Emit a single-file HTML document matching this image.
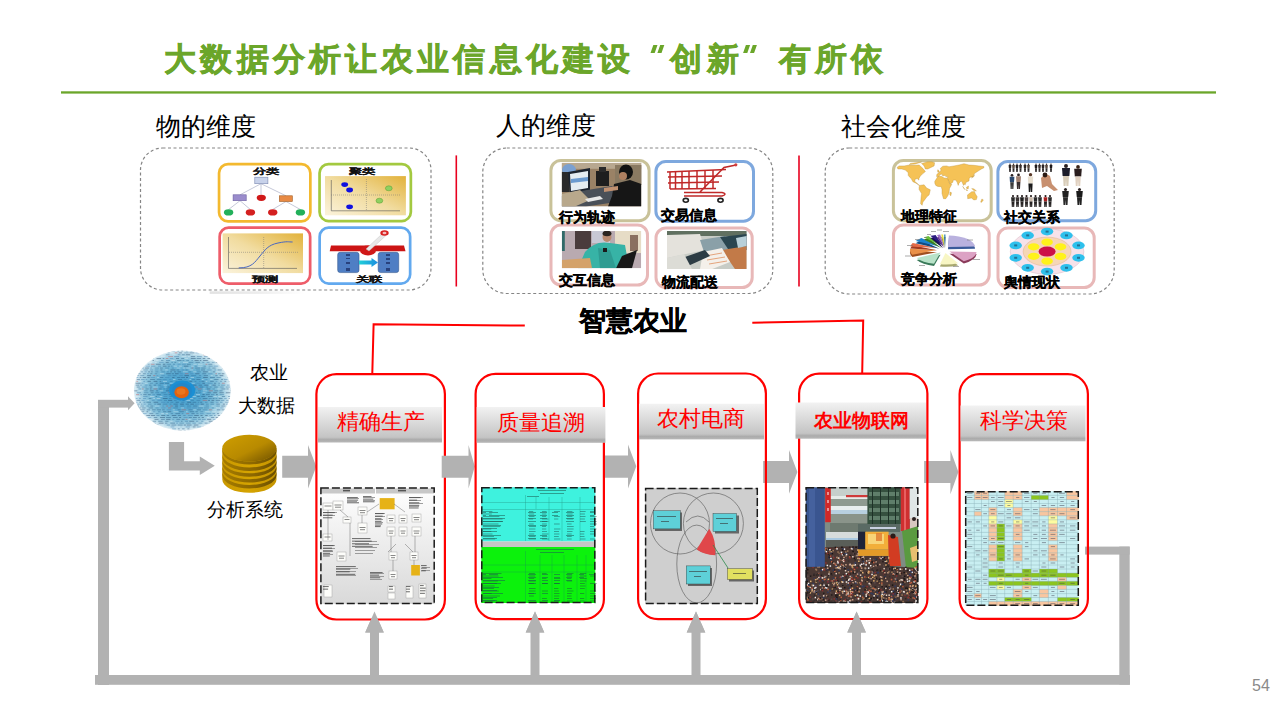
<!DOCTYPE html>
<html><head><meta charset="utf-8">
<style>
*{margin:0;padding:0;box-sizing:border-box}
html,body{width:1280px;height:719px;overflow:hidden;background:#fff}
body{position:relative;font-family:"Liberation Sans",sans-serif;color:#000}
.a{position:absolute;white-space:nowrap;line-height:1}
#title{left:164.2px;top:43.2px;font-size:32px;font-weight:bold;color:#6ba62a;letter-spacing:4.16px;-webkit-text-stroke:0.6px #6ba62a}
#title .q{display:inline-block;width:36.16px;height:1px}
.h{font-size:24.5px}
.ct{font-size:22px;color:#ff0000}
.lbl{font-size:14px;font-weight:bold;-webkit-text-stroke:0.3px #000}
.m{font-size:18px}
.sm{font-size:13px;font-weight:bold;color:#111;-webkit-text-stroke:0.3px #111;transform:scaleY(0.6);transform-origin:0 0}
svg{position:absolute;left:0;top:0}
</style></head>
<body>
<svg width="1280" height="719" viewBox="0 0 1280 719">
<defs>
  <linearGradient id="hdr" x1="0" y1="0" x2="0" y2="1">
    <stop offset="0" stop-color="#f2f2f2"/>
    <stop offset="0.85" stop-color="#c4c4c4"/>
    <stop offset="0.92" stop-color="#ababab"/>
    <stop offset="1" stop-color="#b8b8b8"/>
  </linearGradient>
  <linearGradient id="gold" x1="0" y1="1" x2="1" y2="0">
    <stop offset="0" stop-color="#fbf3dc"/>
    <stop offset="0.5" stop-color="#f1dca0"/>
    <stop offset="1" stop-color="#e2b23a"/>
  </linearGradient>
  <linearGradient id="dbtop" x1="0" y1="0" x2="1" y2="1">
    <stop offset="0" stop-color="#cf9e00"/>
    <stop offset="0.55" stop-color="#b88a00"/>
    <stop offset="1" stop-color="#6e5000"/>
  </linearGradient>
  <linearGradient id="dbside" x1="0" y1="0" x2="1" y2="0">
    <stop offset="0" stop-color="#c99800"/>
    <stop offset="0.5" stop-color="#d6a400"/>
    <stop offset="1" stop-color="#c49400"/>
  </linearGradient>
  <radialGradient id="globe" cx="0.5" cy="0.5" r="0.5">
    <stop offset="0" stop-color="#3a9ace"/>
    <stop offset="0.45" stop-color="#58a8d0"/>
    <stop offset="0.75" stop-color="#84c0da"/>
    <stop offset="0.92" stop-color="#b4d8e8"/>
    <stop offset="1" stop-color="#dcedf4"/>
  </radialGradient>
  <linearGradient id="dbband" x1="0" y1="0" x2="1" y2="0">
    <stop offset="0" stop-color="#a67c00"/>
    <stop offset="0.6" stop-color="#8a6600"/>
    <stop offset="1" stop-color="#6a4e00"/>
  </linearGradient>
  <linearGradient id="fc" x1="0" y1="0" x2="0" y2="1">
    <stop offset="0" stop-color="#ffffff"/>
    <stop offset="1" stop-color="#d9d9d9"/>
  </linearGradient>
</defs>

<!-- green rule -->
<rect x="61" y="91.3" width="1155" height="2.3" fill="#6ba62a"/>
<g fill="#6ba62a">
  <polygon points="653.3,45 657.5,45 654.7,52.9 650.5,52.9"/>
  <polygon points="660.2,45 664.3,45 661.5,52.9 657.4,52.9"/>
  <polygon points="745.9,45 750.1,45 747.3,52.9 743.1,52.9"/>
  <polygon points="752.8,45 756.9,45 754.1,52.9 750,52.9"/>
</g>
<!-- dashed boxes -->
<g fill="none" stroke="#858585" stroke-width="1.2" stroke-dasharray="3 2.5">
  <rect x="140.5" y="148" width="290.5" height="142" rx="22"/>
  <rect x="482.8" y="148" width="290" height="145.5" rx="24"/>
  <rect x="825.2" y="148" width="289" height="146" rx="24"/>
</g>
<!-- red separators -->
<g stroke="#e8001e" stroke-width="1.6">
  <line x1="456.3" y1="155.4" x2="456.3" y2="286.5"/>
  <line x1="799" y1="155.6" x2="799" y2="286.5"/>
</g>

<linearGradient id="fb" x1="0" x2="1"><stop offset="0" stop-color="#e2e2e2"/><stop offset="0.5" stop-color="#ececec"/><stop offset="1" stop-color="#fff"/></linearGradient>
<rect x="209.7" y="291.3" width="95" height="2.6" fill="url(#fb)"/>
<!-- tiles -->
<rect x="219.05" y="164.05" width="91.30" height="57.40" rx="9" fill="#fff" stroke="#f3b92f" stroke-width="2.7"/>
<rect x="319.55" y="164.05" width="91.30" height="57.00" rx="9" fill="#fff" stroke="#a3c940" stroke-width="2.7"/>
<rect x="219.65" y="227.65" width="90.50" height="55.90" rx="9" fill="#fff" stroke="#ee5d6a" stroke-width="2.7"/>
<rect x="319.65" y="227.65" width="90.50" height="55.90" rx="9" fill="#fff" stroke="#62a9ef" stroke-width="2.7"/>
<g stroke="#8a90b0" stroke-width="0.5" fill="none"><path d="M261 183.7L240 194.8M261 183.7V194.5M261 183.7L286 195.8M240 200.7L228.6 209.5M240 200.7L250.4 209.5M286 201.5L272.7 209.5M286 201.5L300.4 209.5"/></g>
<rect x="254.8" y="177.2" width="13.1" height="6.5" fill="#c8d2ea" stroke="#7a88b0" stroke-width="0.6"/>
<rect x="233.1" y="194.8" width="13.1" height="5.9" fill="#9a8ccc" stroke="#6a5ca0" stroke-width="0.6"/>
<rect x="279.4" y="195.8" width="12.9" height="5.7" fill="#e88a44" stroke="#a05a20" stroke-width="0.6"/>
<ellipse cx="261.3" cy="197.8" rx="4.6" ry="3.1" fill="#d01818"/>
<ellipse cx="228.6" cy="212.4" rx="4.7" ry="3.1" fill="#22b05a"/>
<ellipse cx="250.4" cy="212.4" rx="4.7" ry="3.1" fill="#d42020"/>
<ellipse cx="272.7" cy="212.4" rx="4.7" ry="3.1" fill="#d42020"/>
<ellipse cx="300.4" cy="212.4" rx="4.7" ry="3.1" fill="#22b05a"/>
<rect x="325" y="176.1" width="80.9" height="39.2" fill="url(#gold)"/>
<g stroke="#555" stroke-width="0.6" fill="none"><path d="M331.3 180V210.8H400"/></g>
<g stroke="#777" stroke-width="0.5" stroke-dasharray="1 1"><path d="M366.4 179V211M331 195H401"/></g>
<ellipse cx="344.7" cy="184.6" rx="3.4" ry="2.4" fill="#1010e0"/>
<ellipse cx="349.6" cy="190" rx="3.4" ry="2.4" fill="#1010e0"/>
<ellipse cx="349.6" cy="206.8" rx="3.4" ry="2.4" fill="#1010e0"/>
<ellipse cx="388.8" cy="188.3" rx="3.4" ry="2.5" fill="#8fd060" stroke="#5a9a30" stroke-width="0.5"/>
<ellipse cx="379.4" cy="200.7" rx="3.4" ry="2.5" fill="#8fd060" stroke="#5a9a30" stroke-width="0.5"/>
<rect x="222.6" y="233.4" width="80.4" height="39.7" fill="url(#gold)"/>
<g stroke="#555" stroke-width="0.6" fill="none"><path d="M228.5 237V268.4H297"/></g>
<g stroke="#777" stroke-width="0.5" stroke-dasharray="1 1" fill="none"><path d="M263.7 237V268M229 252.3H298"/></g>
<path d="M238.7 267.9C252 268 255 262 260 256S268 245 278 243S288 242 292.6 242" fill="none" stroke="#4a68c0" stroke-width="1"/>
<path d="M331 245.5H404L405.5 251.3H329.7Z" fill="#cc1414"/>
<ellipse cx="368" cy="250.5" rx="8" ry="5" fill="#d01818"/>
<path d="M366 249L383 233L386 235.5L369 251Z" fill="#e8e8e8" stroke="#bbb" stroke-width="0.4"/>
<ellipse cx="384.5" cy="233" rx="4.2" ry="2.8" fill="#d82020"/>
<ellipse cx="384.5" cy="233" rx="2" ry="1.2" fill="#fff" opacity="0.7"/>
<rect x="337.7" y="252.3" width="21.3" height="20.3" rx="2.5" fill="#4f7ec4" stroke="#365a90" stroke-width="0.6"/>
<rect x="378.2" y="252.3" width="20.5" height="20.3" rx="2.5" fill="#4f7ec4" stroke="#365a90" stroke-width="0.6"/>
<linearGradient id="cy" x1="0" x2="1"><stop offset="0" stop-color="#20d0d8"/><stop offset="1" stop-color="#1c8ce0"/></linearGradient>
<path d="M359 260.5H371.5V258L378 262.5L371.5 267V264.5H359Z" fill="url(#cy)"/>
<g fill="#1a2a60" opacity="0.7"><rect x="346" y="254" width="4" height="2"/><rect x="346" y="258" width="4" height="1"/><rect x="346" y="262" width="4" height="2"/><rect x="346" y="268" width="4" height="3"/><rect x="386" y="254" width="4" height="2"/><rect x="386" y="258" width="4" height="2"/><rect x="386" y="262" width="4" height="2"/><rect x="386" y="268" width="4" height="3"/></g>
<rect x="550.90" y="160.40" width="98.20" height="60.30" rx="10" fill="#fff" stroke="#c9c299" stroke-width="3"/>
<rect x="655.90" y="161.40" width="97.60" height="59.80" rx="10" fill="#fff" stroke="#7ea8de" stroke-width="3"/>
<rect x="551.00" y="225.00" width="96.50" height="60.10" rx="10" fill="#fff" stroke="#e8b8b8" stroke-width="3"/>
<rect x="656.00" y="228.00" width="96.20" height="59.60" rx="10" fill="#fff" stroke="#e8b8b8" stroke-width="3"/>
<clipPath id="p1"><rect x="561.7" y="162.8" width="79.7" height="43.8"/></clipPath><g clip-path="url(#p1)">
<rect x="561.7" y="162.8" width="79.7" height="43.8" fill="#9a8266"/>
<rect x="561.7" y="162.8" width="79.7" height="6" fill="#b8a890"/>
<rect x="615" y="165" width="27" height="20" fill="#8a7a62"/>
<ellipse cx="569" cy="170" rx="7" ry="6" fill="#7aa0d0"/>
<rect x="561.7" y="172" width="8" height="20" fill="#2a2a2a"/>
<path d="M568 172L590 168V190L570 194Z" fill="#1c2430"/>
<path d="M570 174L588 171V188L571 191Z" fill="#e4ecf2"/>
<path d="M571 179L588 177V181L571 183Z" fill="#6a9ad0"/>
<rect x="596" y="171" width="13" height="15" fill="#1e1e1e"/>
<rect x="599" y="167" width="7" height="5" fill="#2a2a2a"/>
<path d="M575 192L612 186L630 200L586 206.6H561.7V196Z" fill="#4a5058"/>
<path d="M561.7 194L580 190L590 200L575 206.6H561.7Z" fill="#b8a88c"/>
<path d="M585 199L600 196L603 199L588 202Z" fill="#e8e8e8"/>
<ellipse cx="626" cy="172" rx="7" ry="7.5" fill="#121212"/>
<ellipse cx="623" cy="176" rx="4" ry="4" fill="#b08060"/>
<path d="M614 184L630 180L641.4 184V206.6H608L612 196Z" fill="#161616"/>
<path d="M604 188L618 186L618 190L604 192Z" fill="#c09070"/>
</g>
<g fill="none" stroke="#c02828" stroke-width="1.5">
<path d="M667 172L726 169.5M668 177L722 176M668 183L719 182M670 189L716 188.5"/>
<path d="M670 172V189M675.5 172V189M682 171.5V189M689 171V189M697 171V189M705 170V189M713 170V189"/>
<path d="M700 192L724 167.5L736 165M684 192.5L722 192.5Q728 194 722 196H684"/>
</g>
<circle cx="735.8" cy="164.8" r="1.6" fill="#d04040"/>
<g fill="#fff" stroke="#222" stroke-width="1.6"><ellipse cx="685.8" cy="200.3" rx="2.6" ry="1.9"/><ellipse cx="720.5" cy="200.3" rx="2.6" ry="1.9"/></g>
<clipPath id="p3"><rect x="561.8" y="231" width="79.4" height="37.3"/></clipPath><g clip-path="url(#p3)">
<rect x="561.8" y="231" width="79.4" height="37.3" fill="#b9aab0"/>
<rect x="575" y="231" width="16" height="18" fill="#4a3c3c"/>
<rect x="592" y="231" width="18" height="12" fill="#c8c8d4"/>
<rect x="615" y="231" width="26.2" height="22" fill="#e6dcc6"/>
<rect x="630" y="235" width="8" height="16" fill="#8a7060"/>
<rect x="561.8" y="231" width="3" height="20" fill="#306a68"/>
<path d="M578 268.3L585 252Q595 240 610 243L625 245L628 262L620 268.3Z" fill="#37b3a6"/>
<path d="M598 248L610 250L616 268.3H600Z" fill="#2e9c92"/>
<ellipse cx="607" cy="237" rx="4.5" ry="5" fill="#b88a70"/>
<ellipse cx="607" cy="233.5" rx="4.5" ry="2.8" fill="#2a2420"/>
<rect x="603" y="248" width="4" height="4" fill="#1a1a1a"/>
<path d="M622 256L637 250L632 268.3H616Z" fill="#181818"/>
<path d="M561.8 260L590 258L592 268.3H561.8Z" fill="#d4a26a"/>
</g>
<clipPath id="p4"><rect x="667" y="231" width="79.7" height="38.1"/></clipPath><g clip-path="url(#p4)">
<rect x="667" y="231" width="79.7" height="38.1" fill="#c8ccc6"/>
<rect x="667" y="231" width="79.7" height="5" fill="#607060"/>
<path d="M667 235L700 234L705 250L667 258Z" fill="#e4e2dc"/>
<path d="M700 240L725 236L730 250L705 255Z" fill="#8aa0a8"/>
<path d="M720 237L746.7 234V250L730 252Z" fill="#2a4650"/>
<path d="M722 250L746.7 246V269.1H735Z" fill="#c27a48"/>
<path d="M703 252L722 248L730 262L712 269.1H700Z" fill="#f4f0ea"/>
<path d="M705 256L722 253M707 260L725 257M709 264L727 261" stroke="#e09060" stroke-width="0.8"/>
<path d="M682 258L705 250L710 256L688 266Z" fill="#2c3c44"/>
<path d="M667 258L684 254L692 269.1H667Z" fill="#dcdcd6"/>
<path d="M736 238L746.7 236V246L738 248Z" fill="#b8d0d8"/>
</g>
<rect x="893.40" y="160.40" width="97.80" height="60.30" rx="10" fill="#fff" stroke="#c9c299" stroke-width="3"/>
<rect x="997.90" y="161.40" width="97.80" height="59.30" rx="10" fill="#fff" stroke="#7ea8de" stroke-width="3"/>
<rect x="893.50" y="225.00" width="95.70" height="60.10" rx="10" fill="#fff" stroke="#e8b8b8" stroke-width="3"/>
<rect x="998.00" y="228.00" width="96.20" height="59.60" rx="10" fill="#fff" stroke="#e8b8b8" stroke-width="3"/>
<g fill="#f5c256" stroke="#b38a34" stroke-width="0.35" stroke-linejoin="round">
<path d="M897.2 167.2L899.2 165.9L904.2 165.9L907.9 165.3L915.4 165.3L919.1 165.0L922.9 168.4L925.4 171.6L922.6 173.8L920.4 176.0L918.9 178.5L918.9 180.1L917.1 178.5L914.9 179.4L914.9 181.7L917.1 183.2L918.4 185.1L919.6 185.4L916.1 183.2L912.9 181.7L911.2 178.5L909.7 177.2L908.2 175.3L908.2 172.8L905.4 170.0L901.7 169.0L897.9 169.0Z"/>
<path d="M909.2 164.6L915.4 164.0L919.1 162.7L921.6 162.1L915.4 162.7L910.4 163.4Z"/>
<path d="M925.4 169.0L927.8 169.0L934.1 165.9L934.6 162.7L931.6 161.8L927.8 161.8L921.6 163.4L924.1 165.9Z"/>
<path d="M919.6 185.4L924.1 184.8L926.6 188.0L930.3 189.8L929.1 194.9L927.1 196.5L924.6 199.9L922.9 202.1L922.1 205.3L920.6 203.7L921.1 197.4L921.6 193.6L919.1 189.5L919.1 187.3Z"/>
<path d="M936.6 176.6L936.8 174.4L938.6 172.8L940.3 171.6L941.0 170.0L940.3 168.4L942.8 166.2L946.5 165.9L949.0 166.8L954.0 165.9L959.0 165.0L964.0 163.7L969.0 165.0L973.9 165.3L978.9 165.9L983.9 166.5L983.9 167.8L981.4 169.0L978.9 170.6L974.4 173.5L972.7 176.9L970.7 176.9L969.2 178.5L969.0 181.0L966.0 182.3L965.2 184.8L964.0 183.9L963.5 185.4L962.0 181.7L961.0 181.0L959.0 183.2L958.2 185.4L957.2 182.3L955.7 180.1L953.3 180.1L952.8 182.3L950.0 184.2L949.0 181.7L947.3 178.5L947.8 176.6L945.8 176.6L945.0 175.3L942.8 176.0L942.0 174.1L940.3 174.4L938.6 176.6Z"/>
<path d="M934.8 183.2L934.8 181.3L936.6 178.5L937.8 176.6L941.5 176.3L944.0 177.9L947.0 178.2L947.8 179.1L949.8 184.2L951.8 184.2L949.5 188.6L949.0 192.7L947.8 195.8L945.8 198.7L943.5 198.7L942.0 193.6L942.0 189.5L941.3 186.7L937.8 186.4L935.8 185.4Z"/>
<path d="M967.5 194.9L969.7 193.3L971.7 191.7L973.2 191.7L974.4 191.4L975.4 193.9L977.2 196.8L976.4 199.6L973.9 199.9L971.4 198.0L967.7 198.7Z"/>
<path d="M937.8 172.2L939.3 171.9L938.6 170.3L937.8 169.7L937.6 170.9Z"/>
<path d="M962.7 186.4L965.2 189.8L964.0 188.6Z"/>
<path d="M966.0 190.2L967.7 190.5L966.5 189.8Z"/>
<path d="M966.5 187.3L968.5 186.1L968.2 188.9L966.7 188.6Z"/>
<path d="M971.7 188.6L974.2 188.9L976.4 191.1L973.9 190.5Z"/>
<path d="M971.4 177.9L972.9 176.9L974.4 174.7L973.9 176.6Z"/>
<path d="M950.0 192.1L951.5 192.7L950.8 195.8L949.8 194.9Z"/>
<path d="M981.9 199.0L983.4 199.9L981.4 202.4L980.7 202.1Z"/>
</g>
<g><circle cx="1010.0" cy="164.3" r="0.77" fill="#2a2020"/><path d="M1008.6 165.0H1011.4L1011.1 168.2H1008.9Z" fill="#2a2424"/><path d="M1009.0 168.2H1011.0L1010.8 172.0H1010.1L1010.0 169.4L1009.9 172.0H1009.2Z" fill="#2a2626"/><circle cx="1013.5" cy="164.3" r="0.77" fill="#2a2020"/><path d="M1012.1 165.0H1014.9L1014.6 168.2H1012.4Z" fill="#5a4a40"/><path d="M1012.5 168.2H1014.5L1014.3 172.0H1013.6L1013.5 169.4L1013.4 172.0H1012.7Z" fill="#2a2626"/><circle cx="1017.0" cy="164.3" r="0.77" fill="#2a2020"/><path d="M1015.6 165.0H1018.4L1018.1 168.2H1015.9Z" fill="#1e1a1c"/><path d="M1016.0 168.2H1018.0L1017.8 172.0H1017.1L1017.0 169.4L1016.9 172.0H1016.2Z" fill="#2a2626"/><circle cx="1020.5" cy="164.3" r="0.77" fill="#2a2020"/><path d="M1019.1 165.0H1021.9L1021.6 168.2H1019.4Z" fill="#3a3030"/><path d="M1019.5 168.2H1021.5L1021.3 172.0H1020.6L1020.5 169.4L1020.4 172.0H1019.7Z" fill="#2a2626"/><circle cx="1025.0" cy="164.3" r="0.77" fill="#2a2020"/><path d="M1023.6 165.0H1026.4L1026.1 168.2H1023.9Z" fill="#2a2424"/><path d="M1024.0 168.2H1026.0L1025.8 172.0H1025.1L1025.0 169.4L1024.9 172.0H1024.2Z" fill="#2a2626"/><circle cx="1028.5" cy="164.3" r="0.77" fill="#2a2020"/><path d="M1027.1 165.0H1029.9L1029.6 168.2H1027.4Z" fill="#5a4a40"/><path d="M1027.5 168.2H1029.5L1029.3 172.0H1028.6L1028.5 169.4L1028.4 172.0H1027.7Z" fill="#2a2626"/><circle cx="1036.0" cy="164.3" r="0.77" fill="#2a2020"/><path d="M1034.6 165.0H1037.4L1037.1 168.2H1034.9Z" fill="#1e1a1c"/><path d="M1035.0 168.2H1037.0L1036.8 172.0H1036.1L1036.0 169.4L1035.9 172.0H1035.2Z" fill="#2a2626"/><circle cx="1039.5" cy="164.3" r="0.77" fill="#2a2020"/><path d="M1038.1 165.0H1040.9L1040.6 168.2H1038.4Z" fill="#3a3030"/><path d="M1038.5 168.2H1040.5L1040.3 172.0H1039.6L1039.5 169.4L1039.4 172.0H1038.7Z" fill="#2a2626"/><circle cx="1043.0" cy="164.3" r="0.77" fill="#2a2020"/><path d="M1041.6 165.0H1044.4L1044.1 168.2H1041.9Z" fill="#2a2424"/><path d="M1042.0 168.2H1044.0L1043.8 172.0H1043.1L1043.0 169.4L1042.9 172.0H1042.2Z" fill="#2a2626"/><circle cx="1046.5" cy="164.3" r="0.77" fill="#2a2020"/><path d="M1045.1 165.0H1047.9L1047.6 168.2H1045.4Z" fill="#5a4a40"/><path d="M1045.5 168.2H1047.5L1047.3 172.0H1046.6L1046.5 169.4L1046.4 172.0H1045.7Z" fill="#2a2626"/><circle cx="1051.0" cy="164.3" r="0.77" fill="#2a2020"/><path d="M1049.6 165.0H1052.4L1052.1 168.2H1049.9Z" fill="#1e1a1c"/><path d="M1050.0 168.2H1052.0L1051.8 172.0H1051.1L1051.0 169.4L1050.9 172.0H1050.2Z" fill="#2a2626"/><circle cx="1012.0" cy="175.3" r="1.35" fill="#2a2020"/><path d="M1009.6 176.7H1014.4L1014.0 182.2H1010.0Z" fill="#2c4a70"/><path d="M1010.2 182.2H1013.8L1013.4 189.0H1012.2L1012.0 184.5L1011.8 189.0H1010.6Z" fill="#3a3a3a"/><circle cx="1018.5" cy="174.9" r="1.40" fill="#2a2020"/><path d="M1016.0 176.3H1021.0L1020.6 182.0H1016.4Z" fill="#a08070"/><path d="M1016.6 182.0H1020.4L1020.0 189.0H1018.7L1018.5 184.3L1018.3 189.0H1017.0Z" fill="#3a3030"/><circle cx="1030.5" cy="174.7" r="1.71" fill="#5a3a2a"/><path d="M1027.8 176.4H1033.2L1032.8 183.4H1028.2Z" fill="#e8e0d0"/><path d="M1028.4 183.4H1032.6L1032.2 192.0H1030.8L1030.5 186.3L1030.2 192.0H1028.8Z" fill="#1a1a1a"/><path d="M1041 178Q1046 172 1050 176L1052 184L1058 190L1054 191L1047 186L1042 188Z" fill="#c89070"/><circle cx="1045" cy="175" r="2.4" fill="#2a1a14"/><circle cx="1066.0" cy="166.0" r="1.98" fill="#2a2020"/><path d="M1062.0 168.0H1070.0L1069.4 176.1H1062.6Z" fill="#1c1c2a"/><path d="M1063.0 176.1H1069.0L1068.4 186.0H1066.4L1066.0 179.4L1065.6 186.0H1063.6Z" fill="#d8ccb8"/><circle cx="1078.0" cy="166.9" r="1.89" fill="#3a2418"/><path d="M1074.2 168.8H1081.8L1081.2 176.6H1074.8Z" fill="#2a1e1e"/><path d="M1075.2 176.6H1080.8L1080.2 186.0H1078.4L1078.0 179.7L1077.6 186.0H1075.8Z" fill="#e0d0c0"/><circle cx="1013.0" cy="196.1" r="1.08" fill="#2a2020"/><path d="M1011.1 197.2H1014.9L1014.6 201.6H1011.4Z" fill="#2a2a2a"/><path d="M1011.5 201.6H1014.5L1014.2 207.0H1013.2L1013.0 203.4L1012.8 207.0H1011.8Z" fill="#262222"/><circle cx="1017.5" cy="196.1" r="1.08" fill="#2a2020"/><path d="M1015.6 197.2H1019.4L1019.1 201.6H1015.9Z" fill="#3a3434"/><path d="M1016.0 201.6H1019.0L1018.7 207.0H1017.7L1017.5 203.4L1017.3 207.0H1016.3Z" fill="#262222"/><circle cx="1022.0" cy="196.1" r="1.08" fill="#2a2020"/><path d="M1020.1 197.2H1023.9L1023.6 201.6H1020.4Z" fill="#1e1e1e"/><path d="M1020.5 201.6H1023.5L1023.2 207.0H1022.2L1022.0 203.4L1021.8 207.0H1020.8Z" fill="#262222"/><circle cx="1026.5" cy="196.1" r="1.08" fill="#2a2020"/><path d="M1024.6 197.2H1028.4L1028.1 201.6H1024.9Z" fill="#4a4040"/><path d="M1025.0 201.6H1028.0L1027.7 207.0H1026.7L1026.5 203.4L1026.3 207.0H1025.3Z" fill="#262222"/><circle cx="1031.0" cy="196.1" r="1.08" fill="#2a2020"/><path d="M1029.1 197.2H1032.9L1032.6 201.6H1029.4Z" fill="#c8b8a8"/><path d="M1029.5 201.6H1032.5L1032.2 207.0H1031.2L1031.0 203.4L1030.8 207.0H1029.8Z" fill="#262222"/><circle cx="1035.5" cy="196.1" r="1.08" fill="#2a2020"/><path d="M1033.6 197.2H1037.4L1037.1 201.6H1033.9Z" fill="#2a2a2a"/><path d="M1034.0 201.6H1037.0L1036.7 207.0H1035.7L1035.5 203.4L1035.3 207.0H1034.3Z" fill="#262222"/><circle cx="1040.0" cy="196.1" r="1.08" fill="#2a2020"/><path d="M1038.1 197.2H1041.9L1041.6 201.6H1038.4Z" fill="#2a2a2a"/><path d="M1038.5 201.6H1041.5L1041.2 207.0H1040.2L1040.0 203.4L1039.8 207.0H1038.8Z" fill="#262222"/><circle cx="1045.5" cy="196.1" r="1.08" fill="#2a2020"/><path d="M1043.6 197.2H1047.4L1047.1 201.6H1043.9Z" fill="#a82020"/><path d="M1044.0 201.6H1047.0L1046.7 207.0H1045.7L1045.5 203.4L1045.3 207.0H1044.3Z" fill="#262222"/><circle cx="1050.0" cy="196.1" r="1.08" fill="#2a2020"/><path d="M1048.1 197.2H1051.9L1051.6 201.6H1048.4Z" fill="#2a2a2a"/><path d="M1048.5 201.6H1051.5L1051.2 207.0H1050.2L1050.0 203.4L1049.8 207.0H1048.8Z" fill="#262222"/><circle cx="1065.5" cy="189.5" r="1.53" fill="#2a2020"/><path d="M1062.2 191.1H1068.8L1068.2 197.3H1062.8Z" fill="#222"/><path d="M1063.0 197.3H1068.0L1067.5 205.0H1065.8L1065.5 199.9L1065.2 205.0H1063.5Z" fill="#2a2a2a"/><circle cx="1079.5" cy="189.5" r="1.53" fill="#2a2020"/><path d="M1076.2 191.1H1082.8L1082.2 197.3H1076.8Z" fill="#1a1a1a"/><path d="M1077.0 197.3H1082.0L1081.5 205.0H1079.8L1079.5 199.9L1079.2 205.0H1077.5Z" fill="#222"/></g>
<path d="M948.0 249.2L948.9 237.7A27 11.5 0 0 1 975.0 248.8Z" fill="#3a5a9a"/>
<path d="M948.0 247.0L948.9 235.5A27 11.5 0 0 1 975.0 246.6Z" fill="#b9b1de"/>
<path d="M949.5 253.7L976.5 254.1A27 11.5 0 0 1 963.8 263.5Z" fill="#8a3a5a"/>
<path d="M949.5 251.5L976.5 251.9A27 11.5 0 0 1 963.8 261.3Z" fill="#dca2c4"/>
<path d="M945.5 255.2L958.2 265.4A27 11.5 0 0 1 939.9 266.4Z" fill="#a8a870"/>
<path d="M945.5 253.0L958.2 263.2A27 11.5 0 0 1 939.9 264.2Z" fill="#f8f6c4"/>
<path d="M940.5 254.7L934.0 265.9A27 11.5 0 0 1 916.7 260.1Z" fill="#3a7a5a"/>
<path d="M940.5 252.5L934.0 263.7A27 11.5 0 0 1 916.7 257.9Z" fill="#b8e2c8"/>
<path d="M937.0 252.2L912.3 256.9A27 11.5 0 0 1 910.1 251.0Z" fill="#a05020"/>
<path d="M937.0 250.0L912.3 254.7A27 11.5 0 0 1 910.1 248.8Z" fill="#ea9048"/>
<path d="M937.0 250.2L910.3 248.6A27 11.5 0 0 1 912.7 245.2Z" fill="#a03a20"/>
<path d="M937.0 248.0L910.3 246.4A27 11.5 0 0 1 912.7 243.0Z" fill="#e46a48"/>
<path d="M939.5 248.7L915.7 243.3A27 11.5 0 0 1 921.4 240.2Z" fill="#104a80"/>
<path d="M939.5 246.5L915.7 241.1A27 11.5 0 0 1 921.4 238.0Z" fill="#1a82d0"/>
<path d="M941.5 248.2L923.8 239.5A27 11.5 0 0 1 928.4 238.1Z" fill="#3a7a20"/>
<path d="M941.5 246.0L923.8 237.3A27 11.5 0 0 1 928.4 235.9Z" fill="#68c038"/>
<path d="M943.0 248.2L930.3 238.0A27 11.5 0 0 1 935.6 237.1Z" fill="#1a1050"/>
<path d="M943.0 246.0L930.3 235.8A27 11.5 0 0 1 935.6 234.9Z" fill="#2a1a80"/>
<path d="M944.0 248.2L937.0 237.1A27 11.5 0 0 1 940.2 236.8Z" fill="#603080"/>
<path d="M944.0 246.0L937.0 234.9A27 11.5 0 0 1 940.2 234.6Z" fill="#a070c8"/>
<path d="M944.5 248.2L941.2 236.8A27 11.5 0 0 1 943.1 236.7Z" fill="#908a20"/>
<path d="M944.5 246.0L941.2 234.6A27 11.5 0 0 1 943.1 234.5Z" fill="#e8e040"/>
<path d="M945.0 248.2L944.1 236.7A27 11.5 0 0 1 945.5 236.7Z" fill="#1a4a60"/>
<path d="M945.0 246.0L944.1 234.5A27 11.5 0 0 1 945.5 234.5Z" fill="#3a8ab0"/>
<g fill="#777" opacity="0.6"><rect x="967" y="239.5" width="6" height="1"/><rect x="973" y="259" width="7" height="1"/><rect x="953" y="266" width="6" height="1"/><rect x="919" y="265" width="6" height="1"/><rect x="905" y="255.5" width="6" height="1"/><rect x="907" y="245" width="6" height="1"/><rect x="915" y="239" width="5" height="1"/><rect x="924" y="237" width="3" height="1"/><rect x="927" y="234" width="4" height="1"/><rect x="931" y="231" width="5" height="1"/><rect x="937" y="229.5" width="5" height="1"/><rect x="943" y="231" width="6" height="1"/></g>
<ellipse cx="1047.1" cy="251.6" rx="36.8" ry="22.8" fill="#f6e2ea" stroke="#d0a8b8" stroke-width="0.4"/>
<ellipse cx="1047.1" cy="251.6" rx="24" ry="14.5" fill="#f6d6b6" stroke="#d8a880" stroke-width="0.4"/>
<ellipse cx="1078.5" cy="257.8" rx="6.2" ry="3.9" fill="#2ec0ec"/>
<rect x="1077.0" y="256.8" width="3" height="2" fill="#1a3a5a" opacity="0.6"/>
<ellipse cx="1066.5" cy="267.8" rx="6.2" ry="3.9" fill="#2ec0ec"/>
<rect x="1065.0" y="266.8" width="3" height="2" fill="#1a3a5a" opacity="0.6"/>
<ellipse cx="1047.1" cy="271.6" rx="6.2" ry="3.9" fill="#2ec0ec"/>
<rect x="1045.6" y="270.6" width="3" height="2" fill="#1a3a5a" opacity="0.6"/>
<ellipse cx="1027.7" cy="267.8" rx="6.2" ry="3.9" fill="#2ec0ec"/>
<rect x="1026.2" y="266.8" width="3" height="2" fill="#1a3a5a" opacity="0.6"/>
<ellipse cx="1015.7" cy="257.8" rx="6.2" ry="3.9" fill="#2ec0ec"/>
<rect x="1014.2" y="256.8" width="3" height="2" fill="#1a3a5a" opacity="0.6"/>
<ellipse cx="1015.7" cy="245.4" rx="6.2" ry="3.9" fill="#2ec0ec"/>
<rect x="1014.2" y="244.4" width="3" height="2" fill="#1a3a5a" opacity="0.6"/>
<ellipse cx="1027.7" cy="235.4" rx="6.2" ry="3.9" fill="#2ec0ec"/>
<rect x="1026.2" y="234.4" width="3" height="2" fill="#1a3a5a" opacity="0.6"/>
<ellipse cx="1047.1" cy="231.6" rx="6.2" ry="3.9" fill="#2ec0ec"/>
<rect x="1045.6" y="230.6" width="3" height="2" fill="#1a3a5a" opacity="0.6"/>
<ellipse cx="1066.5" cy="235.4" rx="6.2" ry="3.9" fill="#2ec0ec"/>
<rect x="1065.0" y="234.4" width="3" height="2" fill="#1a3a5a" opacity="0.6"/>
<ellipse cx="1078.5" cy="245.4" rx="6.2" ry="3.9" fill="#2ec0ec"/>
<rect x="1077.0" y="244.4" width="3" height="2" fill="#1a3a5a" opacity="0.6"/>
<ellipse cx="1047.1" cy="261.1" rx="5.8" ry="3.6" fill="#fff21a"/>
<ellipse cx="1033.7" cy="256.3" rx="5.8" ry="3.6" fill="#fff21a"/>
<ellipse cx="1033.7" cy="246.8" rx="5.8" ry="3.6" fill="#fff21a"/>
<ellipse cx="1047.1" cy="242.1" rx="5.8" ry="3.6" fill="#fff21a"/>
<ellipse cx="1060.5" cy="246.8" rx="5.8" ry="3.6" fill="#fff21a"/>
<ellipse cx="1060.5" cy="256.4" rx="5.8" ry="3.6" fill="#fff21a"/>
<ellipse cx="1047.1" cy="251.6" rx="8.5" ry="5" fill="#cc1048"/>
<!-- ===== BOTTOM DIAGRAM ===== -->
<!-- feedback loop (gray) -->
<g fill="#b2b2b2">
  <rect x="98" y="403" width="11" height="282"/>
  <rect x="95" y="675" width="1035" height="9.8"/>
  <rect x="1119.3" y="546.6" width="10.4" height="138"/>
  <rect x="1085" y="546.6" width="44.7" height="8"/>
  <rect x="98" y="399.8" width="31" height="7.8"/>
  <polygon points="128,396.3 134.6,403.3 128,410.3"/>
  <!-- up arrows -->
  <g id="up">
    <rect x="370" y="630" width="9" height="46"/>
    <polygon points="374.5,611.4 383.8,632.5 365.2,632.5"/>
  </g>
  <rect x="530.5" y="630" width="9" height="46"/>
  <polygon points="535,611.4 544.3,632.5 525.7,632.5"/>
  <rect x="691.5" y="630" width="9" height="46"/>
  <polygon points="696,611.4 705.3,632.5 686.7,632.5"/>
  <rect x="852" y="630" width="9" height="46"/>
  <polygon points="856.6,611.4 865.9,632.5 847.3,632.5"/>
  <!-- L arrow globe -> db -->
  <polygon points="168.9,442 184.1,442 184.1,461.3 199.8,461.3 199.8,456.6 214.8,465.8 199.8,474.9 199.8,470.6 168.9,470.6"/>
</g>

<!-- right arrows -->
<g fill="#b2b2b2">
  <polygon points="282.2,455.8 308,455.8 308,445 316.3,466.5 308,488.4 308,477.7 282.2,477.7"/>
  <polygon points="604,455.5 628,455.5 628,444.6 636.3,466.3 628,488.4 628,477.7 604,477.7"/>
  <polygon points="763.1,461 789,461 789,450 797.4,471.9 789,493.8 789,483 763.1,483"/>
  <polygon points="924.1,461 950.4,461 950.4,450 958.4,472 950.4,494.3 950.4,483 924.1,483"/>
</g>
<!-- cards -->
<g fill="#fff" stroke="#ff0000" stroke-width="2.2">
  <rect x="316.4" y="374.1" width="128.5" height="245.4" rx="20"/>
</g>
<polygon fill="#b2b2b2" points="441.7,455.8 468.5,455.8 468.5,445 474.8,466.5 468.5,488.4 468.5,477.7 441.7,477.7"/>
<g fill="none" stroke="#ff0000" stroke-width="2.2">
  <rect x="475.6" y="373.9" width="128.3" height="245.3" rx="20"/>
  <rect x="638.1" y="373.5" width="127.8" height="245.6" rx="20"/>
  <rect x="799.1" y="373.6" width="128.3" height="245.4" rx="20"/>
  <rect x="959.6" y="374.1" width="128.3" height="244.8" rx="20"/>
</g>
<!-- header bands -->
<rect x="318" y="407" width="124" height="35.5" fill="url(#hdr)"/>
<rect x="476.7" y="407" width="128.7" height="35.8" fill="url(#hdr)"/>
<rect x="639" y="403.8" width="125" height="35.6" fill="url(#hdr)"/>
<rect x="795.5" y="402.5" width="130.5" height="36.2" fill="url(#hdr)"/>
<rect x="960.5" y="405.5" width="125" height="35.8" fill="url(#hdr)"/>
<!-- connector lines -->
<g fill="none" stroke="#ff0000" stroke-width="2">
  <polyline points="524.8,325.6 373.6,324.2 372.3,373.4"/>
  <polyline points="752.3,322.8 863.2,320.4 862.2,373"/>
</g>
<!-- up arrow heads over card bottoms -->
<g fill="#b2b2b2">
  <polygon points="374.5,611.4 383.8,632.5 365.2,632.5"/>
  <polygon points="535,611.4 544.3,632.5 525.7,632.5"/>
  <polygon points="696,611.4 705.3,632.5 686.7,632.5"/>
  <polygon points="856.6,611.4 865.9,632.5 847.3,632.5"/>
</g>
<!-- CARD IMAGES -->
<!-- card1 flowchart -->
<g>
  <rect x="320.4" y="487.6" width="114.3" height="116.3" fill="url(#fc)"/>
  <rect x="321" y="488.5" width="54" height="5" fill="#c8c8c8"/>
  <rect x="376" y="488.5" width="58" height="5" fill="#c8c8c8"/>
  <rect x="379.7" y="498.1" width="14.9" height="11.2" fill="#e6b217"/>
  <rect x="411.2" y="565" width="8.7" height="10.5" fill="#e6b217"/>
  <g fill="#fdfdfa" stroke="#a8a8a8" stroke-width="0.5">
    <rect x="323" y="503" width="10" height="7"/><rect x="333" y="501" width="10" height="9"/>
    <rect x="343" y="517" width="8" height="6"/><rect x="358" y="507" width="9" height="8"/>
    <rect x="358" y="523" width="9" height="10"/><rect x="323" y="534" width="9" height="7"/>
    <rect x="337" y="552" width="9" height="9"/><rect x="387" y="515" width="8" height="8"/>
    <rect x="399" y="515" width="8" height="8"/><rect x="412" y="514" width="9" height="8"/>
    <rect x="387" y="527" width="8" height="9"/><rect x="399" y="527" width="8" height="9"/>
    <rect x="412" y="527" width="9" height="9"/><rect x="389" y="552" width="8" height="8"/>
    <rect x="410" y="552" width="8" height="8"/><rect x="389" y="571" width="8" height="8"/>
    <rect x="388" y="586" width="7" height="6"/><rect x="388" y="593" width="7" height="6"/>
    <rect x="406" y="586" width="7" height="12"/><rect x="419" y="584" width="7" height="14"/>
    <rect x="324" y="585" width="8" height="12"/>
  </g>
  <g stroke="#444" stroke-width="0.5" opacity="0.75">
    <path d="M328 510V540M340 510L348 517M350 523V556M362 515V523M367 512L379 504M394 504L405 512M391 536V552M415 536V552M396 544L388 552M405 544L413 552M393 560V571M414 560V565"/>
  </g>
  <g fill="#888" opacity="0.8">
    <rect x="323" y="512" width="14" height="1"/><rect x="323" y="515" width="12" height="1"/>
    <rect x="347" y="498" width="12" height="1"/><rect x="347" y="501" width="10" height="1"/>
    <rect x="363" y="497" width="12" height="1"/><rect x="363" y="500" width="12" height="1"/>
    <rect x="375" y="513" width="10" height="1"/><rect x="375" y="516" width="10" height="1"/>
    <rect x="375" y="519" width="8" height="1"/><rect x="375" y="522" width="8" height="1"/>
    <rect x="375" y="525" width="6" height="1"/><rect x="355" y="541" width="22" height="1"/>
    <rect x="355" y="544" width="24" height="1"/><rect x="355" y="547" width="22" height="1"/>
    <rect x="355" y="550" width="20" height="1"/><rect x="355" y="553" width="18" height="1"/>
    <rect x="336" y="568" width="22" height="1"/><rect x="336" y="571" width="20" height="1"/>
    <rect x="336" y="575" width="20" height="1"/><rect x="370" y="573" width="14" height="1"/>
    <rect x="370" y="576" width="14" height="1"/><rect x="370" y="579" width="12" height="1"/>
    <rect x="409" y="497" width="14" height="1"/><rect x="409" y="500" width="12" height="1"/>
    <rect x="409" y="503" width="14" height="1"/><rect x="409" y="506" width="10" height="1"/>
    <rect x="422" y="567" width="8" height="1"/><rect x="422" y="570" width="8" height="1"/>
    <rect x="323" y="545" width="12" height="1"/><rect x="323" y="548" width="12" height="1"/>
    <rect x="323" y="551" width="10" height="1"/><rect x="323" y="554" width="10" height="1"/>
  </g>
  <rect x="343" y="489.8" width="7" height="1.6" fill="#555"/><rect x="398" y="489.8" width="8" height="1.6" fill="#555"/>
<rect x="347" y="497.0" width="10.8" height="1.1" fill="#4a4a4a" opacity="0.75"/>
<rect x="347" y="499.6" width="11.1" height="1.1" fill="#4a4a4a" opacity="0.75"/>
<rect x="347" y="502.2" width="12.0" height="1.1" fill="#4a4a4a" opacity="0.75"/>
<rect x="363" y="496.0" width="8.5" height="1.1" fill="#4a4a4a" opacity="0.75"/>
<rect x="363" y="498.6" width="10.3" height="1.1" fill="#4a4a4a" opacity="0.75"/>
<rect x="363" y="501.2" width="11.5" height="1.1" fill="#4a4a4a" opacity="0.75"/>
<rect x="409" y="497.0" width="11.6" height="1.1" fill="#4a4a4a" opacity="0.75"/>
<rect x="409" y="499.6" width="8.1" height="1.1" fill="#4a4a4a" opacity="0.75"/>
<rect x="409" y="502.2" width="10.3" height="1.1" fill="#4a4a4a" opacity="0.75"/>
<rect x="409" y="504.8" width="10.2" height="1.1" fill="#4a4a4a" opacity="0.75"/>
<rect x="409" y="507.4" width="9.6" height="1.1" fill="#4a4a4a" opacity="0.75"/>
<rect x="323" y="512.0" width="11.8" height="1.1" fill="#4a4a4a" opacity="0.75"/>
<rect x="323" y="514.6" width="9.7" height="1.1" fill="#4a4a4a" opacity="0.75"/>
<rect x="323" y="517.2" width="9.3" height="1.1" fill="#4a4a4a" opacity="0.75"/>
<rect x="375" y="513.0" width="8.8" height="1.1" fill="#4a4a4a" opacity="0.75"/>
<rect x="375" y="515.6" width="7.7" height="1.1" fill="#4a4a4a" opacity="0.75"/>
<rect x="375" y="518.2" width="6.5" height="1.1" fill="#4a4a4a" opacity="0.75"/>
<rect x="375" y="520.8" width="6.5" height="1.1" fill="#4a4a4a" opacity="0.75"/>
<rect x="375" y="523.4" width="7.2" height="1.1" fill="#4a4a4a" opacity="0.75"/>
<rect x="375" y="526.0" width="5.6" height="1.1" fill="#4a4a4a" opacity="0.75"/>
<rect x="352" y="538.0" width="18.5" height="1.1" fill="#4a4a4a" opacity="0.75"/>
<rect x="352" y="540.6" width="19.7" height="1.1" fill="#4a4a4a" opacity="0.75"/>
<rect x="352" y="543.2" width="17.0" height="1.1" fill="#4a4a4a" opacity="0.75"/>
<rect x="352" y="545.8" width="20.6" height="1.1" fill="#4a4a4a" opacity="0.75"/>
<rect x="323" y="545.0" width="10.7" height="1.1" fill="#4a4a4a" opacity="0.75"/>
<rect x="323" y="547.6" width="9.0" height="1.1" fill="#4a4a4a" opacity="0.75"/>
<rect x="323" y="550.2" width="9.6" height="1.1" fill="#4a4a4a" opacity="0.75"/>
<rect x="323" y="552.8" width="7.1" height="1.1" fill="#4a4a4a" opacity="0.75"/>
<rect x="323" y="555.4" width="6.8" height="1.1" fill="#4a4a4a" opacity="0.75"/>
<rect x="336" y="566.0" width="19.8" height="1.1" fill="#4a4a4a" opacity="0.75"/>
<rect x="336" y="568.6" width="14.3" height="1.1" fill="#4a4a4a" opacity="0.75"/>
<rect x="336" y="571.2" width="13.7" height="1.1" fill="#4a4a4a" opacity="0.75"/>
<rect x="336" y="573.8" width="19.2" height="1.1" fill="#4a4a4a" opacity="0.75"/>
<rect x="370" y="572.0" width="12.6" height="1.1" fill="#4a4a4a" opacity="0.75"/>
<rect x="370" y="574.6" width="9.1" height="1.1" fill="#4a4a4a" opacity="0.75"/>
<rect x="370" y="577.2" width="10.2" height="1.1" fill="#4a4a4a" opacity="0.75"/>
<rect x="421" y="565.0" width="5.6" height="1.1" fill="#4a4a4a" opacity="0.75"/>
<rect x="421" y="567.6" width="5.7" height="1.1" fill="#4a4a4a" opacity="0.75"/>
<rect x="421" y="570.2" width="4.8" height="1.1" fill="#4a4a4a" opacity="0.75"/>
<rect x="323" y="586.0" width="5.7" height="1.1" fill="#4a4a4a" opacity="0.75"/>
<rect x="323" y="588.6" width="5.1" height="1.1" fill="#4a4a4a" opacity="0.75"/>
<rect x="406" y="586.0" width="4.5" height="1.1" fill="#4a4a4a" opacity="0.75"/>
<rect x="406" y="588.6" width="4.0" height="1.1" fill="#4a4a4a" opacity="0.75"/>
<rect x="406" y="591.2" width="3.9" height="1.1" fill="#4a4a4a" opacity="0.75"/>
<rect x="420" y="585.0" width="3.7" height="1.1" fill="#4a4a4a" opacity="0.75"/>
<rect x="420" y="587.6" width="5.7" height="1.1" fill="#4a4a4a" opacity="0.75"/>
<rect x="420" y="590.2" width="5.4" height="1.1" fill="#4a4a4a" opacity="0.75"/>
<rect x="420" y="592.8" width="4.9" height="1.1" fill="#4a4a4a" opacity="0.75"/>
<rect x="389" y="586.0" width="3.9" height="1.1" fill="#4a4a4a" opacity="0.75"/>
<rect x="389" y="588.6" width="4.0" height="1.1" fill="#4a4a4a" opacity="0.75"/>
<rect x="324.5" y="505.5" width="7" height="1" fill="#555" opacity="0.7"/>
<rect x="334.5" y="504.5" width="7" height="1" fill="#555" opacity="0.7"/>
<rect x="335" y="506.7" width="6" height="1" fill="#555" opacity="0.7"/>
<rect x="344.5" y="519.0" width="5" height="1" fill="#555" opacity="0.7"/>
<rect x="359.5" y="510.0" width="6" height="1" fill="#555" opacity="0.7"/>
<rect x="360" y="512.2" width="5" height="1" fill="#555" opacity="0.7"/>
<rect x="359.5" y="527.0" width="6" height="1" fill="#555" opacity="0.7"/>
<rect x="360" y="529.2" width="5" height="1" fill="#555" opacity="0.7"/>
<rect x="324.5" y="536.5" width="6" height="1" fill="#555" opacity="0.7"/>
<rect x="338.5" y="555.5" width="6" height="1" fill="#555" opacity="0.7"/>
<rect x="339" y="557.7" width="5" height="1" fill="#555" opacity="0.7"/>
<rect x="388.5" y="518.0" width="5" height="1" fill="#555" opacity="0.7"/>
<rect x="389" y="520.2" width="4" height="1" fill="#555" opacity="0.7"/>
<rect x="400.5" y="518.0" width="5" height="1" fill="#555" opacity="0.7"/>
<rect x="401" y="520.2" width="4" height="1" fill="#555" opacity="0.7"/>
<rect x="413.5" y="517.0" width="6" height="1" fill="#555" opacity="0.7"/>
<rect x="414" y="519.2" width="5" height="1" fill="#555" opacity="0.7"/>
<rect x="388.5" y="530.5" width="5" height="1" fill="#555" opacity="0.7"/>
<rect x="389" y="532.7" width="4" height="1" fill="#555" opacity="0.7"/>
<rect x="400.5" y="530.5" width="5" height="1" fill="#555" opacity="0.7"/>
<rect x="401" y="532.7" width="4" height="1" fill="#555" opacity="0.7"/>
<rect x="413.5" y="530.5" width="6" height="1" fill="#555" opacity="0.7"/>
<rect x="414" y="532.7" width="5" height="1" fill="#555" opacity="0.7"/>
<rect x="390.5" y="555.0" width="5" height="1" fill="#555" opacity="0.7"/>
<rect x="391" y="557.2" width="4" height="1" fill="#555" opacity="0.7"/>
<rect x="411.5" y="555.0" width="5" height="1" fill="#555" opacity="0.7"/>
<rect x="412" y="557.2" width="4" height="1" fill="#555" opacity="0.7"/>
<rect x="390.5" y="574.0" width="5" height="1" fill="#555" opacity="0.7"/>
<rect x="391" y="576.2" width="4" height="1" fill="#555" opacity="0.7"/>
<rect x="320.9" y="488.1" width="113.3" height="115.3" fill="none" stroke="#1a1a1a" stroke-width="1.5" stroke-dasharray="8 3"/>
</g>
<!-- card2 tables -->
<g>
  <rect x="481.3" y="487.2" width="114" height="54.3" fill="#3ef2de"/>
  <rect x="481.3" y="541.5" width="114" height="5.5" fill="#c6c6c6"/>
  <rect x="481.3" y="547" width="114" height="56" fill="#0cf20c"/>
  <g stroke="#1a7a6a" stroke-width="0.4" opacity="0.7">
    <path d="M481.5 502.5H595M481.5 509.5H595M525.5 495V541M549 497V541M562 497V541M580 497V541M536 497V509M481.5 565H595M481.5 572H595M525.5 551V603M540 555V603M552 555V603M564 555V603M577 555V603M586 555V603"/>
  </g>
  <g fill="#1c5e54" opacity="0.55">
    <rect x="483" y="512" width="3" height="1"/><rect x="489" y="512" width="9" height="1"/><rect x="528" y="512" width="8" height="1"/><rect x="540" y="512" width="7" height="1"/><rect x="552" y="512" width="6" height="1"/><rect x="566" y="512" width="8" height="1"/><rect x="590" y="512" width="4" height="1"/>
    <rect x="483" y="515" width="3" height="1"/><rect x="489" y="515" width="16" height="1"/><rect x="528" y="515" width="8" height="1"/><rect x="540" y="515" width="7" height="1"/><rect x="552" y="515" width="6" height="1"/><rect x="566" y="515" width="8" height="1"/><rect x="590" y="515" width="4" height="1"/>
    <rect x="483" y="518" width="22" height="1"/><rect x="528" y="518" width="8" height="1"/><rect x="540" y="518" width="7" height="1"/><rect x="566" y="518" width="8" height="1"/>
    <rect x="483" y="521" width="20" height="1"/><rect x="528" y="521" width="8" height="1"/><rect x="540" y="521" width="7" height="1"/><rect x="566" y="521" width="8" height="1"/>
    <rect x="483" y="525" width="18" height="1"/><rect x="528" y="525" width="8" height="1"/><rect x="540" y="525" width="7" height="1"/>
    <rect x="483" y="528" width="14" height="1"/><rect x="483" y="531" width="14" height="1"/>
    <rect x="483" y="535" width="18" height="1"/><rect x="528" y="535" width="8" height="1"/><rect x="540" y="535" width="7" height="1"/><rect x="566" y="535" width="8" height="1"/>
    <rect x="483" y="538" width="14" height="1"/><rect x="528" y="538" width="8" height="1"/><rect x="540" y="538" width="7" height="1"/>
    <rect x="538" y="490" width="28" height="1"/><rect x="540" y="493" width="24" height="1"/><rect x="527" y="496" width="12" height="1"/>
    <rect x="536" y="549" width="38" height="1"/><rect x="540" y="552" width="24" height="1"/>
    <rect x="483" y="574" width="3" height="1"/><rect x="489" y="574" width="9" height="1"/><rect x="528" y="574" width="8" height="1"/><rect x="542" y="574" width="6" height="1"/><rect x="554" y="574" width="6" height="1"/><rect x="566" y="574" width="6" height="1"/><rect x="579" y="574" width="5" height="1"/><rect x="589" y="574" width="5" height="1"/>
    <rect x="483" y="577" width="20" height="1"/><rect x="528" y="577" width="8" height="1"/><rect x="542" y="577" width="6" height="1"/><rect x="554" y="577" width="6" height="1"/><rect x="566" y="577" width="6" height="1"/><rect x="579" y="577" width="5" height="1"/>
    <rect x="483" y="580" width="22" height="1"/><rect x="528" y="580" width="8" height="1"/><rect x="542" y="580" width="6" height="1"/><rect x="554" y="580" width="6" height="1"/><rect x="566" y="580" width="6" height="1"/>
    <rect x="483" y="583" width="18" height="1"/><rect x="528" y="583" width="8" height="1"/><rect x="542" y="583" width="6" height="1"/><rect x="554" y="583" width="6" height="1"/>
    <rect x="483" y="587" width="16" height="1"/><rect x="483" y="590" width="14" height="1"/><rect x="483" y="593" width="20" height="1"/><rect x="528" y="593" width="8" height="1"/><rect x="542" y="593" width="6" height="1"/>
    <rect x="483" y="597" width="14" height="1"/><rect x="483" y="600" width="14" height="1"/><rect x="528" y="600" width="8" height="1"/><rect x="542" y="600" width="6" height="1"/><rect x="554" y="600" width="6" height="1"/>
  </g>
  <g fill="#1c4a44" opacity="0.45"><rect x="483" y="511.0" width="9.4" height="1" /><rect x="529.0" y="511.0" width="4.2" height="1" /><rect x="542.0" y="511.0" width="4.6" height="1" /><rect x="554.0" y="511.0" width="6.0" height="1" /><rect x="567.0" y="511.0" width="5.4" height="1" /><rect x="580.0" y="511.0" width="5.6" height="1" /><rect x="590.0" y="511.0" width="4.9" height="1" /><rect x="483" y="513.5" width="8.8" height="1" /><rect x="529.0" y="513.5" width="5.1" height="1" /><rect x="542.0" y="513.5" width="4.3" height="1" /><rect x="567.0" y="513.5" width="5.6" height="1" /><rect x="580.0" y="513.5" width="4.9" height="1" /><rect x="483" y="516.0" width="16.4" height="1" /><rect x="529.0" y="516.0" width="5.5" height="1" /><rect x="542.0" y="516.0" width="4.1" height="1" /><rect x="554.0" y="516.0" width="5.8" height="1" /><rect x="567.0" y="516.0" width="5.4" height="1" /><rect x="580.0" y="516.0" width="5.5" height="1" /><rect x="590.0" y="516.0" width="6.6" height="1" /><rect x="483" y="518.5" width="19.5" height="1" /><rect x="529.0" y="518.5" width="4.1" height="1" /><rect x="542.0" y="518.5" width="6.4" height="1" /><rect x="554.0" y="518.5" width="4.3" height="1" /><rect x="567.0" y="518.5" width="6.1" height="1" /><rect x="580.0" y="518.5" width="4.9" height="1" /><rect x="590.0" y="518.5" width="6.3" height="1" /><rect x="483" y="521.0" width="19.6" height="1" /><rect x="542.0" y="521.0" width="6.4" height="1" /><rect x="580.0" y="521.0" width="5.8" height="1" /><rect x="590.0" y="521.0" width="6.6" height="1" /><rect x="483" y="523.5" width="15.5" height="1" /><rect x="529.0" y="523.5" width="4.7" height="1" /><rect x="542.0" y="523.5" width="4.8" height="1" /><rect x="554.0" y="523.5" width="5.7" height="1" /><rect x="567.0" y="523.5" width="4.6" height="1" /><rect x="590.0" y="523.5" width="6.8" height="1" /><rect x="483" y="526.0" width="17.3" height="1" /><rect x="529.0" y="526.0" width="7.0" height="1" /><rect x="542.0" y="526.0" width="4.0" height="1" /><rect x="567.0" y="526.0" width="6.7" height="1" /><rect x="590.0" y="526.0" width="4.1" height="1" /><rect x="483" y="528.5" width="8.2" height="1" /><rect x="529.0" y="528.5" width="6.4" height="1" /><rect x="542.0" y="528.5" width="4.3" height="1" /><rect x="554.0" y="528.5" width="6.4" height="1" /><rect x="567.0" y="528.5" width="6.6" height="1" /><rect x="590.0" y="528.5" width="6.5" height="1" /><rect x="483" y="531.0" width="8.2" height="1" /><rect x="529.0" y="531.0" width="6.6" height="1" /><rect x="542.0" y="531.0" width="5.0" height="1" /><rect x="554.0" y="531.0" width="5.0" height="1" /><rect x="567.0" y="531.0" width="5.5" height="1" /><rect x="580.0" y="531.0" width="4.6" height="1" /><rect x="590.0" y="531.0" width="4.6" height="1" /><rect x="483" y="533.5" width="9.5" height="1" /><rect x="529.0" y="533.5" width="5.2" height="1" /><rect x="542.0" y="533.5" width="6.4" height="1" /><rect x="554.0" y="533.5" width="5.4" height="1" /><rect x="567.0" y="533.5" width="4.7" height="1" /><rect x="580.0" y="533.5" width="4.2" height="1" /><rect x="590.0" y="533.5" width="5.1" height="1" /><rect x="483" y="536.0" width="11.0" height="1" /><rect x="529.0" y="536.0" width="6.5" height="1" /><rect x="542.0" y="536.0" width="5.3" height="1" /><rect x="554.0" y="536.0" width="4.8" height="1" /><rect x="567.0" y="536.0" width="4.7" height="1" /><rect x="580.0" y="536.0" width="4.5" height="1" /><rect x="483" y="538.5" width="12.1" height="1" /><rect x="529.0" y="538.5" width="6.9" height="1" /><rect x="542.0" y="538.5" width="6.9" height="1" /><rect x="554.0" y="538.5" width="6.4" height="1" /><rect x="567.0" y="538.5" width="4.7" height="1" /><rect x="580.0" y="538.5" width="5.5" height="1" /><rect x="590.0" y="538.5" width="5.2" height="1" /><rect x="483" y="573.0" width="18.5" height="1" /><rect x="529.0" y="573.0" width="5.9" height="1" /><rect x="542.0" y="573.0" width="4.6" height="1" /><rect x="567.0" y="573.0" width="6.4" height="1" /><rect x="580.0" y="573.0" width="6.2" height="1" /><rect x="483" y="575.5" width="15.5" height="1" /><rect x="529.0" y="575.5" width="6.0" height="1" /><rect x="567.0" y="575.5" width="5.2" height="1" /><rect x="580.0" y="575.5" width="6.3" height="1" /><rect x="590.0" y="575.5" width="4.7" height="1" /><rect x="483" y="578.0" width="8.4" height="1" /><rect x="529.0" y="578.0" width="5.2" height="1" /><rect x="542.0" y="578.0" width="4.5" height="1" /><rect x="554.0" y="578.0" width="6.3" height="1" /><rect x="567.0" y="578.0" width="4.4" height="1" /><rect x="580.0" y="578.0" width="6.7" height="1" /><rect x="483" y="580.5" width="14.8" height="1" /><rect x="529.0" y="580.5" width="6.6" height="1" /><rect x="567.0" y="580.5" width="5.1" height="1" /><rect x="580.0" y="580.5" width="6.4" height="1" /><rect x="483" y="583.0" width="13.9" height="1" /><rect x="529.0" y="583.0" width="4.9" height="1" /><rect x="542.0" y="583.0" width="5.6" height="1" /><rect x="554.0" y="583.0" width="5.4" height="1" /><rect x="580.0" y="583.0" width="4.8" height="1" /><rect x="590.0" y="583.0" width="6.6" height="1" /><rect x="483" y="585.5" width="11.6" height="1" /><rect x="580.0" y="585.5" width="5.4" height="1" /><rect x="483" y="588.0" width="10.9" height="1" /><rect x="529.0" y="588.0" width="6.6" height="1" /><rect x="554.0" y="588.0" width="4.4" height="1" /><rect x="567.0" y="588.0" width="4.9" height="1" /><rect x="580.0" y="588.0" width="4.8" height="1" /><rect x="483" y="590.5" width="15.8" height="1" /><rect x="529.0" y="590.5" width="6.5" height="1" /><rect x="542.0" y="590.5" width="5.9" height="1" /><rect x="554.0" y="590.5" width="4.9" height="1" /><rect x="567.0" y="590.5" width="6.4" height="1" /><rect x="590.0" y="590.5" width="6.1" height="1" /><rect x="483" y="593.0" width="8.7" height="1" /><rect x="529.0" y="593.0" width="4.9" height="1" /><rect x="554.0" y="593.0" width="5.5" height="1" /><rect x="567.0" y="593.0" width="4.8" height="1" /><rect x="580.0" y="593.0" width="4.2" height="1" /><rect x="590.0" y="593.0" width="5.7" height="1" /><rect x="483" y="595.5" width="16.9" height="1" /><rect x="529.0" y="595.5" width="4.8" height="1" /><rect x="554.0" y="595.5" width="5.3" height="1" /><rect x="567.0" y="595.5" width="4.5" height="1" /><rect x="590.0" y="595.5" width="4.4" height="1" /><rect x="483" y="598.0" width="10.1" height="1" /><rect x="542.0" y="598.0" width="4.9" height="1" /><rect x="554.0" y="598.0" width="5.0" height="1" /><rect x="567.0" y="598.0" width="4.9" height="1" /><rect x="580.0" y="598.0" width="4.2" height="1" /><rect x="590.0" y="598.0" width="5.8" height="1" /><rect x="483" y="600.5" width="11.8" height="1" /><rect x="554.0" y="600.5" width="5.2" height="1" /><rect x="567.0" y="600.5" width="5.9" height="1" /><rect x="580.0" y="600.5" width="4.5" height="1" /><rect x="590.0" y="600.5" width="4.6" height="1" /></g>
<rect x="481.8" y="487.7" width="113" height="114.8" fill="none" stroke="#1a1a1a" stroke-width="1.5" stroke-dasharray="8 3"/>
</g>
<!-- card3 venn -->
<g>
  <rect x="645.1" y="488.1" width="112.7" height="115.8" fill="#cfcfcf"/>
  <g fill="none" stroke="#555" stroke-width="0.6">
    <ellipse cx="680" cy="523.5" rx="29.5" ry="30.5"/>
    <ellipse cx="713.4" cy="523.5" rx="30" ry="30.5"/>
    <ellipse cx="696.7" cy="564" rx="19.9" ry="38.9"/>
    <path d="M686 522 Q698 510 709 522"/>
  </g>
  <path d="M709.3 528.8 Q716.5 540 715.2 555.2 Q704 555 696.7 549.6 Z" fill="#e0474a"/>
  <line x1="713" y1="545" x2="728" y2="568" stroke="#2a8a4a" stroke-width="0.8"/>
  <g fill="#666"><rect x="655" y="512.5" width="27" height="18.5"/><rect x="715" y="515.5" width="24" height="18"/><rect x="688" y="568" width="24" height="18"/><rect x="729" y="570.5" width="25" height="11"/></g>
  <g stroke="#333" stroke-width="0.4">
    <rect x="653.3" y="510.7" width="27" height="18.2" fill="#5ed0d8"/>
    <rect x="713" y="513.5" width="23.5" height="18" fill="#5ed0d8"/>
    <rect x="686.2" y="565.9" width="24" height="18.1" fill="#5ed0d8"/>
    <rect x="727.4" y="568.6" width="25" height="10.9" fill="#e2e060"/>
  </g>
  <g fill="#333" opacity="0.6">
    <rect x="657" y="516" width="19" height="1"/><rect x="661" y="521" width="8" height="1"/>
    <rect x="716" y="518" width="17" height="1"/><rect x="720" y="523" width="8" height="1"/>
    <rect x="689" y="571" width="18" height="1"/><rect x="694" y="576" width="7" height="1"/>
    <rect x="733" y="573" width="13" height="1"/>
  </g>
  <rect x="645.6" y="488.6" width="111.7" height="114.8" fill="none" stroke="#1a1a1a" stroke-width="1.5" stroke-dasharray="8 3"/>
</g>
<!-- card4 photo -->
<clipPath id="c4"><rect x="805.6" y="487.2" width="112.69999999999993" height="115.80000000000001"/></clipPath>
<g clip-path="url(#c4)">
<rect x="805.6" y="487.2" width="112.69999999999993" height="115.80000000000001" fill="#7f8c84"/>
<rect x="830" y="487" width="38" height="9" fill="#c6cfcc"/>
<rect x="830" y="496" width="38" height="3" fill="#e6ecea"/>
<rect x="830" y="499" width="38" height="7" fill="#8e9a90"/>
<rect x="830" y="506" width="38" height="4" fill="#e8eeee"/>
<rect x="830" y="510" width="38" height="4" fill="#b8d0e0"/>
<rect x="830" y="514" width="38" height="9" fill="#8a948a"/>
<rect x="830" y="523" width="38" height="9" fill="#6e7a70"/>
<rect x="826" y="532" width="32" height="6" fill="#d6dcdc"/>
<rect x="826" y="538" width="32" height="2" fill="#a8c8e0"/>
<rect x="826" y="540" width="32" height="8" fill="#5a5e58"/>
<rect x="846" y="495" width="22" height="2.2" fill="#d03a3a"/>
<rect x="867.4" y="487" width="33.4" height="37" fill="#35503f"/>
<rect x="869" y="492" width="30" height="4" fill="#6a8a76" opacity="0.8"/>
<rect x="869" y="500" width="30" height="4" fill="#6a8a76" opacity="0.8"/>
<rect x="869" y="508" width="30" height="4" fill="#6a8a76" opacity="0.8"/>
<rect x="869" y="516" width="30" height="4" fill="#6a8a76" opacity="0.8"/>
<rect x="872" y="487" width="1" height="37" fill="#1e3228"/>
<rect x="880" y="487" width="1" height="37" fill="#1e3228"/>
<rect x="888" y="487" width="1" height="37" fill="#1e3228"/>
<rect x="895" y="487" width="1" height="37" fill="#1e3228"/>
<rect x="858" y="524" width="42" height="8" fill="#5a6a64"/>
<rect x="870" y="527" width="26" height="2" fill="#c8d0e0"/>
<rect x="900.8" y="487" width="9" height="44" fill="#cf3030"/>
<rect x="904" y="487" width="2" height="44" fill="#e86060"/>
<rect x="909.7" y="487" width="9" height="32" fill="#dfe6e6"/>
<rect x="910" y="518" width="8" height="14" fill="#d8c8c0"/>
<circle cx="914" cy="519" r="2" fill="#2a2020"/>
<path d="M902 531L918.3 526V568L906 568Z" fill="#5a9a40"/>
<path d="M910 548L918.3 545V560L912 562Z" fill="#e8c070"/>
<rect x="825.2" y="487.8" width="5.6" height="34.4" fill="#d02828"/>
<g fill="#f0c0c0" opacity="0.7"><rect x="827" y="492" width="2" height="3"/><rect x="827" y="500" width="2" height="3"/><rect x="827" y="508" width="2" height="3"/></g>
<rect x="858" y="531.7" width="8" height="18" fill="#1e2238"/>
<rect x="865.2" y="531.7" width="23.4" height="17.7" fill="#f2ae3a"/>
<rect x="868" y="534" width="16" height="10" fill="#f8d478"/>
<rect x="876" y="533" width="6" height="8" fill="#e07a30" opacity="0.8"/>
<rect x="856" y="549.4" width="34" height="6.5" fill="#e39a28"/>
<path d="M888 535L898 537L901 566L889 566Z" fill="#d23c22"/>
<circle cx="893" cy="536" r="2.6" fill="#2a1a18"/>
<path d="M805.6 548L858 546L858 556L888 556L890 566L918.3 568V603H805.6Z" fill="#4a3834"/>
<rect x="824.2" y="585.3" width="1.5" height="1.5" fill="#5a4a4a"/>
<rect x="837.3" y="594.1" width="1.5" height="1.5" fill="#3a3030"/>
<rect x="859.1" y="600.9" width="1.5" height="1.5" fill="#2e2626"/>
<rect x="862.5" y="559.5" width="1.5" height="1.5" fill="#1a1414"/>
<rect x="807.2" y="599.2" width="1.5" height="1.5" fill="#c06040"/>
<rect x="813.4" y="591.2" width="1.5" height="1.5" fill="#caa088"/>
<rect x="909.5" y="585.6" width="1.5" height="1.5" fill="#c06040"/>
<rect x="918.0" y="588.1" width="1.5" height="1.5" fill="#c06040"/>
<rect x="842.7" y="574.4" width="1.5" height="1.5" fill="#241c1c"/>
<rect x="878.7" y="599.5" width="1.5" height="1.5" fill="#1a1414"/>
<rect x="823.0" y="592.6" width="1.5" height="1.5" fill="#241c1c"/>
<rect x="823.8" y="587.5" width="1.5" height="1.5" fill="#c06040"/>
<rect x="860.2" y="556.7" width="1.5" height="1.5" fill="#1a1414"/>
<rect x="858.6" y="592.7" width="1.5" height="1.5" fill="#241c1c"/>
<rect x="914.8" y="597.0" width="1.5" height="1.5" fill="#3a3030"/>
<rect x="912.6" y="597.2" width="1.5" height="1.5" fill="#e0b070"/>
<rect x="813.6" y="577.9" width="1.5" height="1.5" fill="#2e3a62"/>
<rect x="909.6" y="596.6" width="1.5" height="1.5" fill="#c06040"/>
<rect x="838.5" y="600.4" width="1.5" height="1.5" fill="#2e3a62"/>
<rect x="849.1" y="602.7" width="1.5" height="1.5" fill="#c06040"/>
<rect x="835.5" y="593.5" width="1.5" height="1.5" fill="#2e2626"/>
<rect x="886.5" y="602.6" width="1.5" height="1.5" fill="#f2f2f2"/>
<rect x="805.9" y="550.0" width="1.5" height="1.5" fill="#a07a5a"/>
<rect x="874.2" y="577.7" width="1.5" height="1.5" fill="#a07a5a"/>
<rect x="818.3" y="584.2" width="1.5" height="1.5" fill="#5a4a4a"/>
<rect x="844.8" y="598.8" width="1.5" height="1.5" fill="#8a3030"/>
<rect x="891.5" y="599.0" width="1.5" height="1.5" fill="#caa088"/>
<rect x="817.2" y="549.7" width="1.5" height="1.5" fill="#2e2626"/>
<rect x="893.2" y="567.4" width="1.5" height="1.5" fill="#5a4a4a"/>
<rect x="809.7" y="575.6" width="1.5" height="1.5" fill="#5a4a4a"/>
<rect x="913.6" y="569.2" width="1.5" height="1.5" fill="#2e2626"/>
<rect x="914.0" y="579.7" width="1.5" height="1.5" fill="#8a3030"/>
<rect x="860.9" y="567.4" width="1.5" height="1.5" fill="#caa088"/>
<rect x="868.9" y="571.0" width="1.5" height="1.5" fill="#c06040"/>
<rect x="892.8" y="573.5" width="1.5" height="1.5" fill="#e6d2c4"/>
<rect x="811.5" y="560.7" width="1.5" height="1.5" fill="#e6d2c4"/>
<rect x="809.5" y="560.2" width="1.5" height="1.5" fill="#c06040"/>
<rect x="813.4" y="565.3" width="1.5" height="1.5" fill="#2e2626"/>
<rect x="916.4" y="588.5" width="1.5" height="1.5" fill="#f2f2f2"/>
<rect x="811.2" y="554.0" width="1.5" height="1.5" fill="#5a4a4a"/>
<rect x="864.8" y="587.5" width="1.5" height="1.5" fill="#1a1414"/>
<rect x="913.0" y="597.3" width="1.5" height="1.5" fill="#8a3030"/>
<rect x="895.2" y="596.2" width="1.5" height="1.5" fill="#a07a5a"/>
<rect x="892.7" y="573.6" width="1.5" height="1.5" fill="#f2f2f2"/>
<rect x="840.3" y="576.5" width="1.5" height="1.5" fill="#e6d2c4"/>
<rect x="821.3" y="587.1" width="1.5" height="1.5" fill="#c06040"/>
<rect x="882.8" y="600.4" width="1.5" height="1.5" fill="#1a1414"/>
<rect x="835.4" y="564.6" width="1.5" height="1.5" fill="#caa088"/>
<rect x="901.6" y="579.3" width="1.5" height="1.5" fill="#e6d2c4"/>
<rect x="882.6" y="588.8" width="1.5" height="1.5" fill="#3a3030"/>
<rect x="816.3" y="551.4" width="1.5" height="1.5" fill="#1a1414"/>
<rect x="877.9" y="590.8" width="1.5" height="1.5" fill="#241c1c"/>
<rect x="903.3" y="583.4" width="1.5" height="1.5" fill="#2e2626"/>
<rect x="839.9" y="599.7" width="1.5" height="1.5" fill="#c06040"/>
<rect x="861.3" y="558.5" width="1.5" height="1.5" fill="#2e2626"/>
<rect x="826.1" y="594.9" width="1.5" height="1.5" fill="#caa088"/>
<rect x="885.6" y="577.4" width="1.5" height="1.5" fill="#1a1414"/>
<rect x="873.7" y="574.8" width="1.5" height="1.5" fill="#e0b070"/>
<rect x="892.9" y="591.1" width="1.5" height="1.5" fill="#1a1414"/>
<rect x="849.3" y="595.3" width="1.5" height="1.5" fill="#c06040"/>
<rect x="885.8" y="560.4" width="1.5" height="1.5" fill="#e0b070"/>
<rect x="873.8" y="588.5" width="1.5" height="1.5" fill="#caa088"/>
<rect x="849.4" y="563.6" width="1.5" height="1.5" fill="#e6d2c4"/>
<rect x="897.7" y="591.8" width="1.5" height="1.5" fill="#f2f2f2"/>
<rect x="873.4" y="575.0" width="1.5" height="1.5" fill="#e0b070"/>
<rect x="842.1" y="575.5" width="1.5" height="1.5" fill="#e6d2c4"/>
<rect x="884.4" y="576.0" width="1.5" height="1.5" fill="#2e3a62"/>
<rect x="827.0" y="581.1" width="1.5" height="1.5" fill="#8a3030"/>
<rect x="915.7" y="566.2" width="1.5" height="1.5" fill="#8a3030"/>
<rect x="879.8" y="570.0" width="1.5" height="1.5" fill="#241c1c"/>
<rect x="879.0" y="581.7" width="1.5" height="1.5" fill="#3a3030"/>
<rect x="891.2" y="571.5" width="1.5" height="1.5" fill="#a07a5a"/>
<rect x="912.3" y="584.8" width="1.5" height="1.5" fill="#e0b070"/>
<rect x="855.5" y="575.5" width="1.5" height="1.5" fill="#c06040"/>
<rect x="808.4" y="583.7" width="1.5" height="1.5" fill="#1a1414"/>
<rect x="833.4" y="586.1" width="1.5" height="1.5" fill="#c06040"/>
<rect x="887.2" y="572.0" width="1.5" height="1.5" fill="#caa088"/>
<rect x="850.6" y="564.7" width="1.5" height="1.5" fill="#caa088"/>
<rect x="876.8" y="600.9" width="1.5" height="1.5" fill="#241c1c"/>
<rect x="809.8" y="555.9" width="1.5" height="1.5" fill="#8a3030"/>
<rect x="886.4" y="596.8" width="1.5" height="1.5" fill="#3a3030"/>
<rect x="856.3" y="582.1" width="1.5" height="1.5" fill="#a07a5a"/>
<rect x="880.9" y="595.0" width="1.5" height="1.5" fill="#e0b070"/>
<rect x="859.8" y="574.4" width="1.5" height="1.5" fill="#e6d2c4"/>
<rect x="874.9" y="593.0" width="1.5" height="1.5" fill="#e0b070"/>
<rect x="840.8" y="563.8" width="1.5" height="1.5" fill="#c06040"/>
<rect x="825.4" y="575.8" width="1.5" height="1.5" fill="#a07a5a"/>
<rect x="911.9" y="588.3" width="1.5" height="1.5" fill="#f2f2f2"/>
<rect x="916.4" y="602.5" width="1.5" height="1.5" fill="#2e2626"/>
<rect x="884.9" y="557.7" width="1.5" height="1.5" fill="#8a3030"/>
<rect x="847.5" y="579.2" width="1.5" height="1.5" fill="#caa088"/>
<rect x="835.0" y="600.2" width="1.5" height="1.5" fill="#8a3030"/>
<rect x="863.6" y="599.9" width="1.5" height="1.5" fill="#2e2626"/>
<rect x="907.0" y="574.9" width="1.5" height="1.5" fill="#caa088"/>
<rect x="873.0" y="561.8" width="1.5" height="1.5" fill="#c06040"/>
<rect x="823.3" y="568.4" width="1.5" height="1.5" fill="#c06040"/>
<rect x="854.8" y="581.2" width="1.5" height="1.5" fill="#e6d2c4"/>
<rect x="881.1" y="584.1" width="1.5" height="1.5" fill="#a07a5a"/>
<rect x="836.3" y="556.7" width="1.5" height="1.5" fill="#caa088"/>
<rect x="809.5" y="592.2" width="1.5" height="1.5" fill="#e0b070"/>
<rect x="847.0" y="550.3" width="1.5" height="1.5" fill="#a07a5a"/>
<rect x="810.0" y="580.6" width="1.5" height="1.5" fill="#e0b070"/>
<rect x="856.3" y="602.5" width="1.5" height="1.5" fill="#2e3a62"/>
<rect x="822.3" y="601.5" width="1.5" height="1.5" fill="#caa088"/>
<rect x="856.8" y="597.0" width="1.5" height="1.5" fill="#8a3030"/>
<rect x="824.3" y="578.5" width="1.5" height="1.5" fill="#c06040"/>
<rect x="826.7" y="569.0" width="1.5" height="1.5" fill="#2e3a62"/>
<rect x="833.1" y="578.8" width="1.5" height="1.5" fill="#a07a5a"/>
<rect x="909.9" y="596.4" width="1.5" height="1.5" fill="#1a1414"/>
<rect x="854.7" y="593.5" width="1.5" height="1.5" fill="#3a3030"/>
<rect x="861.7" y="576.0" width="1.5" height="1.5" fill="#2e3a62"/>
<rect x="875.5" y="572.9" width="1.5" height="1.5" fill="#3a3030"/>
<rect x="822.9" y="562.4" width="1.5" height="1.5" fill="#5a4a4a"/>
<rect x="876.3" y="596.7" width="1.5" height="1.5" fill="#241c1c"/>
<rect x="880.9" y="556.6" width="1.5" height="1.5" fill="#241c1c"/>
<rect x="882.0" y="556.8" width="1.5" height="1.5" fill="#e6d2c4"/>
<rect x="845.3" y="555.2" width="1.5" height="1.5" fill="#a07a5a"/>
<rect x="861.4" y="584.8" width="1.5" height="1.5" fill="#5a4a4a"/>
<rect x="850.6" y="547.8" width="1.5" height="1.5" fill="#caa088"/>
<rect x="910.5" y="576.7" width="1.5" height="1.5" fill="#c06040"/>
<rect x="828.0" y="557.0" width="1.5" height="1.5" fill="#2e3a62"/>
<rect x="853.3" y="564.5" width="1.5" height="1.5" fill="#caa088"/>
<rect x="829.7" y="548.3" width="1.5" height="1.5" fill="#8a3030"/>
<rect x="874.0" y="582.1" width="1.5" height="1.5" fill="#5a4a4a"/>
<rect x="825.2" y="586.4" width="1.5" height="1.5" fill="#f2f2f2"/>
<rect x="859.5" y="595.3" width="1.5" height="1.5" fill="#f2f2f2"/>
<rect x="896.5" y="597.7" width="1.5" height="1.5" fill="#5a4a4a"/>
<rect x="811.9" y="584.8" width="1.5" height="1.5" fill="#5a4a4a"/>
<rect x="907.3" y="576.4" width="1.5" height="1.5" fill="#241c1c"/>
<rect x="914.9" y="568.2" width="1.5" height="1.5" fill="#f2f2f2"/>
<rect x="911.2" y="591.3" width="1.5" height="1.5" fill="#1a1414"/>
<rect x="835.5" y="547.4" width="1.5" height="1.5" fill="#c06040"/>
<rect x="910.5" y="576.6" width="1.5" height="1.5" fill="#c06040"/>
<rect x="828.9" y="602.9" width="1.5" height="1.5" fill="#2e3a62"/>
<rect x="837.8" y="571.6" width="1.5" height="1.5" fill="#3a3030"/>
<rect x="905.1" y="566.7" width="1.5" height="1.5" fill="#241c1c"/>
<rect x="832.6" y="580.2" width="1.5" height="1.5" fill="#8a3030"/>
<rect x="866.4" y="592.5" width="1.5" height="1.5" fill="#8a3030"/>
<rect x="870.2" y="602.7" width="1.5" height="1.5" fill="#c06040"/>
<rect x="913.2" y="589.0" width="1.5" height="1.5" fill="#5a4a4a"/>
<rect x="889.0" y="588.3" width="1.5" height="1.5" fill="#caa088"/>
<rect x="910.2" y="575.8" width="1.5" height="1.5" fill="#2e3a62"/>
<rect x="839.0" y="555.2" width="1.5" height="1.5" fill="#5a4a4a"/>
<rect x="853.4" y="582.5" width="1.5" height="1.5" fill="#3a3030"/>
<rect x="861.4" y="556.9" width="1.5" height="1.5" fill="#caa088"/>
<rect x="834.1" y="570.5" width="1.5" height="1.5" fill="#c06040"/>
<rect x="830.6" y="573.2" width="1.5" height="1.5" fill="#1a1414"/>
<rect x="866.2" y="572.2" width="1.5" height="1.5" fill="#1a1414"/>
<rect x="855.2" y="563.2" width="1.5" height="1.5" fill="#2e2626"/>
<rect x="888.0" y="602.6" width="1.5" height="1.5" fill="#c06040"/>
<rect x="821.6" y="547.9" width="1.5" height="1.5" fill="#3a3030"/>
<rect x="880.5" y="579.1" width="1.5" height="1.5" fill="#a07a5a"/>
<rect x="899.4" y="572.1" width="1.5" height="1.5" fill="#f2f2f2"/>
<rect x="831.2" y="587.8" width="1.5" height="1.5" fill="#3a3030"/>
<rect x="891.8" y="584.4" width="1.5" height="1.5" fill="#1a1414"/>
<rect x="847.3" y="593.1" width="1.5" height="1.5" fill="#f2f2f2"/>
<rect x="843.2" y="566.2" width="1.5" height="1.5" fill="#a07a5a"/>
<rect x="876.4" y="580.1" width="1.5" height="1.5" fill="#e0b070"/>
<rect x="813.6" y="560.6" width="1.5" height="1.5" fill="#241c1c"/>
<rect x="847.9" y="560.3" width="1.5" height="1.5" fill="#3a3030"/>
<rect x="857.3" y="553.1" width="1.5" height="1.5" fill="#caa088"/>
<rect x="872.7" y="565.0" width="1.5" height="1.5" fill="#241c1c"/>
<rect x="820.2" y="588.8" width="1.5" height="1.5" fill="#e6d2c4"/>
<rect x="817.3" y="581.2" width="1.5" height="1.5" fill="#5a4a4a"/>
<rect x="830.2" y="557.8" width="1.5" height="1.5" fill="#f2f2f2"/>
<rect x="892.5" y="574.2" width="1.5" height="1.5" fill="#1a1414"/>
<rect x="883.0" y="565.1" width="1.5" height="1.5" fill="#5a4a4a"/>
<rect x="835.2" y="593.0" width="1.5" height="1.5" fill="#1a1414"/>
<rect x="819.5" y="596.2" width="1.5" height="1.5" fill="#5a4a4a"/>
<rect x="863.2" y="602.8" width="1.5" height="1.5" fill="#caa088"/>
<rect x="872.6" y="571.3" width="1.5" height="1.5" fill="#2e3a62"/>
<rect x="866.2" y="577.3" width="1.5" height="1.5" fill="#c06040"/>
<rect x="877.3" y="582.2" width="1.5" height="1.5" fill="#8a3030"/>
<rect x="821.7" y="568.9" width="1.5" height="1.5" fill="#f2f2f2"/>
<rect x="877.3" y="572.0" width="1.5" height="1.5" fill="#2e3a62"/>
<rect x="871.7" y="571.0" width="1.5" height="1.5" fill="#caa088"/>
<rect x="807.8" y="582.7" width="1.5" height="1.5" fill="#f2f2f2"/>
<rect x="900.7" y="590.2" width="1.5" height="1.5" fill="#a07a5a"/>
<rect x="823.0" y="546.8" width="1.5" height="1.5" fill="#e6d2c4"/>
<rect x="842.4" y="564.7" width="1.5" height="1.5" fill="#caa088"/>
<rect x="914.3" y="572.0" width="1.5" height="1.5" fill="#caa088"/>
<rect x="822.7" y="581.6" width="1.5" height="1.5" fill="#2e2626"/>
<rect x="830.5" y="552.4" width="1.5" height="1.5" fill="#2e3a62"/>
<rect x="878.1" y="581.8" width="1.5" height="1.5" fill="#241c1c"/>
<rect x="884.4" y="576.7" width="1.5" height="1.5" fill="#241c1c"/>
<rect x="869.6" y="560.0" width="1.5" height="1.5" fill="#c06040"/>
<rect x="870.6" y="592.6" width="1.5" height="1.5" fill="#2e3a62"/>
<rect x="884.3" y="592.3" width="1.5" height="1.5" fill="#c06040"/>
<rect x="839.7" y="564.1" width="1.5" height="1.5" fill="#5a4a4a"/>
<rect x="845.9" y="590.7" width="1.5" height="1.5" fill="#1a1414"/>
<rect x="851.1" y="592.0" width="1.5" height="1.5" fill="#f2f2f2"/>
<rect x="826.1" y="598.8" width="1.5" height="1.5" fill="#241c1c"/>
<rect x="858.8" y="560.9" width="1.5" height="1.5" fill="#2e2626"/>
<rect x="838.2" y="567.2" width="1.5" height="1.5" fill="#f2f2f2"/>
<rect x="879.5" y="568.2" width="1.5" height="1.5" fill="#3a3030"/>
<rect x="838.6" y="552.6" width="1.5" height="1.5" fill="#a07a5a"/>
<rect x="815.8" y="564.5" width="1.5" height="1.5" fill="#3a3030"/>
<rect x="821.2" y="587.1" width="1.5" height="1.5" fill="#e6d2c4"/>
<rect x="840.4" y="552.4" width="1.5" height="1.5" fill="#5a4a4a"/>
<rect x="881.9" y="597.7" width="1.5" height="1.5" fill="#1a1414"/>
<rect x="847.8" y="595.3" width="1.5" height="1.5" fill="#c06040"/>
<rect x="905.1" y="587.4" width="1.5" height="1.5" fill="#1a1414"/>
<rect x="861.3" y="563.4" width="1.5" height="1.5" fill="#8a3030"/>
<rect x="854.6" y="589.9" width="1.5" height="1.5" fill="#1a1414"/>
<rect x="853.6" y="557.4" width="1.5" height="1.5" fill="#1a1414"/>
<rect x="830.1" y="555.4" width="1.5" height="1.5" fill="#8a3030"/>
<rect x="807.1" y="590.1" width="1.5" height="1.5" fill="#5a4a4a"/>
<rect x="845.6" y="594.2" width="1.5" height="1.5" fill="#caa088"/>
<rect x="837.2" y="579.9" width="1.5" height="1.5" fill="#2e2626"/>
<rect x="883.5" y="573.4" width="1.5" height="1.5" fill="#8a3030"/>
<rect x="847.1" y="597.5" width="1.5" height="1.5" fill="#5a4a4a"/>
<rect x="822.0" y="584.7" width="1.5" height="1.5" fill="#3a3030"/>
<rect x="884.1" y="587.9" width="1.5" height="1.5" fill="#241c1c"/>
<rect x="848.4" y="601.7" width="1.5" height="1.5" fill="#2e2626"/>
<rect x="870.7" y="598.2" width="1.5" height="1.5" fill="#caa088"/>
<rect x="895.1" y="580.9" width="1.5" height="1.5" fill="#e0b070"/>
<rect x="831.6" y="552.9" width="1.5" height="1.5" fill="#1a1414"/>
<rect x="906.3" y="592.9" width="1.5" height="1.5" fill="#caa088"/>
<rect x="861.9" y="586.0" width="1.5" height="1.5" fill="#2e3a62"/>
<rect x="829.5" y="555.5" width="1.5" height="1.5" fill="#c06040"/>
<rect x="848.5" y="598.9" width="1.5" height="1.5" fill="#3a3030"/>
<rect x="820.2" y="568.0" width="1.5" height="1.5" fill="#2e2626"/>
<rect x="886.0" y="589.0" width="1.5" height="1.5" fill="#2e2626"/>
<rect x="856.8" y="589.5" width="1.5" height="1.5" fill="#1a1414"/>
<rect x="814.0" y="564.7" width="1.5" height="1.5" fill="#2e2626"/>
<rect x="863.1" y="562.9" width="1.5" height="1.5" fill="#f2f2f2"/>
<rect x="892.0" y="600.2" width="1.5" height="1.5" fill="#2e3a62"/>
<rect x="818.7" y="565.9" width="1.5" height="1.5" fill="#e0b070"/>
<rect x="851.7" y="591.1" width="1.5" height="1.5" fill="#e6d2c4"/>
<rect x="857.8" y="597.7" width="1.5" height="1.5" fill="#e0b070"/>
<rect x="835.5" y="565.9" width="1.5" height="1.5" fill="#2e3a62"/>
<rect x="844.5" y="599.4" width="1.5" height="1.5" fill="#8a3030"/>
<rect x="828.7" y="555.2" width="1.5" height="1.5" fill="#241c1c"/>
<rect x="837.0" y="590.7" width="1.5" height="1.5" fill="#1a1414"/>
<rect x="894.5" y="585.5" width="1.5" height="1.5" fill="#2e3a62"/>
<rect x="808.5" y="591.8" width="1.5" height="1.5" fill="#2e2626"/>
<rect x="842.2" y="584.9" width="1.5" height="1.5" fill="#caa088"/>
<rect x="901.3" y="594.3" width="1.5" height="1.5" fill="#a07a5a"/>
<rect x="886.4" y="580.6" width="1.5" height="1.5" fill="#caa088"/>
<rect x="816.6" y="598.9" width="1.5" height="1.5" fill="#e6d2c4"/>
<rect x="852.1" y="564.6" width="1.5" height="1.5" fill="#e0b070"/>
<rect x="850.2" y="591.1" width="1.5" height="1.5" fill="#e6d2c4"/>
<rect x="889.7" y="587.6" width="1.5" height="1.5" fill="#caa088"/>
<rect x="839.3" y="559.0" width="1.5" height="1.5" fill="#c06040"/>
<rect x="913.4" y="581.2" width="1.5" height="1.5" fill="#f2f2f2"/>
<rect x="857.5" y="585.5" width="1.5" height="1.5" fill="#3a3030"/>
<rect x="826.3" y="587.0" width="1.5" height="1.5" fill="#f2f2f2"/>
<rect x="916.2" y="596.2" width="1.5" height="1.5" fill="#f2f2f2"/>
<rect x="815.1" y="586.7" width="1.5" height="1.5" fill="#f2f2f2"/>
<rect x="907.5" y="599.2" width="1.5" height="1.5" fill="#2e3a62"/>
<rect x="908.1" y="581.1" width="1.5" height="1.5" fill="#1a1414"/>
<rect x="840.5" y="554.1" width="1.5" height="1.5" fill="#5a4a4a"/>
<rect x="805.8" y="596.6" width="1.5" height="1.5" fill="#f2f2f2"/>
<rect x="815.7" y="569.2" width="1.5" height="1.5" fill="#a07a5a"/>
<rect x="902.9" y="590.9" width="1.5" height="1.5" fill="#f2f2f2"/>
<rect x="839.2" y="589.5" width="1.5" height="1.5" fill="#caa088"/>
<rect x="839.6" y="598.8" width="1.5" height="1.5" fill="#2e2626"/>
<rect x="823.6" y="569.4" width="1.5" height="1.5" fill="#8a3030"/>
<rect x="868.5" y="589.8" width="1.5" height="1.5" fill="#c06040"/>
<rect x="814.5" y="557.5" width="1.5" height="1.5" fill="#caa088"/>
<rect x="857.5" y="572.9" width="1.5" height="1.5" fill="#2e3a62"/>
<rect x="899.9" y="583.5" width="1.5" height="1.5" fill="#f2f2f2"/>
<rect x="837.1" y="557.1" width="1.5" height="1.5" fill="#a07a5a"/>
<rect x="841.1" y="581.1" width="1.5" height="1.5" fill="#e0b070"/>
<rect x="860.1" y="570.0" width="1.5" height="1.5" fill="#caa088"/>
<rect x="876.9" y="598.9" width="1.5" height="1.5" fill="#e6d2c4"/>
<rect x="828.5" y="556.2" width="1.5" height="1.5" fill="#2e3a62"/>
<rect x="865.1" y="597.6" width="1.5" height="1.5" fill="#241c1c"/>
<rect x="899.4" y="573.4" width="1.5" height="1.5" fill="#a07a5a"/>
<rect x="865.9" y="560.2" width="1.5" height="1.5" fill="#e6d2c4"/>
<rect x="815.4" y="580.5" width="1.5" height="1.5" fill="#3a3030"/>
<rect x="838.6" y="601.2" width="1.5" height="1.5" fill="#caa088"/>
<rect x="806.9" y="589.9" width="1.5" height="1.5" fill="#2e3a62"/>
<rect x="914.9" y="590.5" width="1.5" height="1.5" fill="#caa088"/>
<rect x="877.8" y="585.8" width="1.5" height="1.5" fill="#5a4a4a"/>
<rect x="901.1" y="568.6" width="1.5" height="1.5" fill="#a07a5a"/>
<rect x="883.6" y="570.6" width="1.5" height="1.5" fill="#1a1414"/>
<rect x="885.8" y="601.2" width="1.5" height="1.5" fill="#c06040"/>
<rect x="827.8" y="584.2" width="1.5" height="1.5" fill="#e6d2c4"/>
<rect x="910.6" y="581.9" width="1.5" height="1.5" fill="#c06040"/>
<rect x="861.0" y="579.4" width="1.5" height="1.5" fill="#caa088"/>
<rect x="812.3" y="566.7" width="1.5" height="1.5" fill="#8a3030"/>
<rect x="913.9" y="576.2" width="1.5" height="1.5" fill="#2e3a62"/>
<rect x="812.0" y="584.7" width="1.5" height="1.5" fill="#caa088"/>
<rect x="879.4" y="597.7" width="1.5" height="1.5" fill="#2e2626"/>
<rect x="872.7" y="587.1" width="1.5" height="1.5" fill="#5a4a4a"/>
<rect x="811.4" y="584.4" width="1.5" height="1.5" fill="#a07a5a"/>
<rect x="850.3" y="592.8" width="1.5" height="1.5" fill="#f2f2f2"/>
<rect x="894.1" y="601.9" width="1.5" height="1.5" fill="#2e2626"/>
<rect x="826.6" y="579.4" width="1.5" height="1.5" fill="#5a4a4a"/>
<rect x="896.0" y="567.8" width="1.5" height="1.5" fill="#241c1c"/>
<rect x="881.3" y="557.7" width="1.5" height="1.5" fill="#2e3a62"/>
<rect x="914.5" y="591.6" width="1.5" height="1.5" fill="#8a3030"/>
<rect x="867.5" y="591.4" width="1.5" height="1.5" fill="#f2f2f2"/>
<rect x="836.4" y="592.3" width="1.5" height="1.5" fill="#c06040"/>
<rect x="811.7" y="589.7" width="1.5" height="1.5" fill="#2e3a62"/>
<rect x="900.6" y="572.0" width="1.5" height="1.5" fill="#c06040"/>
<rect x="879.5" y="592.5" width="1.5" height="1.5" fill="#3a3030"/>
<rect x="837.5" y="581.2" width="1.5" height="1.5" fill="#1a1414"/>
<rect x="852.0" y="582.7" width="1.5" height="1.5" fill="#1a1414"/>
<rect x="892.5" y="588.2" width="1.5" height="1.5" fill="#a07a5a"/>
<rect x="835.5" y="572.9" width="1.5" height="1.5" fill="#e6d2c4"/>
<rect x="870.3" y="577.9" width="1.5" height="1.5" fill="#caa088"/>
<rect x="893.6" y="598.7" width="1.5" height="1.5" fill="#3a3030"/>
<rect x="854.6" y="596.9" width="1.5" height="1.5" fill="#3a3030"/>
<rect x="827.0" y="566.6" width="1.5" height="1.5" fill="#3a3030"/>
<rect x="837.6" y="593.0" width="1.5" height="1.5" fill="#5a4a4a"/>
<rect x="855.9" y="600.8" width="1.5" height="1.5" fill="#241c1c"/>
<rect x="818.8" y="574.4" width="1.5" height="1.5" fill="#5a4a4a"/>
<rect x="858.5" y="591.0" width="1.5" height="1.5" fill="#c06040"/>
<rect x="842.7" y="559.0" width="1.5" height="1.5" fill="#e6d2c4"/>
<rect x="814.1" y="594.4" width="1.5" height="1.5" fill="#2e2626"/>
<rect x="867.2" y="599.0" width="1.5" height="1.5" fill="#caa088"/>
<rect x="847.5" y="569.1" width="1.5" height="1.5" fill="#2e3a62"/>
<rect x="914.5" y="575.3" width="1.5" height="1.5" fill="#f2f2f2"/>
<rect x="817.6" y="575.4" width="1.5" height="1.5" fill="#2e2626"/>
<rect x="815.4" y="581.2" width="1.5" height="1.5" fill="#e0b070"/>
<rect x="914.1" y="574.1" width="1.5" height="1.5" fill="#c06040"/>
<rect x="878.7" y="557.6" width="1.5" height="1.5" fill="#8a3030"/>
<rect x="873.1" y="580.1" width="1.5" height="1.5" fill="#e0b070"/>
<rect x="827.9" y="552.3" width="1.5" height="1.5" fill="#c06040"/>
<rect x="837.3" y="551.3" width="1.5" height="1.5" fill="#a07a5a"/>
<rect x="908.8" y="596.0" width="1.5" height="1.5" fill="#3a3030"/>
<rect x="909.5" y="585.2" width="1.5" height="1.5" fill="#caa088"/>
<rect x="909.0" y="591.4" width="1.5" height="1.5" fill="#c06040"/>
<rect x="844.5" y="567.3" width="1.5" height="1.5" fill="#f2f2f2"/>
<rect x="807.8" y="597.0" width="1.5" height="1.5" fill="#1a1414"/>
<rect x="914.8" y="577.5" width="1.5" height="1.5" fill="#a07a5a"/>
<rect x="849.3" y="599.9" width="1.5" height="1.5" fill="#f2f2f2"/>
<rect x="885.6" y="597.9" width="1.5" height="1.5" fill="#a07a5a"/>
<rect x="901.6" y="592.5" width="1.5" height="1.5" fill="#5a4a4a"/>
<rect x="811.3" y="588.4" width="1.5" height="1.5" fill="#e6d2c4"/>
<rect x="826.3" y="548.4" width="1.5" height="1.5" fill="#a07a5a"/>
<rect x="906.6" y="578.4" width="1.5" height="1.5" fill="#e6d2c4"/>
<rect x="875.1" y="558.8" width="1.5" height="1.5" fill="#1a1414"/>
<rect x="883.8" y="590.6" width="1.5" height="1.5" fill="#3a3030"/>
<rect x="864.7" y="567.7" width="1.5" height="1.5" fill="#f2f2f2"/>
<rect x="860.3" y="582.1" width="1.5" height="1.5" fill="#8a3030"/>
<rect x="833.1" y="583.9" width="1.5" height="1.5" fill="#caa088"/>
<rect x="805.7" y="591.5" width="1.5" height="1.5" fill="#e0b070"/>
<rect x="878.6" y="582.5" width="1.5" height="1.5" fill="#a07a5a"/>
<rect x="824.1" y="576.2" width="1.5" height="1.5" fill="#f2f2f2"/>
<rect x="916.0" y="599.6" width="1.5" height="1.5" fill="#241c1c"/>
<rect x="821.8" y="560.9" width="1.5" height="1.5" fill="#1a1414"/>
<rect x="821.3" y="598.0" width="1.5" height="1.5" fill="#a07a5a"/>
<rect x="830.8" y="598.5" width="1.5" height="1.5" fill="#5a4a4a"/>
<rect x="846.9" y="573.5" width="1.5" height="1.5" fill="#1a1414"/>
<rect x="844.8" y="569.9" width="1.5" height="1.5" fill="#e6d2c4"/>
<rect x="839.3" y="568.0" width="1.5" height="1.5" fill="#caa088"/>
<rect x="903.4" y="580.2" width="1.5" height="1.5" fill="#8a3030"/>
<rect x="834.8" y="576.9" width="1.5" height="1.5" fill="#c06040"/>
<rect x="830.4" y="580.1" width="1.5" height="1.5" fill="#8a3030"/>
<rect x="823.1" y="546.5" width="1.5" height="1.5" fill="#a07a5a"/>
<rect x="811.1" y="548.1" width="1.5" height="1.5" fill="#f2f2f2"/>
<rect x="823.3" y="584.4" width="1.5" height="1.5" fill="#f2f2f2"/>
<rect x="914.4" y="570.9" width="1.5" height="1.5" fill="#5a4a4a"/>
<rect x="904.0" y="575.5" width="1.5" height="1.5" fill="#1a1414"/>
<rect x="844.1" y="552.8" width="1.5" height="1.5" fill="#2e3a62"/>
<rect x="915.9" y="570.3" width="1.5" height="1.5" fill="#e6d2c4"/>
<rect x="853.7" y="553.1" width="1.5" height="1.5" fill="#1a1414"/>
<rect x="835.1" y="563.4" width="1.5" height="1.5" fill="#5a4a4a"/>
<rect x="826.6" y="564.7" width="1.5" height="1.5" fill="#f2f2f2"/>
<rect x="887.6" y="565.6" width="1.5" height="1.5" fill="#2e2626"/>
<rect x="916.4" y="595.0" width="1.5" height="1.5" fill="#8a3030"/>
<rect x="883.9" y="573.6" width="1.5" height="1.5" fill="#3a3030"/>
<rect x="879.0" y="556.7" width="1.5" height="1.5" fill="#a07a5a"/>
<rect x="897.2" y="587.1" width="1.5" height="1.5" fill="#f2f2f2"/>
<rect x="824.9" y="566.1" width="1.5" height="1.5" fill="#2e2626"/>
<rect x="896.6" y="589.7" width="1.5" height="1.5" fill="#e6d2c4"/>
<rect x="867.7" y="602.7" width="1.5" height="1.5" fill="#f2f2f2"/>
<rect x="848.9" y="564.0" width="1.5" height="1.5" fill="#caa088"/>
<rect x="848.2" y="578.6" width="1.5" height="1.5" fill="#caa088"/>
<rect x="864.3" y="591.0" width="1.5" height="1.5" fill="#8a3030"/>
<rect x="839.3" y="576.6" width="1.5" height="1.5" fill="#8a3030"/>
<rect x="839.7" y="552.5" width="1.5" height="1.5" fill="#3a3030"/>
<rect x="899.5" y="585.1" width="1.5" height="1.5" fill="#e0b070"/>
<rect x="813.7" y="557.8" width="1.5" height="1.5" fill="#e0b070"/>
<rect x="881.6" y="570.5" width="1.5" height="1.5" fill="#a07a5a"/>
<rect x="828.5" y="571.3" width="1.5" height="1.5" fill="#a07a5a"/>
<rect x="814.5" y="596.8" width="1.5" height="1.5" fill="#f2f2f2"/>
<rect x="851.4" y="548.0" width="1.5" height="1.5" fill="#f2f2f2"/>
<rect x="882.9" y="597.4" width="1.5" height="1.5" fill="#caa088"/>
<rect x="821.1" y="583.1" width="1.5" height="1.5" fill="#1a1414"/>
<rect x="917.4" y="578.3" width="1.5" height="1.5" fill="#5a4a4a"/>
<rect x="827.8" y="590.3" width="1.5" height="1.5" fill="#5a4a4a"/>
<rect x="891.2" y="595.2" width="1.5" height="1.5" fill="#2e3a62"/>
<rect x="816.4" y="556.1" width="1.5" height="1.5" fill="#8a3030"/>
<rect x="872.3" y="589.7" width="1.5" height="1.5" fill="#2e3a62"/>
<rect x="856.6" y="563.4" width="1.5" height="1.5" fill="#5a4a4a"/>
<rect x="810.2" y="558.7" width="1.5" height="1.5" fill="#1a1414"/>
<rect x="820.2" y="597.2" width="1.5" height="1.5" fill="#5a4a4a"/>
<rect x="883.3" y="594.3" width="1.5" height="1.5" fill="#e6d2c4"/>
<rect x="878.5" y="591.8" width="1.5" height="1.5" fill="#8a3030"/>
<rect x="848.9" y="582.0" width="1.5" height="1.5" fill="#241c1c"/>
<rect x="831.0" y="561.0" width="1.5" height="1.5" fill="#c06040"/>
<rect x="904.3" y="594.7" width="1.5" height="1.5" fill="#8a3030"/>
<rect x="806.6" y="602.4" width="1.5" height="1.5" fill="#8a3030"/>
<rect x="867.8" y="570.6" width="1.5" height="1.5" fill="#e0b070"/>
<rect x="840.8" y="553.1" width="1.5" height="1.5" fill="#c06040"/>
<rect x="817.2" y="566.0" width="1.5" height="1.5" fill="#caa088"/>
<rect x="821.7" y="556.5" width="1.5" height="1.5" fill="#f2f2f2"/>
<rect x="908.7" y="580.2" width="1.5" height="1.5" fill="#f2f2f2"/>
<rect x="863.0" y="560.8" width="1.5" height="1.5" fill="#a07a5a"/>
<rect x="915.7" y="566.6" width="1.5" height="1.5" fill="#c06040"/>
<rect x="814.6" y="591.0" width="1.5" height="1.5" fill="#5a4a4a"/>
<rect x="836.8" y="594.7" width="1.5" height="1.5" fill="#241c1c"/>
<rect x="829.8" y="559.1" width="1.5" height="1.5" fill="#2e3a62"/>
<rect x="859.6" y="564.5" width="1.5" height="1.5" fill="#f2f2f2"/>
<rect x="837.6" y="594.2" width="1.5" height="1.5" fill="#2e2626"/>
<rect x="854.6" y="589.7" width="1.5" height="1.5" fill="#c06040"/>
<rect x="903.5" y="591.2" width="1.5" height="1.5" fill="#e6d2c4"/>
<rect x="827.5" y="581.2" width="1.5" height="1.5" fill="#2e3a62"/>
<rect x="855.0" y="555.1" width="1.5" height="1.5" fill="#5a4a4a"/>
<rect x="895.2" y="602.3" width="1.5" height="1.5" fill="#caa088"/>
<rect x="815.3" y="591.5" width="1.5" height="1.5" fill="#f2f2f2"/>
<rect x="846.9" y="571.9" width="1.5" height="1.5" fill="#a07a5a"/>
<rect x="913.2" y="591.9" width="1.5" height="1.5" fill="#e6d2c4"/>
<rect x="875.5" y="561.3" width="1.5" height="1.5" fill="#caa088"/>
<rect x="881.4" y="586.0" width="1.5" height="1.5" fill="#241c1c"/>
<rect x="831.7" y="582.5" width="1.5" height="1.5" fill="#a07a5a"/>
<rect x="843.7" y="548.4" width="1.5" height="1.5" fill="#f2f2f2"/>
<rect x="891.0" y="577.4" width="1.5" height="1.5" fill="#8a3030"/>
<rect x="865.3" y="580.9" width="1.5" height="1.5" fill="#241c1c"/>
<rect x="912.7" y="591.5" width="1.5" height="1.5" fill="#1a1414"/>
<rect x="845.7" y="581.3" width="1.5" height="1.5" fill="#f2f2f2"/>
<rect x="909.0" y="601.8" width="1.5" height="1.5" fill="#2e2626"/>
<rect x="854.8" y="602.6" width="1.5" height="1.5" fill="#caa088"/>
<rect x="863.7" y="595.6" width="1.5" height="1.5" fill="#3a3030"/>
<rect x="915.3" y="571.2" width="1.5" height="1.5" fill="#2e2626"/>
<rect x="836.6" y="598.1" width="1.5" height="1.5" fill="#2e2626"/>
<rect x="914.2" y="567.2" width="1.5" height="1.5" fill="#e0b070"/>
<rect x="826.4" y="568.2" width="1.5" height="1.5" fill="#2e3a62"/>
<rect x="868.4" y="594.5" width="1.5" height="1.5" fill="#c06040"/>
<rect x="817.7" y="555.3" width="1.5" height="1.5" fill="#f2f2f2"/>
<rect x="831.4" y="574.5" width="1.5" height="1.5" fill="#3a3030"/>
<rect x="872.2" y="589.8" width="1.5" height="1.5" fill="#2e2626"/>
<rect x="819.1" y="548.3" width="1.5" height="1.5" fill="#1a1414"/>
<rect x="848.9" y="546.5" width="1.5" height="1.5" fill="#2e2626"/>
<rect x="806.6" y="591.2" width="1.5" height="1.5" fill="#2e2626"/>
<rect x="838.2" y="561.4" width="1.5" height="1.5" fill="#8a3030"/>
<rect x="873.4" y="588.1" width="1.5" height="1.5" fill="#2e2626"/>
<rect x="884.6" y="591.9" width="1.5" height="1.5" fill="#2e3a62"/>
<rect x="836.8" y="584.0" width="1.5" height="1.5" fill="#e0b070"/>
<rect x="864.5" y="567.2" width="1.5" height="1.5" fill="#a07a5a"/>
<rect x="891.1" y="598.4" width="1.5" height="1.5" fill="#e0b070"/>
<rect x="852.3" y="567.2" width="1.5" height="1.5" fill="#a07a5a"/>
<rect x="842.2" y="548.0" width="1.5" height="1.5" fill="#2e3a62"/>
<rect x="856.7" y="586.1" width="1.5" height="1.5" fill="#c06040"/>
<rect x="830.5" y="549.8" width="1.5" height="1.5" fill="#1a1414"/>
<rect x="806.8" y="592.2" width="1.5" height="1.5" fill="#241c1c"/>
<rect x="809.3" y="586.8" width="1.5" height="1.5" fill="#f2f2f2"/>
<rect x="879.4" y="600.0" width="1.5" height="1.5" fill="#c06040"/>
<rect x="896.6" y="569.1" width="1.5" height="1.5" fill="#c06040"/>
<rect x="881.0" y="592.8" width="1.5" height="1.5" fill="#2e2626"/>
<rect x="904.1" y="581.3" width="1.5" height="1.5" fill="#a07a5a"/>
<rect x="828.1" y="599.3" width="1.5" height="1.5" fill="#241c1c"/>
<rect x="875.3" y="574.4" width="1.5" height="1.5" fill="#caa088"/>
<rect x="830.5" y="550.9" width="1.5" height="1.5" fill="#e0b070"/>
<rect x="813.7" y="558.7" width="1.5" height="1.5" fill="#c06040"/>
<rect x="849.8" y="599.7" width="1.5" height="1.5" fill="#caa088"/>
<rect x="842.2" y="584.8" width="1.5" height="1.5" fill="#3a3030"/>
<rect x="867.1" y="571.9" width="1.5" height="1.5" fill="#a07a5a"/>
<rect x="822.6" y="598.8" width="1.5" height="1.5" fill="#241c1c"/>
<rect x="915.1" y="601.1" width="1.5" height="1.5" fill="#f2f2f2"/>
<rect x="815.7" y="580.2" width="1.5" height="1.5" fill="#1a1414"/>
<rect x="890.4" y="590.5" width="1.5" height="1.5" fill="#241c1c"/>
<rect x="831.0" y="588.7" width="1.5" height="1.5" fill="#241c1c"/>
<rect x="888.4" y="594.4" width="1.5" height="1.5" fill="#e6d2c4"/>
<rect x="879.9" y="576.0" width="1.5" height="1.5" fill="#caa088"/>
<rect x="832.5" y="549.9" width="1.5" height="1.5" fill="#a07a5a"/>
<rect x="906.9" y="580.6" width="1.5" height="1.5" fill="#f2f2f2"/>
<rect x="868.7" y="584.5" width="1.5" height="1.5" fill="#5a4a4a"/>
<rect x="902.3" y="600.8" width="1.5" height="1.5" fill="#a07a5a"/>
<rect x="846.1" y="592.0" width="1.5" height="1.5" fill="#5a4a4a"/>
<rect x="858.9" y="582.0" width="1.5" height="1.5" fill="#a07a5a"/>
<rect x="867.9" y="595.4" width="1.5" height="1.5" fill="#3a3030"/>
<rect x="822.1" y="579.8" width="1.5" height="1.5" fill="#2e3a62"/>
<rect x="815.2" y="565.1" width="1.5" height="1.5" fill="#2e2626"/>
<rect x="851.2" y="575.7" width="1.5" height="1.5" fill="#2e3a62"/>
<rect x="819.1" y="598.3" width="1.5" height="1.5" fill="#c06040"/>
<rect x="838.3" y="572.1" width="1.5" height="1.5" fill="#a07a5a"/>
<rect x="896.6" y="579.5" width="1.5" height="1.5" fill="#2e2626"/>
<rect x="815.3" y="592.9" width="1.5" height="1.5" fill="#1a1414"/>
<rect x="888.9" y="568.2" width="1.5" height="1.5" fill="#241c1c"/>
<rect x="915.6" y="572.8" width="1.5" height="1.5" fill="#a07a5a"/>
<rect x="853.8" y="578.7" width="1.5" height="1.5" fill="#c06040"/>
<rect x="825.5" y="549.3" width="1.5" height="1.5" fill="#241c1c"/>
<rect x="834.5" y="563.4" width="1.5" height="1.5" fill="#c06040"/>
<rect x="844.2" y="551.9" width="1.5" height="1.5" fill="#3a3030"/>
<rect x="811.1" y="556.4" width="1.5" height="1.5" fill="#1a1414"/>
<rect x="827.2" y="581.1" width="1.5" height="1.5" fill="#8a3030"/>
<rect x="813.5" y="560.4" width="1.5" height="1.5" fill="#e6d2c4"/>
<rect x="884.3" y="595.0" width="1.5" height="1.5" fill="#241c1c"/>
<rect x="825.2" y="585.4" width="1.5" height="1.5" fill="#2e2626"/>
<rect x="868.3" y="562.2" width="1.5" height="1.5" fill="#2e2626"/>
<rect x="821.2" y="582.8" width="1.5" height="1.5" fill="#3a3030"/>
<rect x="879.3" y="598.3" width="1.5" height="1.5" fill="#2e2626"/>
<rect x="813.9" y="549.2" width="1.5" height="1.5" fill="#caa088"/>
<rect x="817.2" y="573.1" width="1.5" height="1.5" fill="#2e2626"/>
<rect x="828.2" y="568.2" width="1.5" height="1.5" fill="#3a3030"/>
<rect x="880.4" y="589.1" width="1.5" height="1.5" fill="#8a3030"/>
<rect x="866.1" y="602.7" width="1.5" height="1.5" fill="#e6d2c4"/>
<rect x="808.3" y="549.3" width="1.5" height="1.5" fill="#2e3a62"/>
<rect x="854.9" y="572.4" width="1.5" height="1.5" fill="#2e2626"/>
<rect x="853.5" y="589.6" width="1.5" height="1.5" fill="#2e2626"/>
<rect x="807.0" y="556.4" width="1.5" height="1.5" fill="#2e3a62"/>
<rect x="858.4" y="556.6" width="1.5" height="1.5" fill="#8a3030"/>
<rect x="862.4" y="572.5" width="1.5" height="1.5" fill="#5a4a4a"/>
<rect x="819.6" y="584.5" width="1.5" height="1.5" fill="#f2f2f2"/>
<rect x="876.3" y="569.6" width="1.5" height="1.5" fill="#241c1c"/>
<rect x="914.5" y="592.9" width="1.5" height="1.5" fill="#caa088"/>
<rect x="836.5" y="587.3" width="1.5" height="1.5" fill="#8a3030"/>
<rect x="820.7" y="549.4" width="1.5" height="1.5" fill="#2e3a62"/>
<rect x="902.7" y="586.1" width="1.5" height="1.5" fill="#3a3030"/>
<rect x="898.1" y="600.8" width="1.5" height="1.5" fill="#3a3030"/>
<rect x="814.8" y="553.6" width="1.5" height="1.5" fill="#8a3030"/>
<rect x="826.0" y="586.6" width="1.5" height="1.5" fill="#241c1c"/>
<rect x="871.0" y="598.1" width="1.5" height="1.5" fill="#5a4a4a"/>
<rect x="870.8" y="567.2" width="1.5" height="1.5" fill="#a07a5a"/>
<rect x="822.8" y="597.1" width="1.5" height="1.5" fill="#3a3030"/>
<rect x="818.9" y="580.0" width="1.5" height="1.5" fill="#8a3030"/>
<rect x="910.7" y="571.1" width="1.5" height="1.5" fill="#2e3a62"/>
<rect x="827.7" y="578.6" width="1.5" height="1.5" fill="#e0b070"/>
<rect x="886.5" y="586.9" width="1.5" height="1.5" fill="#2e2626"/>
<rect x="825.9" y="569.6" width="1.5" height="1.5" fill="#3a3030"/>
<rect x="826.9" y="598.7" width="1.5" height="1.5" fill="#8a3030"/>
<rect x="881.6" y="591.3" width="1.5" height="1.5" fill="#f2f2f2"/>
<rect x="835.2" y="567.3" width="1.5" height="1.5" fill="#a07a5a"/>
<rect x="851.3" y="593.9" width="1.5" height="1.5" fill="#8a3030"/>
<rect x="846.0" y="599.1" width="1.5" height="1.5" fill="#3a3030"/>
<rect x="908.4" y="594.1" width="1.5" height="1.5" fill="#c06040"/>
<rect x="872.8" y="565.5" width="1.5" height="1.5" fill="#caa088"/>
<rect x="866.3" y="592.7" width="1.5" height="1.5" fill="#caa088"/>
<rect x="813.6" y="559.5" width="1.5" height="1.5" fill="#3a3030"/>
<rect x="856.8" y="573.4" width="1.5" height="1.5" fill="#caa088"/>
<rect x="881.1" y="598.3" width="1.5" height="1.5" fill="#caa088"/>
<rect x="831.6" y="588.4" width="1.5" height="1.5" fill="#e0b070"/>
<rect x="814.0" y="578.6" width="1.5" height="1.5" fill="#5a4a4a"/>
<rect x="813.5" y="600.0" width="1.5" height="1.5" fill="#3a3030"/>
<rect x="856.3" y="554.8" width="1.5" height="1.5" fill="#caa088"/>
<rect x="853.1" y="568.2" width="1.5" height="1.5" fill="#8a3030"/>
<rect x="850.3" y="596.1" width="1.5" height="1.5" fill="#caa088"/>
<rect x="843.2" y="600.4" width="1.5" height="1.5" fill="#e6d2c4"/>
<rect x="836.6" y="580.9" width="1.5" height="1.5" fill="#e6d2c4"/>
<rect x="888.1" y="585.2" width="1.5" height="1.5" fill="#2e2626"/>
<rect x="895.3" y="578.8" width="1.5" height="1.5" fill="#2e3a62"/>
<rect x="891.3" y="569.3" width="1.5" height="1.5" fill="#241c1c"/>
<rect x="876.9" y="595.1" width="1.5" height="1.5" fill="#2e3a62"/>
<rect x="869.4" y="577.5" width="1.5" height="1.5" fill="#e6d2c4"/>
<rect x="857.5" y="594.5" width="1.5" height="1.5" fill="#a07a5a"/>
<rect x="835.8" y="598.1" width="1.5" height="1.5" fill="#2e3a62"/>
<rect x="888.0" y="557.2" width="1.5" height="1.5" fill="#e0b070"/>
<rect x="865.0" y="588.7" width="1.5" height="1.5" fill="#e0b070"/>
<rect x="912.5" y="576.7" width="1.5" height="1.5" fill="#1a1414"/>
<rect x="832.5" y="589.1" width="1.5" height="1.5" fill="#3a3030"/>
<rect x="908.9" y="589.0" width="1.5" height="1.5" fill="#e6d2c4"/>
<rect x="896.1" y="573.0" width="1.5" height="1.5" fill="#1a1414"/>
<rect x="870.2" y="598.4" width="1.5" height="1.5" fill="#241c1c"/>
<rect x="909.9" y="592.0" width="1.5" height="1.5" fill="#3a3030"/>
<rect x="892.6" y="590.4" width="1.5" height="1.5" fill="#2e3a62"/>
<rect x="808.5" y="555.1" width="1.5" height="1.5" fill="#c06040"/>
<rect x="835.5" y="586.5" width="1.5" height="1.5" fill="#5a4a4a"/>
<rect x="825.6" y="550.9" width="1.5" height="1.5" fill="#f2f2f2"/>
<rect x="888.9" y="575.8" width="1.5" height="1.5" fill="#3a3030"/>
<rect x="885.0" y="586.8" width="1.5" height="1.5" fill="#3a3030"/>
<rect x="850.5" y="579.4" width="1.5" height="1.5" fill="#8a3030"/>
<rect x="810.8" y="555.6" width="1.5" height="1.5" fill="#e6d2c4"/>
<rect x="833.0" y="557.0" width="1.5" height="1.5" fill="#8a3030"/>
<rect x="861.7" y="562.4" width="1.5" height="1.5" fill="#2e2626"/>
<rect x="894.6" y="567.5" width="1.5" height="1.5" fill="#e0b070"/>
<rect x="883.9" y="591.6" width="1.5" height="1.5" fill="#2e3a62"/>
<rect x="914.7" y="575.4" width="1.5" height="1.5" fill="#a07a5a"/>
<rect x="859.6" y="586.3" width="1.5" height="1.5" fill="#2e2626"/>
<rect x="822.5" y="564.1" width="1.5" height="1.5" fill="#caa088"/>
<rect x="840.7" y="551.6" width="1.5" height="1.5" fill="#f2f2f2"/>
<rect x="842.1" y="584.9" width="1.5" height="1.5" fill="#1a1414"/>
<rect x="917.7" y="600.8" width="1.5" height="1.5" fill="#e6d2c4"/>
<rect x="851.4" y="579.4" width="1.5" height="1.5" fill="#e6d2c4"/>
<rect x="821.6" y="577.1" width="1.5" height="1.5" fill="#e6d2c4"/>
<rect x="826.2" y="576.7" width="1.5" height="1.5" fill="#2e2626"/>
<rect x="828.5" y="556.6" width="1.5" height="1.5" fill="#241c1c"/>
<rect x="858.3" y="590.5" width="1.5" height="1.5" fill="#a07a5a"/>
<rect x="830.3" y="582.3" width="1.5" height="1.5" fill="#3a3030"/>
<rect x="890.5" y="600.6" width="1.5" height="1.5" fill="#caa088"/>
<rect x="865.0" y="558.5" width="1.5" height="1.5" fill="#3a3030"/>
<rect x="862.7" y="556.3" width="1.5" height="1.5" fill="#e6d2c4"/>
<rect x="876.9" y="569.4" width="1.5" height="1.5" fill="#2e2626"/>
<rect x="833.3" y="586.6" width="1.5" height="1.5" fill="#241c1c"/>
<rect x="861.3" y="576.9" width="1.5" height="1.5" fill="#e0b070"/>
<rect x="853.6" y="570.2" width="1.5" height="1.5" fill="#2e2626"/>
<rect x="909.3" y="575.6" width="1.5" height="1.5" fill="#8a3030"/>
<rect x="815.1" y="579.0" width="1.5" height="1.5" fill="#e0b070"/>
<rect x="825.4" y="587.1" width="1.5" height="1.5" fill="#f2f2f2"/>
<rect x="835.9" y="562.4" width="1.5" height="1.5" fill="#5a4a4a"/>
<rect x="841.8" y="549.5" width="1.5" height="1.5" fill="#1a1414"/>
<rect x="841.9" y="554.0" width="1.5" height="1.5" fill="#f2f2f2"/>
<rect x="872.9" y="558.9" width="1.5" height="1.5" fill="#5a4a4a"/>
<rect x="856.4" y="566.9" width="1.5" height="1.5" fill="#8a3030"/>
<rect x="842.7" y="553.7" width="1.5" height="1.5" fill="#241c1c"/>
<rect x="849.6" y="593.3" width="1.5" height="1.5" fill="#c06040"/>
<rect x="915.0" y="585.4" width="1.5" height="1.5" fill="#e0b070"/>
<rect x="903.0" y="569.0" width="1.5" height="1.5" fill="#3a3030"/>
<rect x="828.2" y="575.0" width="1.5" height="1.5" fill="#f2f2f2"/>
<rect x="877.3" y="603.0" width="1.5" height="1.5" fill="#e0b070"/>
<rect x="806.4" y="579.3" width="1.5" height="1.5" fill="#2e3a62"/>
<rect x="814.1" y="563.0" width="1.5" height="1.5" fill="#8a3030"/>
<rect x="845.4" y="589.5" width="1.5" height="1.5" fill="#8a3030"/>
<rect x="841.2" y="546.5" width="1.5" height="1.5" fill="#1a1414"/>
<rect x="817.3" y="561.5" width="1.5" height="1.5" fill="#241c1c"/>
<rect x="813.6" y="562.6" width="1.5" height="1.5" fill="#caa088"/>
<rect x="862.3" y="592.7" width="1.5" height="1.5" fill="#2e3a62"/>
<rect x="898.9" y="579.9" width="1.5" height="1.5" fill="#caa088"/>
<rect x="849.7" y="588.6" width="1.5" height="1.5" fill="#e6d2c4"/>
<rect x="836.3" y="548.1" width="1.5" height="1.5" fill="#f2f2f2"/>
<rect x="841.4" y="558.7" width="1.5" height="1.5" fill="#2e2626"/>
<rect x="836.7" y="566.9" width="1.5" height="1.5" fill="#e6d2c4"/>
<rect x="819.2" y="576.1" width="1.5" height="1.5" fill="#8a3030"/>
<rect x="900.0" y="585.6" width="1.5" height="1.5" fill="#2e2626"/>
<rect x="865.4" y="562.1" width="1.5" height="1.5" fill="#5a4a4a"/>
<rect x="909.0" y="569.5" width="1.5" height="1.5" fill="#f2f2f2"/>
<rect x="887.9" y="597.1" width="1.5" height="1.5" fill="#8a3030"/>
<rect x="835.5" y="600.4" width="1.5" height="1.5" fill="#5a4a4a"/>
<rect x="893.9" y="598.6" width="1.5" height="1.5" fill="#241c1c"/>
<rect x="849.2" y="578.1" width="1.5" height="1.5" fill="#e6d2c4"/>
<rect x="885.3" y="600.4" width="1.5" height="1.5" fill="#f2f2f2"/>
<rect x="896.8" y="570.5" width="1.5" height="1.5" fill="#2e2626"/>
<rect x="892.5" y="593.6" width="1.5" height="1.5" fill="#2e3a62"/>
<rect x="817.7" y="597.7" width="1.5" height="1.5" fill="#caa088"/>
<rect x="916.1" y="600.1" width="1.5" height="1.5" fill="#f2f2f2"/>
<rect x="878.2" y="601.1" width="1.5" height="1.5" fill="#3a3030"/>
<rect x="832.1" y="561.5" width="1.5" height="1.5" fill="#241c1c"/>
<rect x="843.6" y="560.1" width="1.5" height="1.5" fill="#8a3030"/>
<rect x="836.5" y="580.2" width="1.5" height="1.5" fill="#1a1414"/>
<rect x="835.4" y="578.0" width="1.5" height="1.5" fill="#a07a5a"/>
<rect x="823.5" y="578.9" width="1.5" height="1.5" fill="#c06040"/>
<rect x="818.9" y="551.7" width="1.5" height="1.5" fill="#2e2626"/>
<rect x="835.1" y="595.1" width="1.5" height="1.5" fill="#1a1414"/>
<rect x="883.7" y="557.0" width="1.5" height="1.5" fill="#1a1414"/>
<rect x="852.4" y="547.2" width="1.5" height="1.5" fill="#2e3a62"/>
<rect x="890.8" y="578.9" width="1.5" height="1.5" fill="#c06040"/>
<rect x="913.3" y="582.8" width="1.5" height="1.5" fill="#2e2626"/>
<rect x="882.2" y="560.9" width="1.5" height="1.5" fill="#241c1c"/>
<rect x="833.9" y="569.2" width="1.5" height="1.5" fill="#241c1c"/>
<rect x="889.3" y="598.6" width="1.5" height="1.5" fill="#a07a5a"/>
<rect x="819.8" y="556.5" width="1.5" height="1.5" fill="#f2f2f2"/>
<rect x="808.6" y="587.6" width="1.5" height="1.5" fill="#3a3030"/>
<rect x="835.0" y="592.6" width="1.5" height="1.5" fill="#e6d2c4"/>
<rect x="809.7" y="558.9" width="1.5" height="1.5" fill="#241c1c"/>
<rect x="908.8" y="573.9" width="1.5" height="1.5" fill="#2e3a62"/>
<rect x="808.1" y="585.6" width="1.5" height="1.5" fill="#c06040"/>
<rect x="837.8" y="586.5" width="1.5" height="1.5" fill="#caa088"/>
<rect x="899.6" y="588.9" width="1.5" height="1.5" fill="#8a3030"/>
<rect x="814.9" y="591.1" width="1.5" height="1.5" fill="#2e3a62"/>
<rect x="872.4" y="570.3" width="1.5" height="1.5" fill="#2e2626"/>
<rect x="899.5" y="568.4" width="1.5" height="1.5" fill="#f2f2f2"/>
<rect x="854.3" y="602.0" width="1.5" height="1.5" fill="#2e2626"/>
<rect x="871.7" y="575.9" width="1.5" height="1.5" fill="#2e2626"/>
<rect x="816.7" y="578.1" width="1.5" height="1.5" fill="#caa088"/>
<rect x="914.5" y="588.3" width="1.5" height="1.5" fill="#3a3030"/>
<rect x="868.0" y="578.8" width="1.5" height="1.5" fill="#2e2626"/>
<rect x="822.7" y="550.6" width="1.5" height="1.5" fill="#f2f2f2"/>
<rect x="879.5" y="558.7" width="1.5" height="1.5" fill="#3a3030"/>
<rect x="863.2" y="557.9" width="1.5" height="1.5" fill="#a07a5a"/>
<rect x="863.1" y="597.6" width="1.5" height="1.5" fill="#a07a5a"/>
<rect x="882.8" y="598.6" width="1.5" height="1.5" fill="#1a1414"/>
<rect x="911.4" y="589.1" width="1.5" height="1.5" fill="#e0b070"/>
<rect x="852.6" y="572.2" width="1.5" height="1.5" fill="#1a1414"/>
<rect x="867.9" y="567.4" width="1.5" height="1.5" fill="#f2f2f2"/>
<rect x="875.8" y="577.6" width="1.5" height="1.5" fill="#1a1414"/>
<rect x="897.2" y="595.6" width="1.5" height="1.5" fill="#caa088"/>
<rect x="849.6" y="554.8" width="1.5" height="1.5" fill="#241c1c"/>
<rect x="838.2" y="582.6" width="1.5" height="1.5" fill="#f2f2f2"/>
<rect x="821.0" y="589.1" width="1.5" height="1.5" fill="#241c1c"/>
<rect x="891.8" y="566.8" width="1.5" height="1.5" fill="#241c1c"/>
<rect x="905.0" y="568.2" width="1.5" height="1.5" fill="#f2f2f2"/>
<rect x="852.3" y="582.0" width="1.5" height="1.5" fill="#caa088"/>
<rect x="822.7" y="548.6" width="1.5" height="1.5" fill="#e0b070"/>
<rect x="861.0" y="563.5" width="1.5" height="1.5" fill="#f2f2f2"/>
<rect x="825.4" y="568.2" width="1.5" height="1.5" fill="#5a4a4a"/>
<rect x="828.4" y="551.2" width="1.5" height="1.5" fill="#c06040"/>
<rect x="888.1" y="571.1" width="1.5" height="1.5" fill="#a07a5a"/>
<rect x="866.8" y="577.6" width="1.5" height="1.5" fill="#1a1414"/>
<rect x="832.4" y="601.3" width="1.5" height="1.5" fill="#5a4a4a"/>
<rect x="874.6" y="586.4" width="1.5" height="1.5" fill="#241c1c"/>
<rect x="881.7" y="600.1" width="1.5" height="1.5" fill="#f2f2f2"/>
<rect x="914.3" y="589.0" width="1.5" height="1.5" fill="#caa088"/>
<rect x="860.0" y="583.5" width="1.5" height="1.5" fill="#c06040"/>
<rect x="868.5" y="582.8" width="1.5" height="1.5" fill="#f2f2f2"/>
<rect x="807.2" y="550.1" width="1.5" height="1.5" fill="#f2f2f2"/>
<rect x="837.0" y="560.7" width="1.5" height="1.5" fill="#e6d2c4"/>
<rect x="843.6" y="567.0" width="1.5" height="1.5" fill="#2e3a62"/>
<rect x="809.3" y="596.5" width="1.5" height="1.5" fill="#8a3030"/>
<rect x="895.6" y="589.5" width="1.5" height="1.5" fill="#241c1c"/>
<rect x="835.7" y="590.4" width="1.5" height="1.5" fill="#e0b070"/>
<rect x="860.7" y="601.1" width="1.5" height="1.5" fill="#8a3030"/>
<rect x="869.1" y="599.5" width="1.5" height="1.5" fill="#241c1c"/>
<rect x="821.7" y="589.9" width="1.5" height="1.5" fill="#8a3030"/>
<rect x="865.4" y="593.8" width="1.5" height="1.5" fill="#e6d2c4"/>
<rect x="881.2" y="579.7" width="1.5" height="1.5" fill="#e0b070"/>
<rect x="872.4" y="587.8" width="1.5" height="1.5" fill="#c06040"/>
<rect x="842.7" y="579.6" width="1.5" height="1.5" fill="#2e3a62"/>
<rect x="854.4" y="589.0" width="1.5" height="1.5" fill="#2e3a62"/>
<rect x="837.3" y="562.1" width="1.5" height="1.5" fill="#f2f2f2"/>
<rect x="815.6" y="591.8" width="1.5" height="1.5" fill="#241c1c"/>
<rect x="862.3" y="598.4" width="1.5" height="1.5" fill="#a07a5a"/>
<rect x="866.4" y="585.9" width="1.5" height="1.5" fill="#8a3030"/>
<rect x="829.6" y="565.3" width="1.5" height="1.5" fill="#f2f2f2"/>
<rect x="866.4" y="580.8" width="1.5" height="1.5" fill="#a07a5a"/>
<rect x="812.1" y="598.2" width="1.5" height="1.5" fill="#5a4a4a"/>
<rect x="869.9" y="587.9" width="1.5" height="1.5" fill="#5a4a4a"/>
<rect x="854.2" y="595.6" width="1.5" height="1.5" fill="#241c1c"/>
<rect x="841.4" y="566.1" width="1.5" height="1.5" fill="#3a3030"/>
<rect x="817.0" y="590.0" width="1.5" height="1.5" fill="#2e3a62"/>
<rect x="827.1" y="591.6" width="1.5" height="1.5" fill="#2e3a62"/>
<rect x="847.5" y="571.8" width="1.5" height="1.5" fill="#1a1414"/>
<rect x="905.8" y="586.6" width="1.5" height="1.5" fill="#2e2626"/>
<rect x="820.1" y="556.8" width="1.5" height="1.5" fill="#8a3030"/>
<rect x="818.4" y="600.6" width="1.5" height="1.5" fill="#5a4a4a"/>
<rect x="841.6" y="590.8" width="1.5" height="1.5" fill="#e0b070"/>
<rect x="836.2" y="596.5" width="1.5" height="1.5" fill="#1a1414"/>
<rect x="876.2" y="579.3" width="1.5" height="1.5" fill="#3a3030"/>
<rect x="826.9" y="595.4" width="1.5" height="1.5" fill="#2e2626"/>
<rect x="821.0" y="587.2" width="1.5" height="1.5" fill="#3a3030"/>
<rect x="880.6" y="600.6" width="1.5" height="1.5" fill="#241c1c"/>
<rect x="820.5" y="560.1" width="1.5" height="1.5" fill="#2e2626"/>
<rect x="839.7" y="565.7" width="1.5" height="1.5" fill="#e6d2c4"/>
<rect x="906.8" y="592.3" width="1.5" height="1.5" fill="#e0b070"/>
<rect x="862.6" y="560.7" width="1.5" height="1.5" fill="#2e3a62"/>
<rect x="844.2" y="567.9" width="1.5" height="1.5" fill="#1a1414"/>
<rect x="885.6" y="591.1" width="1.5" height="1.5" fill="#241c1c"/>
<rect x="805.7" y="588.1" width="1.5" height="1.5" fill="#5a4a4a"/>
<rect x="811.6" y="558.5" width="1.5" height="1.5" fill="#3a3030"/>
<rect x="856.5" y="570.3" width="1.5" height="1.5" fill="#3a3030"/>
<rect x="838.8" y="587.5" width="1.5" height="1.5" fill="#f2f2f2"/>
<rect x="813.2" y="574.3" width="1.5" height="1.5" fill="#241c1c"/>
<rect x="847.6" y="571.1" width="1.5" height="1.5" fill="#caa088"/>
<rect x="908.6" y="587.9" width="1.5" height="1.5" fill="#e0b070"/>
<rect x="881.1" y="582.4" width="1.5" height="1.5" fill="#c06040"/>
<rect x="823.8" y="594.2" width="1.5" height="1.5" fill="#5a4a4a"/>
<rect x="888.0" y="562.6" width="1.5" height="1.5" fill="#c06040"/>
<rect x="805.9" y="578.3" width="1.5" height="1.5" fill="#3a3030"/>
<rect x="845.3" y="552.6" width="1.5" height="1.5" fill="#2e3a62"/>
<rect x="845.3" y="576.2" width="1.5" height="1.5" fill="#2e2626"/>
<rect x="847.6" y="582.3" width="1.5" height="1.5" fill="#e6d2c4"/>
<rect x="861.7" y="564.9" width="1.5" height="1.5" fill="#2e2626"/>
<rect x="840.0" y="558.0" width="1.5" height="1.5" fill="#3a3030"/>
<rect x="848.9" y="556.2" width="1.5" height="1.5" fill="#c06040"/>
<rect x="848.6" y="601.9" width="1.5" height="1.5" fill="#2e3a62"/>
<rect x="883.4" y="567.9" width="1.5" height="1.5" fill="#e6d2c4"/>
<rect x="862.9" y="565.4" width="1.5" height="1.5" fill="#3a3030"/>
<rect x="813.4" y="573.0" width="1.5" height="1.5" fill="#3a3030"/>
<rect x="903.0" y="577.5" width="1.5" height="1.5" fill="#2e2626"/>
<rect x="884.4" y="586.0" width="1.5" height="1.5" fill="#3a3030"/>
<rect x="872.3" y="593.3" width="1.5" height="1.5" fill="#2e3a62"/>
<rect x="878.8" y="578.6" width="1.5" height="1.5" fill="#1a1414"/>
<rect x="885.6" y="585.7" width="1.5" height="1.5" fill="#1a1414"/>
<rect x="882.3" y="558.2" width="1.5" height="1.5" fill="#1a1414"/>
<rect x="811.2" y="587.2" width="1.5" height="1.5" fill="#3a3030"/>
<rect x="806.4" y="580.6" width="1.5" height="1.5" fill="#1a1414"/>
<rect x="810.1" y="588.1" width="1.5" height="1.5" fill="#5a4a4a"/>
<rect x="900.7" y="572.3" width="1.5" height="1.5" fill="#1a1414"/>
<rect x="852.3" y="546.3" width="1.5" height="1.5" fill="#241c1c"/>
<rect x="868.5" y="562.6" width="1.5" height="1.5" fill="#caa088"/>
<rect x="831.6" y="551.2" width="1.5" height="1.5" fill="#5a4a4a"/>
<rect x="868.8" y="601.5" width="1.5" height="1.5" fill="#8a3030"/>
<rect x="823.3" y="582.6" width="1.5" height="1.5" fill="#5a4a4a"/>
<rect x="873.4" y="587.5" width="1.5" height="1.5" fill="#c06040"/>
<rect x="894.4" y="593.2" width="1.5" height="1.5" fill="#2e3a62"/>
<rect x="806.9" y="584.9" width="1.5" height="1.5" fill="#c06040"/>
<rect x="870.1" y="585.4" width="1.5" height="1.5" fill="#a07a5a"/>
<rect x="811.4" y="590.0" width="1.5" height="1.5" fill="#e0b070"/>
<rect x="870.0" y="565.0" width="1.5" height="1.5" fill="#f2f2f2"/>
<rect x="828.2" y="573.3" width="1.5" height="1.5" fill="#e6d2c4"/>
<rect x="826.6" y="598.9" width="1.5" height="1.5" fill="#5a4a4a"/>
<rect x="892.5" y="573.6" width="1.5" height="1.5" fill="#c06040"/>
<rect x="881.4" y="593.5" width="1.5" height="1.5" fill="#f2f2f2"/>
<rect x="911.8" y="588.8" width="1.5" height="1.5" fill="#241c1c"/>
<rect x="913.7" y="573.4" width="1.5" height="1.5" fill="#1a1414"/>
<rect x="807.1" y="575.5" width="1.5" height="1.5" fill="#5a4a4a"/>
<rect x="917.1" y="602.4" width="1.5" height="1.5" fill="#c06040"/>
<rect x="813.3" y="595.9" width="1.5" height="1.5" fill="#3a3030"/>
<rect x="815.6" y="593.2" width="1.5" height="1.5" fill="#a07a5a"/>
<rect x="914.6" y="580.5" width="1.5" height="1.5" fill="#c06040"/>
<rect x="867.3" y="598.8" width="1.5" height="1.5" fill="#3a3030"/>
<rect x="915.4" y="591.8" width="1.5" height="1.5" fill="#c06040"/>
<rect x="825.4" y="577.2" width="1.5" height="1.5" fill="#5a4a4a"/>
<rect x="917.2" y="584.4" width="1.5" height="1.5" fill="#2e2626"/>
<rect x="901.6" y="575.5" width="1.5" height="1.5" fill="#5a4a4a"/>
<rect x="849.2" y="573.2" width="1.5" height="1.5" fill="#241c1c"/>
<rect x="876.5" y="562.3" width="1.5" height="1.5" fill="#3a3030"/>
<rect x="857.0" y="549.3" width="1.5" height="1.5" fill="#e0b070"/>
<rect x="810.2" y="601.1" width="1.5" height="1.5" fill="#8a3030"/>
<rect x="871.4" y="561.2" width="1.5" height="1.5" fill="#1a1414"/>
<rect x="872.0" y="576.6" width="1.5" height="1.5" fill="#e0b070"/>
<rect x="858.7" y="558.0" width="1.5" height="1.5" fill="#caa088"/>
<rect x="894.7" y="578.1" width="1.5" height="1.5" fill="#caa088"/>
<rect x="815.5" y="585.4" width="1.5" height="1.5" fill="#c06040"/>
<rect x="869.4" y="583.3" width="1.5" height="1.5" fill="#caa088"/>
<rect x="861.5" y="580.1" width="1.5" height="1.5" fill="#caa088"/>
<rect x="881.1" y="596.2" width="1.5" height="1.5" fill="#e0b070"/>
<rect x="817.8" y="554.9" width="1.5" height="1.5" fill="#1a1414"/>
<rect x="846.0" y="592.5" width="1.5" height="1.5" fill="#c06040"/>
<rect x="825.2" y="562.2" width="1.5" height="1.5" fill="#8a3030"/>
<rect x="885.7" y="594.5" width="1.5" height="1.5" fill="#e6d2c4"/>
<rect x="819.1" y="583.6" width="1.5" height="1.5" fill="#2e3a62"/>
<rect x="807.0" y="568.9" width="1.5" height="1.5" fill="#1a1414"/>
<rect x="861.6" y="558.0" width="1.5" height="1.5" fill="#5a4a4a"/>
<rect x="857.2" y="557.7" width="1.5" height="1.5" fill="#e0b070"/>
<rect x="898.1" y="590.7" width="1.5" height="1.5" fill="#1a1414"/>
<rect x="867.9" y="572.2" width="1.5" height="1.5" fill="#e0b070"/>
<rect x="866.6" y="579.4" width="1.5" height="1.5" fill="#2e2626"/>
<rect x="848.9" y="587.1" width="1.5" height="1.5" fill="#2e3a62"/>
<rect x="857.7" y="602.6" width="1.5" height="1.5" fill="#caa088"/>
<rect x="854.6" y="564.1" width="1.5" height="1.5" fill="#f2f2f2"/>
<rect x="891.7" y="602.4" width="1.5" height="1.5" fill="#e6d2c4"/>
<rect x="808.8" y="551.0" width="1.5" height="1.5" fill="#caa088"/>
<rect x="844.7" y="600.9" width="1.5" height="1.5" fill="#caa088"/>
<rect x="823.9" y="575.0" width="1.5" height="1.5" fill="#5a4a4a"/>
<rect x="893.0" y="568.1" width="1.5" height="1.5" fill="#caa088"/>
<rect x="911.4" y="568.9" width="1.5" height="1.5" fill="#c06040"/>
<rect x="870.2" y="590.6" width="1.5" height="1.5" fill="#c06040"/>
<rect x="903.8" y="579.7" width="1.5" height="1.5" fill="#241c1c"/>
<rect x="875.4" y="564.8" width="1.5" height="1.5" fill="#caa088"/>
<rect x="817.0" y="547.1" width="1.5" height="1.5" fill="#8a3030"/>
<rect x="875.5" y="590.0" width="1.5" height="1.5" fill="#3a3030"/>
<rect x="917.5" y="598.5" width="1.5" height="1.5" fill="#8a3030"/>
<rect x="851.1" y="588.0" width="1.5" height="1.5" fill="#8a3030"/>
<rect x="846.6" y="578.9" width="1.5" height="1.5" fill="#1a1414"/>
<rect x="866.5" y="591.0" width="1.5" height="1.5" fill="#caa088"/>
<rect x="812.4" y="582.9" width="1.5" height="1.5" fill="#2e3a62"/>
<rect x="844.1" y="574.8" width="1.5" height="1.5" fill="#8a3030"/>
<rect x="859.6" y="559.9" width="1.5" height="1.5" fill="#5a4a4a"/>
<rect x="846.8" y="592.8" width="1.5" height="1.5" fill="#caa088"/>
<rect x="810.7" y="561.8" width="1.5" height="1.5" fill="#e0b070"/>
<rect x="857.7" y="565.3" width="1.5" height="1.5" fill="#2e2626"/>
<rect x="871.3" y="573.7" width="1.5" height="1.5" fill="#f2f2f2"/>
<rect x="893.4" y="602.9" width="1.5" height="1.5" fill="#2e3a62"/>
<rect x="806.8" y="572.2" width="1.5" height="1.5" fill="#2e2626"/>
<rect x="858.1" y="560.5" width="1.5" height="1.5" fill="#e0b070"/>
<rect x="828.9" y="568.3" width="1.5" height="1.5" fill="#2e2626"/>
<rect x="827.0" y="567.5" width="1.5" height="1.5" fill="#caa088"/>
<rect x="859.9" y="565.7" width="1.5" height="1.5" fill="#caa088"/>
<rect x="911.7" y="585.7" width="1.5" height="1.5" fill="#caa088"/>
<rect x="873.0" y="596.9" width="1.5" height="1.5" fill="#241c1c"/>
<rect x="855.3" y="546.5" width="1.5" height="1.5" fill="#1a1414"/>
<rect x="874.1" y="586.5" width="1.5" height="1.5" fill="#3a3030"/>
<rect x="853.6" y="562.7" width="1.5" height="1.5" fill="#5a4a4a"/>
<rect x="856.6" y="594.0" width="1.5" height="1.5" fill="#2e2626"/>
<rect x="871.2" y="566.2" width="1.5" height="1.5" fill="#5a4a4a"/>
<rect x="850.5" y="570.7" width="1.5" height="1.5" fill="#c06040"/>
<rect x="842.9" y="560.7" width="1.5" height="1.5" fill="#e6d2c4"/>
<rect x="817.9" y="572.2" width="1.5" height="1.5" fill="#c06040"/>
<rect x="900.4" y="579.1" width="1.5" height="1.5" fill="#e6d2c4"/>
<rect x="819.7" y="597.3" width="1.5" height="1.5" fill="#1a1414"/>
<rect x="896.5" y="592.9" width="1.5" height="1.5" fill="#1a1414"/>
<rect x="838.5" y="582.8" width="1.5" height="1.5" fill="#5a4a4a"/>
<rect x="861.9" y="596.5" width="1.5" height="1.5" fill="#c06040"/>
<rect x="851.9" y="599.0" width="1.5" height="1.5" fill="#caa088"/>
<rect x="866.1" y="577.8" width="1.5" height="1.5" fill="#3a3030"/>
<rect x="831.5" y="580.2" width="1.5" height="1.5" fill="#a07a5a"/>
<rect x="814.1" y="587.4" width="1.5" height="1.5" fill="#f2f2f2"/>
<rect x="816.9" y="589.8" width="1.5" height="1.5" fill="#5a4a4a"/>
<rect x="896.7" y="597.5" width="1.5" height="1.5" fill="#3a3030"/>
<rect x="835.8" y="582.1" width="1.5" height="1.5" fill="#e0b070"/>
<rect x="863.1" y="585.4" width="1.5" height="1.5" fill="#2e3a62"/>
<rect x="850.7" y="584.9" width="1.5" height="1.5" fill="#1a1414"/>
<rect x="815.0" y="558.3" width="1.5" height="1.5" fill="#caa088"/>
<rect x="893.6" y="580.8" width="1.5" height="1.5" fill="#c06040"/>
<rect x="824.0" y="601.6" width="1.5" height="1.5" fill="#2e2626"/>
<rect x="821.4" y="585.1" width="1.5" height="1.5" fill="#5a4a4a"/>
<rect x="845.1" y="551.3" width="1.5" height="1.5" fill="#a07a5a"/>
<rect x="827.8" y="553.4" width="1.5" height="1.5" fill="#241c1c"/>
<rect x="838.3" y="569.7" width="1.5" height="1.5" fill="#2e3a62"/>
<rect x="885.2" y="573.6" width="1.5" height="1.5" fill="#3a3030"/>
<rect x="827.9" y="551.9" width="1.5" height="1.5" fill="#2e2626"/>
<rect x="854.0" y="571.3" width="1.5" height="1.5" fill="#caa088"/>
<rect x="894.2" y="595.5" width="1.5" height="1.5" fill="#5a4a4a"/>
<rect x="909.3" y="582.4" width="1.5" height="1.5" fill="#c06040"/>
<rect x="809.0" y="583.9" width="1.5" height="1.5" fill="#3a3030"/>
<rect x="904.9" y="598.0" width="1.5" height="1.5" fill="#2e2626"/>
<rect x="822.1" y="553.0" width="1.5" height="1.5" fill="#f2f2f2"/>
<rect x="833.1" y="562.5" width="1.5" height="1.5" fill="#caa088"/>
<rect x="827.9" y="548.0" width="1.5" height="1.5" fill="#241c1c"/>
<rect x="842.0" y="581.4" width="1.5" height="1.5" fill="#e6d2c4"/>
<rect x="860.2" y="571.6" width="1.5" height="1.5" fill="#2e2626"/>
<rect x="868.2" y="559.8" width="1.5" height="1.5" fill="#caa088"/>
<rect x="815.7" y="574.3" width="1.5" height="1.5" fill="#2e2626"/>
<rect x="885.8" y="564.9" width="1.5" height="1.5" fill="#1a1414"/>
<rect x="852.0" y="592.1" width="1.5" height="1.5" fill="#2e2626"/>
<rect x="876.2" y="558.2" width="1.5" height="1.5" fill="#3a3030"/>
<rect x="849.7" y="590.5" width="1.5" height="1.5" fill="#e0b070"/>
<rect x="826.3" y="584.5" width="1.5" height="1.5" fill="#3a3030"/>
<rect x="857.3" y="602.8" width="1.5" height="1.5" fill="#f2f2f2"/>
<rect x="870.6" y="582.1" width="1.5" height="1.5" fill="#1a1414"/>
<rect x="847.3" y="601.3" width="1.5" height="1.5" fill="#f2f2f2"/>
<rect x="815.5" y="585.2" width="1.5" height="1.5" fill="#2e3a62"/>
<rect x="868.9" y="575.7" width="1.5" height="1.5" fill="#8a3030"/>
<rect x="820.5" y="569.8" width="1.5" height="1.5" fill="#2e3a62"/>
<rect x="811.2" y="587.4" width="1.5" height="1.5" fill="#c06040"/>
<rect x="876.9" y="582.3" width="1.5" height="1.5" fill="#3a3030"/>
<rect x="822.8" y="596.8" width="1.5" height="1.5" fill="#2e3a62"/>
<rect x="864.3" y="562.9" width="1.5" height="1.5" fill="#5a4a4a"/>
<rect x="830.0" y="592.1" width="1.5" height="1.5" fill="#5a4a4a"/>
<rect x="821.1" y="558.0" width="1.5" height="1.5" fill="#241c1c"/>
<rect x="868.5" y="597.6" width="1.5" height="1.5" fill="#e0b070"/>
<rect x="892.4" y="593.1" width="1.5" height="1.5" fill="#8a3030"/>
<rect x="838.0" y="557.4" width="1.5" height="1.5" fill="#e6d2c4"/>
<rect x="812.8" y="550.8" width="1.5" height="1.5" fill="#1a1414"/>
<rect x="817.4" y="595.1" width="1.5" height="1.5" fill="#5a4a4a"/>
<rect x="848.2" y="573.5" width="1.5" height="1.5" fill="#8a3030"/>
<rect x="874.4" y="571.9" width="1.5" height="1.5" fill="#8a3030"/>
<rect x="856.2" y="587.2" width="1.5" height="1.5" fill="#2e2626"/>
<rect x="900.3" y="598.8" width="1.5" height="1.5" fill="#caa088"/>
<rect x="806.2" y="584.1" width="1.5" height="1.5" fill="#f2f2f2"/>
<rect x="880.3" y="557.7" width="1.5" height="1.5" fill="#e6d2c4"/>
<rect x="858.0" y="601.9" width="1.5" height="1.5" fill="#2e3a62"/>
<rect x="874.6" y="589.0" width="1.5" height="1.5" fill="#caa088"/>
<rect x="896.8" y="571.2" width="1.5" height="1.5" fill="#caa088"/>
<rect x="877.9" y="588.0" width="1.5" height="1.5" fill="#e6d2c4"/>
<rect x="905.7" y="589.4" width="1.5" height="1.5" fill="#a07a5a"/>
<rect x="891.3" y="567.3" width="1.5" height="1.5" fill="#2e2626"/>
<rect x="899.1" y="591.5" width="1.5" height="1.5" fill="#c06040"/>
<rect x="881.6" y="591.0" width="1.5" height="1.5" fill="#a07a5a"/>
<rect x="867.9" y="576.8" width="1.5" height="1.5" fill="#e0b070"/>
<rect x="847.5" y="591.5" width="1.5" height="1.5" fill="#caa088"/>
<rect x="820.3" y="552.3" width="1.5" height="1.5" fill="#a07a5a"/>
<rect x="854.6" y="562.0" width="1.5" height="1.5" fill="#2e3a62"/>
<rect x="840.5" y="596.6" width="1.5" height="1.5" fill="#c06040"/>
<rect x="909.1" y="593.4" width="1.5" height="1.5" fill="#3a3030"/>
<rect x="834.5" y="586.6" width="1.5" height="1.5" fill="#241c1c"/>
<rect x="845.8" y="553.8" width="1.5" height="1.5" fill="#f2f2f2"/>
<rect x="841.6" y="559.6" width="1.5" height="1.5" fill="#caa088"/>
<rect x="846.5" y="583.2" width="1.5" height="1.5" fill="#a07a5a"/>
<rect x="871.3" y="568.1" width="1.5" height="1.5" fill="#2e2626"/>
<rect x="852.8" y="553.1" width="1.5" height="1.5" fill="#5a4a4a"/>
<rect x="824.7" y="547.7" width="1.5" height="1.5" fill="#c06040"/>
<rect x="906.7" y="569.8" width="1.5" height="1.5" fill="#241c1c"/>
<rect x="909.3" y="595.5" width="1.5" height="1.5" fill="#3a3030"/>
<rect x="849.0" y="580.5" width="1.5" height="1.5" fill="#2e3a62"/>
<rect x="905.6" y="602.6" width="1.5" height="1.5" fill="#caa088"/>
<rect x="897.3" y="594.1" width="1.5" height="1.5" fill="#e6d2c4"/>
<rect x="845.5" y="590.6" width="1.5" height="1.5" fill="#caa088"/>
<rect x="865.5" y="595.4" width="1.5" height="1.5" fill="#f2f2f2"/>
<rect x="884.5" y="560.3" width="1.5" height="1.5" fill="#e6d2c4"/>
<rect x="894.6" y="598.7" width="1.5" height="1.5" fill="#2e3a62"/>
<rect x="878.6" y="589.1" width="1.5" height="1.5" fill="#1a1414"/>
<rect x="862.0" y="558.0" width="1.5" height="1.5" fill="#241c1c"/>
<rect x="895.0" y="590.7" width="1.5" height="1.5" fill="#3a3030"/>
<rect x="903.8" y="578.3" width="1.5" height="1.5" fill="#1a1414"/>
<rect x="885.0" y="577.5" width="1.5" height="1.5" fill="#caa088"/>
<rect x="826.1" y="585.5" width="1.5" height="1.5" fill="#1a1414"/>
<rect x="805.7" y="567.8" width="1.5" height="1.5" fill="#1a1414"/>
<rect x="875.1" y="588.6" width="1.5" height="1.5" fill="#a07a5a"/>
<rect x="891.1" y="596.6" width="1.5" height="1.5" fill="#2e3a62"/>
<rect x="809.9" y="558.0" width="1.5" height="1.5" fill="#241c1c"/>
<rect x="847.6" y="588.6" width="1.5" height="1.5" fill="#2e2626"/>
<rect x="838.8" y="594.6" width="1.5" height="1.5" fill="#e0b070"/>
<rect x="889.0" y="587.4" width="1.5" height="1.5" fill="#2e3a62"/>
<rect x="823.1" y="548.9" width="1.5" height="1.5" fill="#2e3a62"/>
<rect x="865.4" y="562.3" width="1.5" height="1.5" fill="#c06040"/>
<rect x="849.6" y="575.8" width="1.5" height="1.5" fill="#e6d2c4"/>
<rect x="860.4" y="598.5" width="1.5" height="1.5" fill="#3a3030"/>
<rect x="849.2" y="557.3" width="1.5" height="1.5" fill="#8a3030"/>
<rect x="886.6" y="600.9" width="1.5" height="1.5" fill="#f2f2f2"/>
<rect x="909.2" y="577.9" width="1.5" height="1.5" fill="#e6d2c4"/>
<rect x="888.3" y="598.9" width="1.5" height="1.5" fill="#c06040"/>
<rect x="821.9" y="577.0" width="1.5" height="1.5" fill="#e6d2c4"/>
<rect x="855.2" y="582.5" width="1.5" height="1.5" fill="#2e3a62"/>
<rect x="844.0" y="586.9" width="1.5" height="1.5" fill="#1a1414"/>
<rect x="867.3" y="596.3" width="1.5" height="1.5" fill="#1a1414"/>
<rect x="819.8" y="584.3" width="1.5" height="1.5" fill="#e0b070"/>
<rect x="819.4" y="577.4" width="1.5" height="1.5" fill="#2e3a62"/>
<rect x="884.9" y="599.6" width="1.5" height="1.5" fill="#2e3a62"/>
<rect x="874.9" y="558.6" width="1.5" height="1.5" fill="#2e3a62"/>
<rect x="826.7" y="552.7" width="1.5" height="1.5" fill="#8a3030"/>
<rect x="885.3" y="566.7" width="1.5" height="1.5" fill="#3a3030"/>
<rect x="880.9" y="576.5" width="1.5" height="1.5" fill="#caa088"/>
<rect x="817.5" y="553.8" width="1.5" height="1.5" fill="#8a3030"/>
<rect x="843.4" y="590.5" width="1.5" height="1.5" fill="#f2f2f2"/>
<rect x="816.8" y="558.2" width="1.5" height="1.5" fill="#e0b070"/>
<rect x="909.7" y="574.2" width="1.5" height="1.5" fill="#2e3a62"/>
<rect x="850.9" y="591.9" width="1.5" height="1.5" fill="#8a3030"/>
<rect x="907.7" y="596.8" width="1.5" height="1.5" fill="#c06040"/>
<rect x="908.7" y="577.3" width="1.5" height="1.5" fill="#e0b070"/>
<rect x="811.9" y="561.1" width="1.5" height="1.5" fill="#e6d2c4"/>
<rect x="911.4" y="571.6" width="1.5" height="1.5" fill="#f2f2f2"/>
<rect x="855.1" y="598.3" width="1.5" height="1.5" fill="#5a4a4a"/>
<rect x="871.4" y="587.5" width="1.5" height="1.5" fill="#a07a5a"/>
<rect x="843.2" y="556.7" width="1.5" height="1.5" fill="#caa088"/>
<rect x="877.4" y="571.7" width="1.5" height="1.5" fill="#2e3a62"/>
<rect x="847.4" y="589.1" width="1.5" height="1.5" fill="#5a4a4a"/>
<rect x="854.5" y="595.0" width="1.5" height="1.5" fill="#e0b070"/>
<rect x="844.4" y="567.6" width="1.5" height="1.5" fill="#241c1c"/>
<rect x="876.9" y="593.7" width="1.5" height="1.5" fill="#a07a5a"/>
<rect x="845.6" y="572.9" width="1.5" height="1.5" fill="#f2f2f2"/>
<rect x="893.8" y="569.4" width="1.5" height="1.5" fill="#241c1c"/>
<rect x="818.1" y="576.7" width="1.5" height="1.5" fill="#e6d2c4"/>
<rect x="870.6" y="597.7" width="1.5" height="1.5" fill="#1a1414"/>
<rect x="849.1" y="581.9" width="1.5" height="1.5" fill="#8a3030"/>
<rect x="882.3" y="590.9" width="1.5" height="1.5" fill="#caa088"/>
<rect x="829.4" y="589.8" width="1.5" height="1.5" fill="#2e3a62"/>
<rect x="824.0" y="552.7" width="1.5" height="1.5" fill="#241c1c"/>
<rect x="907.5" y="596.7" width="1.5" height="1.5" fill="#8a3030"/>
<rect x="859.1" y="587.6" width="1.5" height="1.5" fill="#e6d2c4"/>
<rect x="914.5" y="599.7" width="1.5" height="1.5" fill="#e6d2c4"/>
<rect x="809.9" y="575.4" width="1.5" height="1.5" fill="#1a1414"/>
<rect x="810.0" y="559.6" width="1.5" height="1.5" fill="#2e2626"/>
<rect x="837.8" y="566.6" width="1.5" height="1.5" fill="#e0b070"/>
<rect x="914.4" y="578.4" width="1.5" height="1.5" fill="#1a1414"/>
<rect x="841.3" y="576.8" width="1.5" height="1.5" fill="#2e3a62"/>
<rect x="854.8" y="592.2" width="1.5" height="1.5" fill="#3a3030"/>
<rect x="884.1" y="571.9" width="1.5" height="1.5" fill="#caa088"/>
<rect x="861.1" y="570.0" width="1.5" height="1.5" fill="#a07a5a"/>
<rect x="888.4" y="584.4" width="1.5" height="1.5" fill="#a07a5a"/>
<rect x="813.7" y="590.1" width="1.5" height="1.5" fill="#caa088"/>
<rect x="815.7" y="599.2" width="1.5" height="1.5" fill="#241c1c"/>
<rect x="902.9" y="582.0" width="1.5" height="1.5" fill="#5a4a4a"/>
<rect x="845.6" y="557.5" width="1.5" height="1.5" fill="#5a4a4a"/>
<rect x="822.9" y="595.1" width="1.5" height="1.5" fill="#e6d2c4"/>
<rect x="852.3" y="550.6" width="1.5" height="1.5" fill="#1a1414"/>
<rect x="818.8" y="549.2" width="1.5" height="1.5" fill="#8a3030"/>
<rect x="913.8" y="597.5" width="1.5" height="1.5" fill="#c06040"/>
<rect x="910.9" y="602.0" width="1.5" height="1.5" fill="#e6d2c4"/>
<rect x="832.4" y="555.4" width="1.5" height="1.5" fill="#5a4a4a"/>
<rect x="841.8" y="601.7" width="1.5" height="1.5" fill="#a07a5a"/>
<rect x="817.6" y="593.4" width="1.5" height="1.5" fill="#2e3a62"/>
<rect x="831.0" y="594.2" width="1.5" height="1.5" fill="#241c1c"/>
<rect x="894.5" y="581.3" width="1.5" height="1.5" fill="#3a3030"/>
<rect x="873.5" y="590.7" width="1.5" height="1.5" fill="#5a4a4a"/>
<rect x="859.6" y="602.5" width="1.5" height="1.5" fill="#5a4a4a"/>
<rect x="835.7" y="579.5" width="1.5" height="1.5" fill="#8a3030"/>
<rect x="895.8" y="575.3" width="1.5" height="1.5" fill="#8a3030"/>
<rect x="902.2" y="585.9" width="1.5" height="1.5" fill="#c06040"/>
<rect x="836.1" y="577.7" width="1.5" height="1.5" fill="#3a3030"/>
<rect x="851.8" y="578.4" width="1.5" height="1.5" fill="#8a3030"/>
<rect x="890.8" y="595.7" width="1.5" height="1.5" fill="#c06040"/>
<rect x="903.4" y="571.8" width="1.5" height="1.5" fill="#1a1414"/>
<rect x="850.9" y="576.6" width="1.5" height="1.5" fill="#c06040"/>
<rect x="906.6" y="587.7" width="1.5" height="1.5" fill="#1a1414"/>
<rect x="865.4" y="564.1" width="1.5" height="1.5" fill="#f2f2f2"/>
<rect x="838.8" y="591.7" width="1.5" height="1.5" fill="#8a3030"/>
<rect x="905.5" y="572.7" width="1.5" height="1.5" fill="#a07a5a"/>
<rect x="898.5" y="602.3" width="1.5" height="1.5" fill="#2e2626"/>
<rect x="825.0" y="599.4" width="1.5" height="1.5" fill="#caa088"/>
<rect x="885.7" y="587.5" width="1.5" height="1.5" fill="#2e2626"/>
<rect x="811.1" y="590.9" width="1.5" height="1.5" fill="#a07a5a"/>
<rect x="879.1" y="563.8" width="1.5" height="1.5" fill="#caa088"/>
<rect x="902.4" y="581.8" width="1.5" height="1.5" fill="#241c1c"/>
<rect x="900.2" y="597.2" width="1.5" height="1.5" fill="#f2f2f2"/>
<rect x="913.3" y="590.1" width="1.5" height="1.5" fill="#3a3030"/>
<rect x="898.8" y="600.8" width="1.5" height="1.5" fill="#2e2626"/>
<rect x="850.7" y="575.3" width="1.5" height="1.5" fill="#5a4a4a"/>
<rect x="827.9" y="574.9" width="1.5" height="1.5" fill="#5a4a4a"/>
<rect x="840.2" y="587.6" width="1.5" height="1.5" fill="#f2f2f2"/>
<rect x="824.1" y="549.4" width="1.5" height="1.5" fill="#e0b070"/>
<rect x="845.2" y="564.0" width="1.5" height="1.5" fill="#caa088"/>
<rect x="851.3" y="578.7" width="1.5" height="1.5" fill="#8a3030"/>
<rect x="876.6" y="564.4" width="1.5" height="1.5" fill="#241c1c"/>
<rect x="869.5" y="557.9" width="1.5" height="1.5" fill="#e6d2c4"/>
<rect x="827.3" y="588.7" width="1.5" height="1.5" fill="#c06040"/>
<rect x="894.1" y="601.7" width="1.5" height="1.5" fill="#f2f2f2"/>
<rect x="888.4" y="597.0" width="1.5" height="1.5" fill="#e0b070"/>
<rect x="851.9" y="591.6" width="1.5" height="1.5" fill="#c06040"/>
<rect x="818.5" y="562.4" width="1.5" height="1.5" fill="#2e2626"/>
<rect x="836.1" y="587.7" width="1.5" height="1.5" fill="#3a3030"/>
<rect x="864.5" y="589.1" width="1.5" height="1.5" fill="#1a1414"/>
<rect x="893.7" y="570.3" width="1.5" height="1.5" fill="#5a4a4a"/>
<rect x="833.7" y="582.5" width="1.5" height="1.5" fill="#caa088"/>
<rect x="856.5" y="594.3" width="1.5" height="1.5" fill="#f2f2f2"/>
<rect x="851.7" y="587.5" width="1.5" height="1.5" fill="#e0b070"/>
<rect x="917.1" y="588.7" width="1.5" height="1.5" fill="#241c1c"/>
<rect x="887.5" y="568.3" width="1.5" height="1.5" fill="#5a4a4a"/>
<rect x="854.4" y="559.1" width="1.5" height="1.5" fill="#2e2626"/>
<rect x="815.2" y="568.6" width="1.5" height="1.5" fill="#a07a5a"/>
<rect x="811.2" y="546.8" width="1.5" height="1.5" fill="#e0b070"/>
<rect x="884.3" y="559.4" width="1.5" height="1.5" fill="#1a1414"/>
<rect x="810.9" y="564.7" width="1.5" height="1.5" fill="#8a3030"/>
<rect x="827.9" y="550.0" width="1.5" height="1.5" fill="#3a3030"/>
<rect x="820.7" y="574.5" width="1.5" height="1.5" fill="#241c1c"/>
<rect x="847.9" y="579.3" width="1.5" height="1.5" fill="#f2f2f2"/>
<rect x="812.7" y="584.7" width="1.5" height="1.5" fill="#f2f2f2"/>
<rect x="913.7" y="599.9" width="1.5" height="1.5" fill="#2e2626"/>
<rect x="833.5" y="598.1" width="1.5" height="1.5" fill="#8a3030"/>
<rect x="883.0" y="569.9" width="1.5" height="1.5" fill="#8a3030"/>
<rect x="885.4" y="562.6" width="1.5" height="1.5" fill="#2e2626"/>
<rect x="895.5" y="577.4" width="1.5" height="1.5" fill="#5a4a4a"/>
<rect x="914.1" y="595.8" width="1.5" height="1.5" fill="#2e3a62"/>
<rect x="832.6" y="569.3" width="1.5" height="1.5" fill="#2e3a62"/>
<rect x="857.1" y="577.0" width="1.5" height="1.5" fill="#8a3030"/>
<rect x="916.8" y="582.4" width="1.5" height="1.5" fill="#e6d2c4"/>
<rect x="890.9" y="590.9" width="1.5" height="1.5" fill="#f2f2f2"/>
<rect x="900.9" y="588.6" width="1.5" height="1.5" fill="#2e3a62"/>
<rect x="862.0" y="571.9" width="1.5" height="1.5" fill="#e0b070"/>
<rect x="869.3" y="577.1" width="1.5" height="1.5" fill="#3a3030"/>
<rect x="828.1" y="575.1" width="1.5" height="1.5" fill="#1a1414"/>
<rect x="904.1" y="593.4" width="1.5" height="1.5" fill="#5a4a4a"/>
<rect x="857.7" y="598.1" width="1.5" height="1.5" fill="#f2f2f2"/>
<rect x="852.1" y="556.0" width="1.5" height="1.5" fill="#e6d2c4"/>
<rect x="851.5" y="566.2" width="1.5" height="1.5" fill="#e0b070"/>
<rect x="858.1" y="572.2" width="1.5" height="1.5" fill="#5a4a4a"/>
<rect x="864.0" y="576.2" width="1.5" height="1.5" fill="#c06040"/>
<rect x="853.8" y="568.9" width="1.5" height="1.5" fill="#c06040"/>
<rect x="808.2" y="584.2" width="1.5" height="1.5" fill="#2e3a62"/>
<rect x="846.4" y="590.8" width="1.5" height="1.5" fill="#a07a5a"/>
<rect x="908.9" y="602.7" width="1.5" height="1.5" fill="#2e3a62"/>
<rect x="910.4" y="571.0" width="1.5" height="1.5" fill="#2e3a62"/>
<rect x="885.1" y="587.7" width="1.5" height="1.5" fill="#e6d2c4"/>
<rect x="913.8" y="577.1" width="1.5" height="1.5" fill="#5a4a4a"/>
<rect x="806.1" y="597.7" width="1.5" height="1.5" fill="#e0b070"/>
<rect x="868.6" y="562.0" width="1.5" height="1.5" fill="#f2f2f2"/>
<rect x="842.0" y="592.3" width="1.5" height="1.5" fill="#caa088"/>
<rect x="834.7" y="546.7" width="1.5" height="1.5" fill="#1a1414"/>
<rect x="876.5" y="591.9" width="1.5" height="1.5" fill="#2e3a62"/>
<rect x="885.2" y="564.3" width="1.5" height="1.5" fill="#e0b070"/>
<rect x="817.9" y="571.7" width="1.5" height="1.5" fill="#5a4a4a"/>
<rect x="873.4" y="595.1" width="1.5" height="1.5" fill="#f2f2f2"/>
<rect x="832.7" y="577.7" width="1.5" height="1.5" fill="#2e3a62"/>
<rect x="901.6" y="583.6" width="1.5" height="1.5" fill="#2e3a62"/>
<rect x="890.8" y="598.8" width="1.5" height="1.5" fill="#caa088"/>
<rect x="846.9" y="583.7" width="1.5" height="1.5" fill="#2e3a62"/>
<rect x="891.4" y="577.1" width="1.5" height="1.5" fill="#3a3030"/>
<rect x="829.2" y="549.0" width="1.5" height="1.5" fill="#f2f2f2"/>

<rect x="805.6" y="487.2" width="19.2" height="79.6" fill="#3a5590"/>
<rect x="809" y="487.2" width="6" height="79.6" fill="#4a66a4" opacity="0.7"/>
</g>
<rect x="806.1" y="487.7" width="111.69999999999993" height="114.80000000000001" fill="none" stroke="#1a1a1a" stroke-width="1.5" stroke-dasharray="8 3"/>
<!-- card5 table -->
<rect x="965.2" y="491.2" width="113.59999999999991" height="114.50000000000006" fill="#c9eff2"/>
<rect x="974.3" y="491.2" width="14.5" height="4.2" fill="#f8c6a0"/>
<rect x="1004.7" y="491.2" width="17.5" height="4.2" fill="#f8c6a0"/>
<rect x="1066.5" y="491.2" width="12.3" height="4.2" fill="#f8c6a0"/>
<rect x="974.3" y="495.4" width="14.5" height="4.2" fill="#f8c6a0"/>
<rect x="1004.7" y="495.4" width="17.5" height="4.2" fill="#f8c6a0"/>
<rect x="1066.5" y="495.4" width="12.3" height="4.2" fill="#f8c6a0"/>
<rect x="1031.2" y="495.4" width="17.2" height="4.2" fill="#8cc51e"/>
<rect x="1004.7" y="499.5" width="8.5" height="4.0" fill="#fdfca0"/>
<rect x="1004.7" y="503.5" width="8.5" height="4.0" fill="#fdfca0"/>
<rect x="988.7" y="507.5" width="8.1" height="4.2" fill="#f8c6a0"/>
<rect x="1013.2" y="507.5" width="9.0" height="4.2" fill="#f8c6a0"/>
<rect x="1039.4" y="507.5" width="39.4" height="4.2" fill="#f8c6a0"/>
<rect x="988.7" y="511.6" width="8.1" height="4.2" fill="#f8c6a0"/>
<rect x="1013.2" y="511.6" width="9.0" height="4.2" fill="#f8c6a0"/>
<rect x="1039.4" y="511.6" width="39.4" height="4.2" fill="#f8c6a0"/>
<rect x="974.3" y="511.6" width="7.2" height="4.2" fill="#f8c6a0"/>
<rect x="988.7" y="515.8" width="8.1" height="4.0" fill="#fdfca0"/>
<rect x="1048.4" y="515.8" width="9.0" height="4.0" fill="#fdfca0"/>
<rect x="988.7" y="519.8" width="8.1" height="4.2" fill="#fdfca0"/>
<rect x="1013.2" y="519.8" width="9.0" height="4.2" fill="#fdfca0"/>
<rect x="1048.4" y="519.8" width="9.0" height="4.2" fill="#fdfca0"/>
<rect x="1066.5" y="515.8" width="12.3" height="4.0" fill="#f8c6a0"/>
<rect x="988.7" y="523.9" width="8.1" height="4.0" fill="#f8c6a0"/>
<rect x="996.9" y="523.9" width="7.8" height="4.0" fill="#8cc51e"/>
<rect x="1013.2" y="523.9" width="9.0" height="4.0" fill="#f8c6a0"/>
<rect x="1048.4" y="523.9" width="9.0" height="4.0" fill="#f8c6a0"/>
<rect x="988.7" y="527.9" width="8.1" height="4.5" fill="#f8c6a0"/>
<rect x="996.9" y="527.9" width="7.8" height="4.5" fill="#8cc51e"/>
<rect x="1013.2" y="527.9" width="9.0" height="4.5" fill="#f8c6a0"/>
<rect x="1048.4" y="527.9" width="9.0" height="4.5" fill="#f8c6a0"/>
<rect x="988.7" y="532.4" width="8.1" height="4.0" fill="#f8c6a0"/>
<rect x="996.9" y="532.4" width="7.8" height="4.0" fill="#8cc51e"/>
<rect x="1013.2" y="532.4" width="9.0" height="4.0" fill="#f8c6a0"/>
<rect x="1048.4" y="532.4" width="9.0" height="4.0" fill="#f8c6a0"/>
<rect x="988.7" y="536.4" width="8.1" height="4.2" fill="#f8c6a0"/>
<rect x="996.9" y="536.4" width="7.8" height="4.2" fill="#8cc51e"/>
<rect x="1013.2" y="536.4" width="9.0" height="4.2" fill="#f8c6a0"/>
<rect x="1048.4" y="536.4" width="9.0" height="4.2" fill="#f8c6a0"/>
<rect x="988.7" y="544.6" width="8.1" height="4.2" fill="#f8c6a0"/>
<rect x="996.9" y="544.6" width="7.8" height="4.2" fill="#8cc51e"/>
<rect x="1013.2" y="544.6" width="9.0" height="4.2" fill="#f8c6a0"/>
<rect x="1048.4" y="544.6" width="9.0" height="4.2" fill="#f8c6a0"/>
<rect x="988.7" y="548.7" width="8.1" height="4.2" fill="#f8c6a0"/>
<rect x="996.9" y="548.7" width="7.8" height="4.2" fill="#8cc51e"/>
<rect x="1013.2" y="548.7" width="9.0" height="4.2" fill="#f8c6a0"/>
<rect x="1048.4" y="548.7" width="9.0" height="4.2" fill="#f8c6a0"/>
<rect x="988.7" y="552.9" width="8.1" height="4.0" fill="#f8c6a0"/>
<rect x="996.9" y="552.9" width="7.8" height="4.0" fill="#8cc51e"/>
<rect x="1013.2" y="552.9" width="9.0" height="4.0" fill="#f8c6a0"/>
<rect x="1048.4" y="552.9" width="9.0" height="4.0" fill="#f8c6a0"/>
<rect x="988.7" y="556.9" width="8.1" height="4.2" fill="#f8c6a0"/>
<rect x="996.9" y="556.9" width="7.8" height="4.2" fill="#8cc51e"/>
<rect x="1013.2" y="556.9" width="9.0" height="4.2" fill="#f8c6a0"/>
<rect x="1048.4" y="556.9" width="9.0" height="4.2" fill="#f8c6a0"/>
<rect x="988.7" y="569.0" width="15.9" height="4.2" fill="#8cc51e"/>
<rect x="1022.2" y="569.0" width="9.0" height="4.2" fill="#8cc51e"/>
<rect x="1039.4" y="569.0" width="18.1" height="4.2" fill="#8cc51e"/>
<rect x="988.7" y="573.1" width="90.1" height="4.2" fill="#8cc51e"/>
<rect x="996.9" y="577.3" width="7.8" height="4.0" fill="#fdfca0"/>
<rect x="1022.2" y="577.3" width="9.0" height="4.0" fill="#f8c6a0"/>
<rect x="1057.5" y="577.3" width="9.0" height="4.0" fill="#f8c6a0"/>
<rect x="988.7" y="581.3" width="90.1" height="4.2" fill="#8cc51e"/>
<rect x="996.9" y="585.4" width="7.8" height="4.0" fill="#fdfca0"/>
<rect x="1022.2" y="585.4" width="9.0" height="4.0" fill="#f8c6a0"/>
<rect x="1057.5" y="585.4" width="9.0" height="4.0" fill="#f8c6a0"/>
<rect x="1039.4" y="589.4" width="9.0" height="4.2" fill="#f8c6a0"/>
<rect x="974.3" y="593.6" width="7.2" height="4.0" fill="#f8c6a0"/>
<rect x="1039.4" y="593.6" width="9.0" height="4.0" fill="#f8c6a0"/>
<rect x="1013.2" y="589.4" width="9.0" height="4.2" fill="#f8c6a0"/>
<rect x="1013.2" y="593.6" width="9.0" height="4.0" fill="#f8c6a0"/>
<rect x="1004.7" y="597.5" width="26.6" height="4.0" fill="#8cc51e"/>
<rect x="1057.5" y="597.5" width="21.3" height="4.0" fill="#8cc51e"/>
<rect x="988.7" y="601.5" width="90.1" height="4.2" fill="#f8c6a0"/>
<path d="M965.2 495.4H1078.8M965.2 499.5H1078.8M965.2 503.5H1078.8M965.2 507.5H1078.8M965.2 511.6H1078.8M965.2 515.8H1078.8M965.2 519.8H1078.8M965.2 523.9H1078.8M965.2 527.9H1078.8M965.2 532.4H1078.8M965.2 536.4H1078.8M965.2 540.6H1078.8M965.2 544.6H1078.8M965.2 548.7H1078.8M965.2 552.9H1078.8M965.2 556.9H1078.8M965.2 561.0H1078.8M965.2 565.0H1078.8M965.2 569.0H1078.8M965.2 573.1H1078.8M965.2 577.3H1078.8M965.2 581.3H1078.8M965.2 585.4H1078.8M965.2 589.4H1078.8M965.2 593.6H1078.8M965.2 597.5H1078.8M965.2 601.5H1078.8M974.3 491.2V605.7M981.5 491.2V605.7M988.7 491.2V605.7M996.9 491.2V605.7M1004.7 491.2V605.7M1013.2 491.2V605.7M1022.2 491.2V605.7M1031.2 491.2V605.7M1039.4 491.2V605.7M1048.4 491.2V605.7M1057.5 491.2V605.7M1066.5 491.2V605.7" stroke="#7aa0a8" stroke-width="0.4" opacity="0.8"/>
<g fill="#445" opacity="0.5"><rect x="967.1" y="492.8" width="5.4" height="1" /><rect x="975.9" y="492.8" width="4.1" height="1" /><rect x="983.2" y="492.8" width="3.9" height="1" /><rect x="1024.1" y="492.8" width="5.2" height="1" /><rect x="1033.2" y="492.8" width="4.2" height="1" /><rect x="1041.8" y="492.8" width="4.1" height="1" /><rect x="1059.1" y="492.8" width="5.7" height="1" /><rect x="967.2" y="497.0" width="5.2" height="1" /><rect x="975.5" y="497.0" width="4.9" height="1" /><rect x="982.7" y="497.0" width="4.9" height="1" /><rect x="991.0" y="497.0" width="3.7" height="1" /><rect x="997.9" y="497.0" width="5.8" height="1" /><rect x="1016.1" y="497.0" width="3.2" height="1" /><rect x="1024.0" y="497.0" width="5.4" height="1" /><rect x="1051.4" y="497.0" width="3.2" height="1" /><rect x="1059.8" y="497.0" width="4.3" height="1" /><rect x="991.0" y="501.0" width="3.7" height="1" /><rect x="998.3" y="501.0" width="4.9" height="1" /><rect x="1005.9" y="501.0" width="5.9" height="1" /><rect x="1024.9" y="501.0" width="3.7" height="1" /><rect x="1033.8" y="501.0" width="3.1" height="1" /><rect x="1060.3" y="501.0" width="3.4" height="1" /><rect x="1071.1" y="501.0" width="3.2" height="1" /><rect x="983.6" y="505.0" width="3.0" height="1" /><rect x="998.2" y="505.0" width="5.2" height="1" /><rect x="1007.4" y="505.0" width="3.0" height="1" /><rect x="1041.6" y="505.0" width="4.6" height="1" /><rect x="1050.8" y="505.0" width="4.3" height="1" /><rect x="1059.5" y="505.0" width="4.9" height="1" /><rect x="1070.5" y="505.0" width="4.2" height="1" /><rect x="975.3" y="509.1" width="5.2" height="1" /><rect x="990.3" y="509.1" width="5.0" height="1" /><rect x="1006.9" y="509.1" width="4.1" height="1" /><rect x="1023.9" y="509.1" width="5.6" height="1" /><rect x="1032.9" y="509.1" width="4.9" height="1" /><rect x="1050.3" y="509.1" width="5.2" height="1" /><rect x="1070.3" y="509.1" width="4.7" height="1" /><rect x="983.3" y="513.2" width="3.7" height="1" /><rect x="990.9" y="513.2" width="3.8" height="1" /><rect x="997.9" y="513.2" width="5.8" height="1" /><rect x="1006.3" y="513.2" width="5.2" height="1" /><rect x="1014.9" y="513.2" width="5.5" height="1" /><rect x="1032.8" y="513.2" width="5.0" height="1" /><rect x="1050.7" y="513.2" width="4.4" height="1" /><rect x="1059.4" y="513.2" width="5.1" height="1" /><rect x="1006.6" y="517.3" width="4.5" height="1" /><rect x="1014.9" y="517.3" width="5.5" height="1" /><rect x="1050.7" y="517.3" width="4.4" height="1" /><rect x="1069.7" y="517.3" width="5.9" height="1" /><rect x="967.5" y="521.4" width="4.4" height="1" /><rect x="975.8" y="521.4" width="4.1" height="1" /><rect x="991.2" y="521.4" width="3.1" height="1" /><rect x="998.2" y="521.4" width="5.1" height="1" /><rect x="1016.0" y="521.4" width="3.4" height="1" /><rect x="1023.9" y="521.4" width="5.7" height="1" /><rect x="1032.3" y="521.4" width="6.0" height="1" /><rect x="1042.2" y="521.4" width="3.3" height="1" /><rect x="1059.9" y="521.4" width="4.1" height="1" /><rect x="983.2" y="525.4" width="3.8" height="1" /><rect x="990.5" y="525.4" width="4.5" height="1" /><rect x="998.7" y="525.4" width="4.1" height="1" /><rect x="1006.2" y="525.4" width="5.4" height="1" /><rect x="1015.6" y="525.4" width="4.1" height="1" /><rect x="1024.3" y="525.4" width="4.8" height="1" /><rect x="1032.4" y="525.4" width="5.7" height="1" /><rect x="1041.9" y="525.4" width="4.1" height="1" /><rect x="1059.0" y="525.4" width="6.0" height="1" /><rect x="1070.0" y="525.4" width="5.4" height="1" /><rect x="968.1" y="529.7" width="3.2" height="1" /><rect x="976.2" y="529.7" width="3.5" height="1" /><rect x="1023.7" y="529.7" width="6.0" height="1" /><rect x="1041.7" y="529.7" width="4.3" height="1" /><rect x="1049.9" y="529.7" width="6.0" height="1" /><rect x="1059.8" y="529.7" width="4.5" height="1" /><rect x="1069.9" y="529.7" width="5.5" height="1" /><rect x="967.3" y="533.9" width="4.9" height="1" /><rect x="1015.8" y="533.9" width="3.7" height="1" /><rect x="1033.3" y="533.9" width="4.1" height="1" /><rect x="1041.9" y="533.9" width="3.9" height="1" /><rect x="1050.5" y="533.9" width="4.9" height="1" /><rect x="1059.2" y="533.9" width="5.5" height="1" /><rect x="967.6" y="538.0" width="4.4" height="1" /><rect x="983.1" y="538.0" width="4.0" height="1" /><rect x="991.0" y="538.0" width="3.7" height="1" /><rect x="998.0" y="538.0" width="5.6" height="1" /><rect x="1033.2" y="538.0" width="4.2" height="1" /><rect x="1040.9" y="538.0" width="6.0" height="1" /><rect x="1050.6" y="538.0" width="4.7" height="1" /><rect x="1070.1" y="538.0" width="5.1" height="1" /><rect x="983.3" y="542.1" width="3.6" height="1" /><rect x="990.5" y="542.1" width="4.7" height="1" /><rect x="998.1" y="542.1" width="5.4" height="1" /><rect x="1015.0" y="542.1" width="5.4" height="1" /><rect x="1025.1" y="542.1" width="3.2" height="1" /><rect x="1041.9" y="542.1" width="4.1" height="1" /><rect x="1059.2" y="542.1" width="5.6" height="1" /><rect x="967.2" y="546.1" width="5.1" height="1" /><rect x="997.9" y="546.1" width="5.7" height="1" /><rect x="1024.9" y="546.1" width="3.6" height="1" /><rect x="1050.8" y="546.1" width="4.2" height="1" /><rect x="975.3" y="550.3" width="5.2" height="1" /><rect x="982.8" y="550.3" width="4.7" height="1" /><rect x="1007.1" y="550.3" width="3.6" height="1" /><rect x="1033.3" y="550.3" width="4.1" height="1" /><rect x="1040.9" y="550.3" width="5.9" height="1" /><rect x="976.1" y="554.4" width="3.5" height="1" /><rect x="990.2" y="554.4" width="5.3" height="1" /><rect x="1007.4" y="554.4" width="3.1" height="1" /><rect x="1015.5" y="554.4" width="4.3" height="1" /><rect x="1033.1" y="554.4" width="4.5" height="1" /><rect x="1042.0" y="554.4" width="3.7" height="1" /><rect x="1051.2" y="554.4" width="3.4" height="1" /><rect x="1060.4" y="554.4" width="3.2" height="1" /><rect x="983.2" y="558.4" width="3.8" height="1" /><rect x="998.8" y="558.4" width="4.0" height="1" /><rect x="1006.9" y="558.4" width="4.0" height="1" /><rect x="1024.5" y="558.4" width="4.5" height="1" /><rect x="1050.1" y="558.4" width="5.6" height="1" /><rect x="1070.2" y="558.4" width="4.8" height="1" /><rect x="982.5" y="562.5" width="5.2" height="1" /><rect x="998.8" y="562.5" width="4.0" height="1" /><rect x="1015.6" y="562.5" width="4.2" height="1" /><rect x="1042.4" y="562.5" width="3.1" height="1" /><rect x="1050.6" y="562.5" width="4.6" height="1" /><rect x="1070.6" y="562.5" width="4.1" height="1" /><rect x="967.2" y="566.5" width="5.0" height="1" /><rect x="982.5" y="566.5" width="5.2" height="1" /><rect x="998.3" y="566.5" width="4.9" height="1" /><rect x="1016.1" y="566.5" width="3.1" height="1" /><rect x="1041.3" y="566.5" width="5.1" height="1" /><rect x="1059.7" y="566.5" width="4.6" height="1" /><rect x="1070.8" y="566.5" width="3.8" height="1" /><rect x="975.3" y="570.5" width="5.2" height="1" /><rect x="990.4" y="570.5" width="4.9" height="1" /><rect x="997.9" y="570.5" width="5.8" height="1" /><rect x="1024.4" y="570.5" width="4.6" height="1" /><rect x="1032.6" y="570.5" width="5.3" height="1" /><rect x="1041.5" y="570.5" width="4.8" height="1" /><rect x="983.1" y="574.7" width="4.1" height="1" /><rect x="998.0" y="574.7" width="5.6" height="1" /><rect x="1006.0" y="574.7" width="5.7" height="1" /><rect x="1024.9" y="574.7" width="3.6" height="1" /><rect x="1041.4" y="574.7" width="5.0" height="1" /><rect x="1050.2" y="574.7" width="5.4" height="1" /><rect x="967.9" y="578.8" width="3.7" height="1" /><rect x="975.3" y="578.8" width="5.2" height="1" /><rect x="982.6" y="578.8" width="5.0" height="1" /><rect x="999.2" y="578.8" width="3.1" height="1" /><rect x="1015.6" y="578.8" width="4.1" height="1" /><rect x="1024.6" y="578.8" width="4.3" height="1" /><rect x="1032.5" y="578.8" width="5.6" height="1" /><rect x="1040.9" y="578.8" width="5.9" height="1" /><rect x="1059.1" y="578.8" width="5.8" height="1" /><rect x="975.9" y="582.8" width="3.9" height="1" /><rect x="983.6" y="582.8" width="3.0" height="1" /><rect x="998.8" y="582.8" width="4.0" height="1" /><rect x="1025.1" y="582.8" width="3.2" height="1" /><rect x="1059.3" y="582.8" width="5.3" height="1" /><rect x="1070.5" y="582.8" width="4.3" height="1" /><rect x="966.8" y="586.9" width="5.8" height="1" /><rect x="989.9" y="586.9" width="5.7" height="1" /><rect x="998.8" y="586.9" width="3.9" height="1" /><rect x="1006.9" y="586.9" width="4.1" height="1" /><rect x="1024.6" y="586.9" width="4.2" height="1" /><rect x="1032.8" y="586.9" width="4.9" height="1" /><rect x="1050.9" y="586.9" width="4.0" height="1" /><rect x="967.3" y="591.0" width="4.9" height="1" /><rect x="976.2" y="591.0" width="3.4" height="1" /><rect x="1014.8" y="591.0" width="5.7" height="1" /><rect x="1025.1" y="591.0" width="3.3" height="1" /><rect x="1051.4" y="591.0" width="3.0" height="1" /><rect x="1059.7" y="591.0" width="4.6" height="1" /><rect x="966.8" y="595.1" width="6.0" height="1" /><rect x="975.3" y="595.1" width="5.2" height="1" /><rect x="989.9" y="595.1" width="5.9" height="1" /><rect x="1016.1" y="595.1" width="3.2" height="1" /><rect x="1033.4" y="595.1" width="3.8" height="1" /><rect x="1051.4" y="595.1" width="3.1" height="1" /><rect x="967.8" y="599.0" width="4.0" height="1" /><rect x="975.7" y="599.0" width="4.4" height="1" /><rect x="983.1" y="599.0" width="4.0" height="1" /><rect x="989.8" y="599.0" width="6.0" height="1" /><rect x="1006.8" y="599.0" width="4.3" height="1" /><rect x="1015.6" y="599.0" width="4.1" height="1" /><rect x="1024.1" y="599.0" width="5.3" height="1" /><rect x="1070.4" y="599.0" width="4.5" height="1" /><rect x="1015.2" y="603.1" width="4.9" height="1" /><rect x="1024.1" y="603.1" width="5.1" height="1" /><rect x="1033.0" y="603.1" width="4.7" height="1" /><rect x="1050.4" y="603.1" width="5.0" height="1" /><rect x="1059.6" y="603.1" width="4.7" height="1" /><rect x="1070.2" y="603.1" width="4.9" height="1" /></g>
<rect x="965.7" y="491.7" width="112.59999999999991" height="113.50000000000006" fill="none" stroke="#1a1a1a" stroke-width="1.5" stroke-dasharray="8 3"/>
<!-- globe -->
<clipPath id="gl"><ellipse cx="182.3" cy="390.5" rx="48.4" ry="40"/></clipPath>
<ellipse cx="182.3" cy="390.5" rx="48.4" ry="40" fill="url(#globe)"/>
<g clip-path="url(#gl)"><rect x="135.9" y="350.5" width="4.1" height="0.9" fill="#c84a4a" opacity="0.45"/><rect x="140.8" y="350.5" width="3.1" height="0.9" fill="#2a6a9a" opacity="0.45"/><rect x="146.2" y="350.5" width="4.7" height="0.9" fill="#1e4f7a" opacity="0.45"/><rect x="152.5" y="350.5" width="4.5" height="0.9" fill="#3a7ab0" opacity="0.45"/><rect x="159.0" y="350.5" width="3.5" height="0.9" fill="#1e4f7a" opacity="0.45"/><rect x="164.9" y="350.5" width="2.9" height="0.9" fill="#2a6a9a" opacity="0.45"/><rect x="170.7" y="350.5" width="4.2" height="0.9" fill="#2a6a9a" opacity="0.45"/><rect x="177.3" y="350.5" width="1.8" height="0.9" fill="#1a3a60" opacity="0.45"/><rect x="181.2" y="350.5" width="1.9" height="0.9" fill="#1e4f7a" opacity="0.45"/><rect x="186.1" y="350.5" width="1.5" height="0.9" fill="#2a6a9a" opacity="0.45"/><rect x="190.5" y="350.5" width="2.1" height="0.9" fill="#2a6a9a" opacity="0.45"/><rect x="194.1" y="350.5" width="4.9" height="0.9" fill="#1a3a60" opacity="0.45"/><rect x="201.6" y="350.5" width="3.7" height="0.9" fill="#2a6a9a" opacity="0.45"/><rect x="208.2" y="350.5" width="3.9" height="0.9" fill="#3a7ab0" opacity="0.45"/><rect x="213.6" y="350.5" width="2.8" height="0.9" fill="#2a6a9a" opacity="0.45"/><rect x="219.2" y="350.5" width="2.4" height="0.9" fill="#3a7ab0" opacity="0.45"/><rect x="223.1" y="350.5" width="3.6" height="0.9" fill="#1e4f7a" opacity="0.45"/><rect x="228.8" y="350.5" width="4.0" height="0.9" fill="#1e4f7a" opacity="0.45"/><rect x="136.5" y="352.4" width="3.2" height="0.9" fill="#3a7ab0" opacity="0.45"/><rect x="140.8" y="352.4" width="3.2" height="0.9" fill="#2a6a9a" opacity="0.45"/><rect x="144.9" y="352.4" width="4.9" height="0.9" fill="#1e4f7a" opacity="0.45"/><rect x="152.7" y="352.4" width="2.8" height="0.9" fill="#3a7ab0" opacity="0.45"/><rect x="156.3" y="352.4" width="4.3" height="0.9" fill="#3a7ab0" opacity="0.45"/><rect x="162.2" y="352.4" width="4.4" height="0.9" fill="#e8f4f8" opacity="0.45"/><rect x="167.5" y="352.4" width="2.1" height="0.9" fill="#2a6a9a" opacity="0.45"/><rect x="170.7" y="352.4" width="2.4" height="0.9" fill="#e8f4f8" opacity="0.45"/><rect x="174.7" y="352.4" width="2.7" height="0.9" fill="#c84a4a" opacity="0.45"/><rect x="178.8" y="352.4" width="3.1" height="0.9" fill="#1a3a60" opacity="0.45"/><rect x="184.3" y="352.4" width="4.3" height="0.9" fill="#2a6a9a" opacity="0.45"/><rect x="189.5" y="352.4" width="4.8" height="0.9" fill="#1e4f7a" opacity="0.45"/><rect x="195.6" y="352.4" width="3.3" height="0.9" fill="#3a7ab0" opacity="0.45"/><rect x="201.7" y="352.4" width="2.7" height="0.9" fill="#1a3a60" opacity="0.45"/><rect x="205.4" y="352.4" width="3.9" height="0.9" fill="#2a6a9a" opacity="0.45"/><rect x="210.5" y="352.4" width="1.8" height="0.9" fill="#1e4f7a" opacity="0.45"/><rect x="214.6" y="352.4" width="2.6" height="0.9" fill="#e8f4f8" opacity="0.45"/><rect x="218.4" y="352.4" width="1.7" height="0.9" fill="#1a3a60" opacity="0.45"/><rect x="222.0" y="352.4" width="2.9" height="0.9" fill="#2a6a9a" opacity="0.45"/><rect x="227.4" y="352.4" width="2.7" height="0.9" fill="#2a6a9a" opacity="0.45"/><rect x="135.3" y="354.3" width="1.7" height="0.9" fill="#1e4f7a" opacity="0.45"/><rect x="139.5" y="354.3" width="2.7" height="0.9" fill="#2a6a9a" opacity="0.45"/><rect x="143.3" y="354.3" width="4.1" height="0.9" fill="#1e4f7a" opacity="0.45"/><rect x="149.5" y="354.3" width="4.3" height="0.9" fill="#1e4f7a" opacity="0.45"/><rect x="155.0" y="354.3" width="2.8" height="0.9" fill="#1e4f7a" opacity="0.45"/><rect x="160.4" y="354.3" width="2.5" height="0.9" fill="#e8f4f8" opacity="0.45"/><rect x="165.8" y="354.3" width="3.7" height="0.9" fill="#2a6a9a" opacity="0.45"/><rect x="172.4" y="354.3" width="3.1" height="0.9" fill="#e8f4f8" opacity="0.45"/><rect x="177.8" y="354.3" width="2.6" height="0.9" fill="#2a6a9a" opacity="0.45"/><rect x="181.9" y="354.3" width="2.9" height="0.9" fill="#1e4f7a" opacity="0.45"/><rect x="185.8" y="354.3" width="4.4" height="0.9" fill="#1a3a60" opacity="0.45"/><rect x="193.1" y="354.3" width="3.7" height="0.9" fill="#e8f4f8" opacity="0.45"/><rect x="199.5" y="354.3" width="2.1" height="0.9" fill="#e8f4f8" opacity="0.45"/><rect x="203.0" y="354.3" width="4.2" height="0.9" fill="#c84a4a" opacity="0.45"/><rect x="208.9" y="354.3" width="4.3" height="0.9" fill="#3a7ab0" opacity="0.45"/><rect x="215.4" y="354.3" width="3.8" height="0.9" fill="#2a6a9a" opacity="0.45"/><rect x="220.9" y="354.3" width="4.0" height="0.9" fill="#2a6a9a" opacity="0.45"/><rect x="227.5" y="354.3" width="2.4" height="0.9" fill="#2a6a9a" opacity="0.45"/><rect x="135.0" y="356.2" width="2.1" height="0.9" fill="#1e4f7a" opacity="0.45"/><rect x="139.0" y="356.2" width="4.2" height="0.9" fill="#3a7ab0" opacity="0.45"/><rect x="145.5" y="356.2" width="3.1" height="0.9" fill="#c84a4a" opacity="0.45"/><rect x="150.8" y="356.2" width="4.3" height="0.9" fill="#3a7ab0" opacity="0.45"/><rect x="156.5" y="356.2" width="2.7" height="0.9" fill="#e8f4f8" opacity="0.45"/><rect x="160.8" y="356.2" width="4.5" height="0.9" fill="#e8f4f8" opacity="0.45"/><rect x="168.2" y="356.2" width="4.8" height="0.9" fill="#c84a4a" opacity="0.45"/><rect x="174.2" y="356.2" width="4.9" height="0.9" fill="#2a6a9a" opacity="0.45"/><rect x="181.7" y="356.2" width="4.8" height="0.9" fill="#e8f4f8" opacity="0.45"/><rect x="187.9" y="356.2" width="1.8" height="0.9" fill="#e8f4f8" opacity="0.45"/><rect x="190.9" y="356.2" width="4.2" height="0.9" fill="#1a3a60" opacity="0.45"/><rect x="197.0" y="356.2" width="4.8" height="0.9" fill="#2a6a9a" opacity="0.45"/><rect x="204.0" y="356.2" width="4.2" height="0.9" fill="#2a6a9a" opacity="0.45"/><rect x="210.6" y="356.2" width="1.6" height="0.9" fill="#2a6a9a" opacity="0.45"/><rect x="214.3" y="356.2" width="3.7" height="0.9" fill="#2a6a9a" opacity="0.45"/><rect x="219.2" y="356.2" width="3.9" height="0.9" fill="#1e4f7a" opacity="0.45"/><rect x="226.1" y="356.2" width="4.9" height="0.9" fill="#2a6a9a" opacity="0.45"/><rect x="134.4" y="358.1" width="2.6" height="0.9" fill="#2a6a9a" opacity="0.45"/><rect x="138.9" y="358.1" width="3.4" height="0.9" fill="#e8f4f8" opacity="0.45"/><rect x="144.1" y="358.1" width="2.8" height="0.9" fill="#1a3a60" opacity="0.45"/><rect x="147.9" y="358.1" width="2.2" height="0.9" fill="#3a7ab0" opacity="0.45"/><rect x="150.9" y="358.1" width="2.9" height="0.9" fill="#2a6a9a" opacity="0.45"/><rect x="156.5" y="358.1" width="4.5" height="0.9" fill="#1a3a60" opacity="0.45"/><rect x="162.7" y="358.1" width="1.6" height="0.9" fill="#1a3a60" opacity="0.45"/><rect x="165.8" y="358.1" width="2.5" height="0.9" fill="#c84a4a" opacity="0.45"/><rect x="169.8" y="358.1" width="3.5" height="0.9" fill="#3a7ab0" opacity="0.45"/><rect x="176.0" y="358.1" width="3.0" height="0.9" fill="#1a3a60" opacity="0.45"/><rect x="181.2" y="358.1" width="2.8" height="0.9" fill="#1e4f7a" opacity="0.45"/><rect x="185.1" y="358.1" width="2.8" height="0.9" fill="#e8f4f8" opacity="0.45"/><rect x="190.8" y="358.1" width="4.9" height="0.9" fill="#1a3a60" opacity="0.45"/><rect x="196.7" y="358.1" width="4.4" height="0.9" fill="#1e4f7a" opacity="0.45"/><rect x="202.7" y="358.1" width="2.6" height="0.9" fill="#1a3a60" opacity="0.45"/><rect x="207.4" y="358.1" width="2.6" height="0.9" fill="#1a3a60" opacity="0.45"/><rect x="211.6" y="358.1" width="3.0" height="0.9" fill="#2a6a9a" opacity="0.45"/><rect x="216.5" y="358.1" width="3.2" height="0.9" fill="#3a7ab0" opacity="0.45"/><rect x="221.4" y="358.1" width="4.5" height="0.9" fill="#2a6a9a" opacity="0.45"/><rect x="228.0" y="358.1" width="2.4" height="0.9" fill="#2a6a9a" opacity="0.45"/><rect x="135.2" y="360.0" width="2.6" height="0.9" fill="#2a6a9a" opacity="0.45"/><rect x="139.7" y="360.0" width="2.5" height="0.9" fill="#e8f4f8" opacity="0.45"/><rect x="143.1" y="360.0" width="3.8" height="0.9" fill="#e8f4f8" opacity="0.45"/><rect x="148.3" y="360.0" width="1.6" height="0.9" fill="#1e4f7a" opacity="0.45"/><rect x="152.5" y="360.0" width="1.5" height="0.9" fill="#1a3a60" opacity="0.45"/><rect x="156.1" y="360.0" width="2.4" height="0.9" fill="#e8f4f8" opacity="0.45"/><rect x="161.0" y="360.0" width="2.4" height="0.9" fill="#2a6a9a" opacity="0.45"/><rect x="166.0" y="360.0" width="4.0" height="0.9" fill="#2a6a9a" opacity="0.45"/><rect x="171.4" y="360.0" width="3.6" height="0.9" fill="#e8f4f8" opacity="0.45"/><rect x="177.0" y="360.0" width="4.5" height="0.9" fill="#1e4f7a" opacity="0.45"/><rect x="182.4" y="360.0" width="1.9" height="0.9" fill="#2a6a9a" opacity="0.45"/><rect x="186.3" y="360.0" width="2.7" height="0.9" fill="#2a6a9a" opacity="0.45"/><rect x="191.4" y="360.0" width="1.6" height="0.9" fill="#3a7ab0" opacity="0.45"/><rect x="194.6" y="360.0" width="4.1" height="0.9" fill="#1a3a60" opacity="0.45"/><rect x="199.8" y="360.0" width="1.5" height="0.9" fill="#1a3a60" opacity="0.45"/><rect x="203.1" y="360.0" width="4.7" height="0.9" fill="#1a3a60" opacity="0.45"/><rect x="209.0" y="360.0" width="3.0" height="0.9" fill="#e8f4f8" opacity="0.45"/><rect x="214.1" y="360.0" width="3.9" height="0.9" fill="#e8f4f8" opacity="0.45"/><rect x="220.7" y="360.0" width="4.4" height="0.9" fill="#e8f4f8" opacity="0.45"/><rect x="226.8" y="360.0" width="4.5" height="0.9" fill="#2a6a9a" opacity="0.45"/><rect x="135.4" y="361.9" width="4.2" height="0.9" fill="#2a6a9a" opacity="0.45"/><rect x="142.2" y="361.9" width="3.9" height="0.9" fill="#e8f4f8" opacity="0.45"/><rect x="148.2" y="361.9" width="3.8" height="0.9" fill="#e8f4f8" opacity="0.45"/><rect x="154.8" y="361.9" width="2.0" height="0.9" fill="#e8f4f8" opacity="0.45"/><rect x="159.1" y="361.9" width="4.6" height="0.9" fill="#3a7ab0" opacity="0.45"/><rect x="165.7" y="361.9" width="3.0" height="0.9" fill="#1a3a60" opacity="0.45"/><rect x="171.3" y="361.9" width="1.7" height="0.9" fill="#2a6a9a" opacity="0.45"/><rect x="174.4" y="361.9" width="1.8" height="0.9" fill="#1e4f7a" opacity="0.45"/><rect x="178.5" y="361.9" width="1.6" height="0.9" fill="#e8f4f8" opacity="0.45"/><rect x="183.0" y="361.9" width="5.0" height="0.9" fill="#e8f4f8" opacity="0.45"/><rect x="188.9" y="361.9" width="4.4" height="0.9" fill="#2a6a9a" opacity="0.45"/><rect x="195.5" y="361.9" width="4.4" height="0.9" fill="#1e4f7a" opacity="0.45"/><rect x="202.3" y="361.9" width="2.0" height="0.9" fill="#2a6a9a" opacity="0.45"/><rect x="206.6" y="361.9" width="3.0" height="0.9" fill="#2a6a9a" opacity="0.45"/><rect x="211.8" y="361.9" width="2.9" height="0.9" fill="#2a6a9a" opacity="0.45"/><rect x="215.7" y="361.9" width="2.2" height="0.9" fill="#1a3a60" opacity="0.45"/><rect x="218.9" y="361.9" width="2.8" height="0.9" fill="#1e4f7a" opacity="0.45"/><rect x="223.2" y="361.9" width="3.5" height="0.9" fill="#1e4f7a" opacity="0.45"/><rect x="229.1" y="361.9" width="4.6" height="0.9" fill="#1e4f7a" opacity="0.45"/><rect x="134.3" y="363.8" width="3.9" height="0.9" fill="#e8f4f8" opacity="0.45"/><rect x="140.1" y="363.8" width="4.8" height="0.9" fill="#3a7ab0" opacity="0.45"/><rect x="147.6" y="363.8" width="2.0" height="0.9" fill="#2a6a9a" opacity="0.45"/><rect x="150.8" y="363.8" width="3.7" height="0.9" fill="#c84a4a" opacity="0.45"/><rect x="155.9" y="363.8" width="4.8" height="0.9" fill="#1a3a60" opacity="0.45"/><rect x="162.9" y="363.8" width="2.4" height="0.9" fill="#1a3a60" opacity="0.45"/><rect x="166.6" y="363.8" width="4.4" height="0.9" fill="#2a6a9a" opacity="0.45"/><rect x="173.0" y="363.8" width="2.0" height="0.9" fill="#2a6a9a" opacity="0.45"/><rect x="177.6" y="363.8" width="3.1" height="0.9" fill="#3a7ab0" opacity="0.45"/><rect x="181.9" y="363.8" width="4.0" height="0.9" fill="#3a7ab0" opacity="0.45"/><rect x="186.9" y="363.8" width="3.8" height="0.9" fill="#1e4f7a" opacity="0.45"/><rect x="193.4" y="363.8" width="3.3" height="0.9" fill="#e8f4f8" opacity="0.45"/><rect x="198.0" y="363.8" width="4.6" height="0.9" fill="#e8f4f8" opacity="0.45"/><rect x="205.5" y="363.8" width="1.9" height="0.9" fill="#c84a4a" opacity="0.45"/><rect x="208.3" y="363.8" width="4.0" height="0.9" fill="#1e4f7a" opacity="0.45"/><rect x="215.0" y="363.8" width="4.8" height="0.9" fill="#e8f4f8" opacity="0.45"/><rect x="222.1" y="363.8" width="2.3" height="0.9" fill="#1e4f7a" opacity="0.45"/><rect x="225.3" y="363.8" width="4.7" height="0.9" fill="#e8f4f8" opacity="0.45"/><rect x="134.4" y="365.7" width="3.7" height="0.9" fill="#3a7ab0" opacity="0.45"/><rect x="140.7" y="365.7" width="2.5" height="0.9" fill="#1a3a60" opacity="0.45"/><rect x="145.6" y="365.7" width="4.3" height="0.9" fill="#3a7ab0" opacity="0.45"/><rect x="151.0" y="365.7" width="4.4" height="0.9" fill="#2a6a9a" opacity="0.45"/><rect x="158.0" y="365.7" width="3.0" height="0.9" fill="#3a7ab0" opacity="0.45"/><rect x="162.9" y="365.7" width="3.6" height="0.9" fill="#1a3a60" opacity="0.45"/><rect x="167.8" y="365.7" width="2.1" height="0.9" fill="#1e4f7a" opacity="0.45"/><rect x="170.9" y="365.7" width="1.6" height="0.9" fill="#2a6a9a" opacity="0.45"/><rect x="173.8" y="365.7" width="3.2" height="0.9" fill="#e8f4f8" opacity="0.45"/><rect x="179.2" y="365.7" width="2.7" height="0.9" fill="#e8f4f8" opacity="0.45"/><rect x="183.8" y="365.7" width="4.6" height="0.9" fill="#1a3a60" opacity="0.45"/><rect x="191.2" y="365.7" width="2.6" height="0.9" fill="#e8f4f8" opacity="0.45"/><rect x="194.9" y="365.7" width="2.0" height="0.9" fill="#2a6a9a" opacity="0.45"/><rect x="197.9" y="365.7" width="4.5" height="0.9" fill="#e8f4f8" opacity="0.45"/><rect x="203.6" y="365.7" width="2.4" height="0.9" fill="#2a6a9a" opacity="0.45"/><rect x="208.6" y="365.7" width="4.1" height="0.9" fill="#2a6a9a" opacity="0.45"/><rect x="213.6" y="365.7" width="4.6" height="0.9" fill="#3a7ab0" opacity="0.45"/><rect x="221.0" y="365.7" width="2.8" height="0.9" fill="#1e4f7a" opacity="0.45"/><rect x="226.1" y="365.7" width="3.9" height="0.9" fill="#e8f4f8" opacity="0.45"/><rect x="134.5" y="367.6" width="4.2" height="0.9" fill="#3a7ab0" opacity="0.45"/><rect x="140.2" y="367.6" width="3.9" height="0.9" fill="#2a6a9a" opacity="0.45"/><rect x="144.9" y="367.6" width="4.0" height="0.9" fill="#1a3a60" opacity="0.45"/><rect x="150.2" y="367.6" width="1.8" height="0.9" fill="#3a7ab0" opacity="0.45"/><rect x="154.8" y="367.6" width="4.0" height="0.9" fill="#2a6a9a" opacity="0.45"/><rect x="160.0" y="367.6" width="2.8" height="0.9" fill="#1e4f7a" opacity="0.45"/><rect x="165.1" y="367.6" width="4.0" height="0.9" fill="#2a6a9a" opacity="0.45"/><rect x="171.7" y="367.6" width="2.1" height="0.9" fill="#2a6a9a" opacity="0.45"/><rect x="176.6" y="367.6" width="3.8" height="0.9" fill="#e8f4f8" opacity="0.45"/><rect x="182.8" y="367.6" width="2.4" height="0.9" fill="#e8f4f8" opacity="0.45"/><rect x="186.2" y="367.6" width="4.2" height="0.9" fill="#e8f4f8" opacity="0.45"/><rect x="191.6" y="367.6" width="1.6" height="0.9" fill="#c84a4a" opacity="0.45"/><rect x="195.2" y="367.6" width="4.8" height="0.9" fill="#1e4f7a" opacity="0.45"/><rect x="201.3" y="367.6" width="4.3" height="0.9" fill="#1e4f7a" opacity="0.45"/><rect x="208.5" y="367.6" width="1.7" height="0.9" fill="#2a6a9a" opacity="0.45"/><rect x="212.4" y="367.6" width="3.2" height="0.9" fill="#1e4f7a" opacity="0.45"/><rect x="216.6" y="367.6" width="4.4" height="0.9" fill="#e8f4f8" opacity="0.45"/><rect x="222.5" y="367.6" width="1.7" height="0.9" fill="#1e4f7a" opacity="0.45"/><rect x="227.0" y="367.6" width="2.2" height="0.9" fill="#c84a4a" opacity="0.45"/><rect x="134.6" y="369.5" width="2.3" height="0.9" fill="#3a7ab0" opacity="0.45"/><rect x="139.4" y="369.5" width="1.8" height="0.9" fill="#2a6a9a" opacity="0.45"/><rect x="143.3" y="369.5" width="4.5" height="0.9" fill="#2a6a9a" opacity="0.45"/><rect x="150.0" y="369.5" width="3.0" height="0.9" fill="#3a7ab0" opacity="0.45"/><rect x="154.9" y="369.5" width="3.5" height="0.9" fill="#3a7ab0" opacity="0.45"/><rect x="160.4" y="369.5" width="2.0" height="0.9" fill="#1e4f7a" opacity="0.45"/><rect x="165.2" y="369.5" width="2.6" height="0.9" fill="#e8f4f8" opacity="0.45"/><rect x="170.5" y="369.5" width="5.0" height="0.9" fill="#1a3a60" opacity="0.45"/><rect x="176.5" y="369.5" width="2.6" height="0.9" fill="#1e4f7a" opacity="0.45"/><rect x="181.7" y="369.5" width="2.4" height="0.9" fill="#3a7ab0" opacity="0.45"/><rect x="185.6" y="369.5" width="2.0" height="0.9" fill="#1e4f7a" opacity="0.45"/><rect x="189.4" y="369.5" width="3.9" height="0.9" fill="#e8f4f8" opacity="0.45"/><rect x="196.2" y="369.5" width="3.8" height="0.9" fill="#2a6a9a" opacity="0.45"/><rect x="201.0" y="369.5" width="4.0" height="0.9" fill="#1e4f7a" opacity="0.45"/><rect x="207.3" y="369.5" width="4.3" height="0.9" fill="#3a7ab0" opacity="0.45"/><rect x="214.3" y="369.5" width="1.8" height="0.9" fill="#3a7ab0" opacity="0.45"/><rect x="217.7" y="369.5" width="4.2" height="0.9" fill="#1e4f7a" opacity="0.45"/><rect x="224.7" y="369.5" width="3.8" height="0.9" fill="#1e4f7a" opacity="0.45"/><rect x="230.5" y="369.5" width="3.0" height="0.9" fill="#1e4f7a" opacity="0.45"/><rect x="136.1" y="371.4" width="2.4" height="0.9" fill="#3a7ab0" opacity="0.45"/><rect x="140.6" y="371.4" width="2.6" height="0.9" fill="#2a6a9a" opacity="0.45"/><rect x="144.4" y="371.4" width="2.4" height="0.9" fill="#3a7ab0" opacity="0.45"/><rect x="148.2" y="371.4" width="1.7" height="0.9" fill="#1a3a60" opacity="0.45"/><rect x="150.8" y="371.4" width="1.9" height="0.9" fill="#1e4f7a" opacity="0.45"/><rect x="155.3" y="371.4" width="3.0" height="0.9" fill="#2a6a9a" opacity="0.45"/><rect x="161.3" y="371.4" width="3.6" height="0.9" fill="#2a6a9a" opacity="0.45"/><rect x="166.9" y="371.4" width="1.9" height="0.9" fill="#2a6a9a" opacity="0.45"/><rect x="170.3" y="371.4" width="1.5" height="0.9" fill="#1a3a60" opacity="0.45"/><rect x="174.0" y="371.4" width="2.1" height="0.9" fill="#1e4f7a" opacity="0.45"/><rect x="177.5" y="371.4" width="3.6" height="0.9" fill="#1e4f7a" opacity="0.45"/><rect x="182.9" y="371.4" width="4.8" height="0.9" fill="#e8f4f8" opacity="0.45"/><rect x="188.7" y="371.4" width="2.6" height="0.9" fill="#2a6a9a" opacity="0.45"/><rect x="193.2" y="371.4" width="3.0" height="0.9" fill="#e8f4f8" opacity="0.45"/><rect x="197.1" y="371.4" width="3.8" height="0.9" fill="#2a6a9a" opacity="0.45"/><rect x="202.9" y="371.4" width="4.9" height="0.9" fill="#1a3a60" opacity="0.45"/><rect x="208.6" y="371.4" width="1.9" height="0.9" fill="#e8f4f8" opacity="0.45"/><rect x="212.9" y="371.4" width="2.2" height="0.9" fill="#1e4f7a" opacity="0.45"/><rect x="216.0" y="371.4" width="3.5" height="0.9" fill="#e8f4f8" opacity="0.45"/><rect x="221.8" y="371.4" width="2.7" height="0.9" fill="#e8f4f8" opacity="0.45"/><rect x="225.8" y="371.4" width="2.5" height="0.9" fill="#2a6a9a" opacity="0.45"/><rect x="229.8" y="371.4" width="3.3" height="0.9" fill="#2a6a9a" opacity="0.45"/><rect x="136.4" y="373.3" width="4.3" height="0.9" fill="#1e4f7a" opacity="0.45"/><rect x="142.9" y="373.3" width="2.9" height="0.9" fill="#1e4f7a" opacity="0.45"/><rect x="147.0" y="373.3" width="2.3" height="0.9" fill="#3a7ab0" opacity="0.45"/><rect x="150.2" y="373.3" width="2.1" height="0.9" fill="#1e4f7a" opacity="0.45"/><rect x="154.7" y="373.3" width="2.5" height="0.9" fill="#2a6a9a" opacity="0.45"/><rect x="159.8" y="373.3" width="4.1" height="0.9" fill="#e8f4f8" opacity="0.45"/><rect x="166.2" y="373.3" width="4.5" height="0.9" fill="#1a3a60" opacity="0.45"/><rect x="171.7" y="373.3" width="2.2" height="0.9" fill="#1e4f7a" opacity="0.45"/><rect x="175.0" y="373.3" width="3.6" height="0.9" fill="#1a3a60" opacity="0.45"/><rect x="179.8" y="373.3" width="2.9" height="0.9" fill="#3a7ab0" opacity="0.45"/><rect x="184.9" y="373.3" width="3.6" height="0.9" fill="#c84a4a" opacity="0.45"/><rect x="190.2" y="373.3" width="3.2" height="0.9" fill="#3a7ab0" opacity="0.45"/><rect x="195.2" y="373.3" width="4.3" height="0.9" fill="#1a3a60" opacity="0.45"/><rect x="202.3" y="373.3" width="3.9" height="0.9" fill="#1e4f7a" opacity="0.45"/><rect x="208.2" y="373.3" width="4.3" height="0.9" fill="#3a7ab0" opacity="0.45"/><rect x="215.4" y="373.3" width="1.6" height="0.9" fill="#c84a4a" opacity="0.45"/><rect x="218.2" y="373.3" width="2.5" height="0.9" fill="#1e4f7a" opacity="0.45"/><rect x="221.7" y="373.3" width="2.7" height="0.9" fill="#1a3a60" opacity="0.45"/><rect x="227.1" y="373.3" width="4.8" height="0.9" fill="#e8f4f8" opacity="0.45"/><rect x="136.8" y="375.2" width="2.5" height="0.9" fill="#2a6a9a" opacity="0.45"/><rect x="140.2" y="375.2" width="4.1" height="0.9" fill="#2a6a9a" opacity="0.45"/><rect x="147.1" y="375.2" width="3.9" height="0.9" fill="#1a3a60" opacity="0.45"/><rect x="153.2" y="375.2" width="2.2" height="0.9" fill="#c84a4a" opacity="0.45"/><rect x="156.4" y="375.2" width="1.9" height="0.9" fill="#3a7ab0" opacity="0.45"/><rect x="161.3" y="375.2" width="3.4" height="0.9" fill="#3a7ab0" opacity="0.45"/><rect x="167.6" y="375.2" width="3.8" height="0.9" fill="#3a7ab0" opacity="0.45"/><rect x="172.6" y="375.2" width="3.8" height="0.9" fill="#2a6a9a" opacity="0.45"/><rect x="179.2" y="375.2" width="3.6" height="0.9" fill="#3a7ab0" opacity="0.45"/><rect x="184.4" y="375.2" width="4.5" height="0.9" fill="#1a3a60" opacity="0.45"/><rect x="191.2" y="375.2" width="4.9" height="0.9" fill="#2a6a9a" opacity="0.45"/><rect x="198.9" y="375.2" width="2.2" height="0.9" fill="#2a6a9a" opacity="0.45"/><rect x="203.7" y="375.2" width="4.3" height="0.9" fill="#1e4f7a" opacity="0.45"/><rect x="210.7" y="375.2" width="2.1" height="0.9" fill="#e8f4f8" opacity="0.45"/><rect x="215.3" y="375.2" width="2.3" height="0.9" fill="#1e4f7a" opacity="0.45"/><rect x="219.6" y="375.2" width="3.7" height="0.9" fill="#1a3a60" opacity="0.45"/><rect x="225.7" y="375.2" width="3.0" height="0.9" fill="#e8f4f8" opacity="0.45"/><rect x="230.5" y="375.2" width="3.6" height="0.9" fill="#2a6a9a" opacity="0.45"/><rect x="134.8" y="377.1" width="3.6" height="0.9" fill="#3a7ab0" opacity="0.45"/><rect x="139.7" y="377.1" width="1.6" height="0.9" fill="#1e4f7a" opacity="0.45"/><rect x="142.7" y="377.1" width="3.4" height="0.9" fill="#1a3a60" opacity="0.45"/><rect x="147.4" y="377.1" width="2.2" height="0.9" fill="#1a3a60" opacity="0.45"/><rect x="150.6" y="377.1" width="4.3" height="0.9" fill="#3a7ab0" opacity="0.45"/><rect x="157.2" y="377.1" width="1.7" height="0.9" fill="#e8f4f8" opacity="0.45"/><rect x="160.0" y="377.1" width="3.3" height="0.9" fill="#1e4f7a" opacity="0.45"/><rect x="164.9" y="377.1" width="4.5" height="0.9" fill="#3a7ab0" opacity="0.45"/><rect x="172.2" y="377.1" width="2.3" height="0.9" fill="#1a3a60" opacity="0.45"/><rect x="177.1" y="377.1" width="3.2" height="0.9" fill="#1e4f7a" opacity="0.45"/><rect x="181.1" y="377.1" width="3.9" height="0.9" fill="#1e4f7a" opacity="0.45"/><rect x="186.0" y="377.1" width="2.0" height="0.9" fill="#1a3a60" opacity="0.45"/><rect x="190.5" y="377.1" width="3.5" height="0.9" fill="#e8f4f8" opacity="0.45"/><rect x="196.4" y="377.1" width="4.4" height="0.9" fill="#2a6a9a" opacity="0.45"/><rect x="203.1" y="377.1" width="4.7" height="0.9" fill="#1a3a60" opacity="0.45"/><rect x="210.0" y="377.1" width="4.9" height="0.9" fill="#1e4f7a" opacity="0.45"/><rect x="216.5" y="377.1" width="4.3" height="0.9" fill="#2a6a9a" opacity="0.45"/><rect x="222.1" y="377.1" width="2.8" height="0.9" fill="#e8f4f8" opacity="0.45"/><rect x="227.7" y="377.1" width="5.0" height="0.9" fill="#1e4f7a" opacity="0.45"/><rect x="136.8" y="379.0" width="3.1" height="0.9" fill="#1e4f7a" opacity="0.45"/><rect x="141.0" y="379.0" width="3.6" height="0.9" fill="#3a7ab0" opacity="0.45"/><rect x="145.7" y="379.0" width="1.5" height="0.9" fill="#3a7ab0" opacity="0.45"/><rect x="150.1" y="379.0" width="4.8" height="0.9" fill="#1e4f7a" opacity="0.45"/><rect x="156.8" y="379.0" width="4.8" height="0.9" fill="#2a6a9a" opacity="0.45"/><rect x="162.4" y="379.0" width="4.3" height="0.9" fill="#3a7ab0" opacity="0.45"/><rect x="169.2" y="379.0" width="2.2" height="0.9" fill="#3a7ab0" opacity="0.45"/><rect x="173.0" y="379.0" width="2.5" height="0.9" fill="#e8f4f8" opacity="0.45"/><rect x="177.8" y="379.0" width="4.2" height="0.9" fill="#1e4f7a" opacity="0.45"/><rect x="184.0" y="379.0" width="2.5" height="0.9" fill="#3a7ab0" opacity="0.45"/><rect x="189.4" y="379.0" width="1.7" height="0.9" fill="#e8f4f8" opacity="0.45"/><rect x="192.1" y="379.0" width="3.0" height="0.9" fill="#2a6a9a" opacity="0.45"/><rect x="196.4" y="379.0" width="4.0" height="0.9" fill="#1e4f7a" opacity="0.45"/><rect x="201.8" y="379.0" width="1.8" height="0.9" fill="#e8f4f8" opacity="0.45"/><rect x="205.4" y="379.0" width="2.1" height="0.9" fill="#3a7ab0" opacity="0.45"/><rect x="210.2" y="379.0" width="2.4" height="0.9" fill="#e8f4f8" opacity="0.45"/><rect x="214.2" y="379.0" width="4.3" height="0.9" fill="#1e4f7a" opacity="0.45"/><rect x="221.1" y="379.0" width="2.0" height="0.9" fill="#1e4f7a" opacity="0.45"/><rect x="224.0" y="379.0" width="3.5" height="0.9" fill="#3a7ab0" opacity="0.45"/><rect x="230.1" y="379.0" width="1.8" height="0.9" fill="#2a6a9a" opacity="0.45"/><rect x="136.4" y="380.9" width="1.5" height="0.9" fill="#c84a4a" opacity="0.45"/><rect x="138.9" y="380.9" width="2.5" height="0.9" fill="#e8f4f8" opacity="0.45"/><rect x="143.3" y="380.9" width="1.7" height="0.9" fill="#3a7ab0" opacity="0.45"/><rect x="147.5" y="380.9" width="3.3" height="0.9" fill="#1a3a60" opacity="0.45"/><rect x="153.6" y="380.9" width="3.8" height="0.9" fill="#1a3a60" opacity="0.45"/><rect x="159.6" y="380.9" width="1.6" height="0.9" fill="#1e4f7a" opacity="0.45"/><rect x="163.0" y="380.9" width="4.0" height="0.9" fill="#e8f4f8" opacity="0.45"/><rect x="169.8" y="380.9" width="2.8" height="0.9" fill="#2a6a9a" opacity="0.45"/><rect x="175.4" y="380.9" width="2.0" height="0.9" fill="#2a6a9a" opacity="0.45"/><rect x="179.2" y="380.9" width="4.9" height="0.9" fill="#3a7ab0" opacity="0.45"/><rect x="185.4" y="380.9" width="3.0" height="0.9" fill="#2a6a9a" opacity="0.45"/><rect x="189.4" y="380.9" width="2.8" height="0.9" fill="#1e4f7a" opacity="0.45"/><rect x="194.5" y="380.9" width="1.9" height="0.9" fill="#2a6a9a" opacity="0.45"/><rect x="198.9" y="380.9" width="1.8" height="0.9" fill="#3a7ab0" opacity="0.45"/><rect x="201.5" y="380.9" width="2.9" height="0.9" fill="#1e4f7a" opacity="0.45"/><rect x="205.7" y="380.9" width="1.6" height="0.9" fill="#e8f4f8" opacity="0.45"/><rect x="210.2" y="380.9" width="3.6" height="0.9" fill="#1e4f7a" opacity="0.45"/><rect x="215.6" y="380.9" width="1.8" height="0.9" fill="#3a7ab0" opacity="0.45"/><rect x="220.2" y="380.9" width="1.6" height="0.9" fill="#2a6a9a" opacity="0.45"/><rect x="224.4" y="380.9" width="1.8" height="0.9" fill="#1e4f7a" opacity="0.45"/><rect x="228.7" y="380.9" width="2.8" height="0.9" fill="#2a6a9a" opacity="0.45"/><rect x="135.6" y="382.8" width="4.9" height="0.9" fill="#1a3a60" opacity="0.45"/><rect x="141.5" y="382.8" width="1.9" height="0.9" fill="#3a7ab0" opacity="0.45"/><rect x="145.0" y="382.8" width="2.8" height="0.9" fill="#e8f4f8" opacity="0.45"/><rect x="149.8" y="382.8" width="3.1" height="0.9" fill="#2a6a9a" opacity="0.45"/><rect x="155.7" y="382.8" width="2.0" height="0.9" fill="#1e4f7a" opacity="0.45"/><rect x="159.7" y="382.8" width="4.1" height="0.9" fill="#1e4f7a" opacity="0.45"/><rect x="165.1" y="382.8" width="3.8" height="0.9" fill="#1e4f7a" opacity="0.45"/><rect x="169.8" y="382.8" width="4.2" height="0.9" fill="#e8f4f8" opacity="0.45"/><rect x="175.3" y="382.8" width="4.0" height="0.9" fill="#2a6a9a" opacity="0.45"/><rect x="181.8" y="382.8" width="1.7" height="0.9" fill="#c84a4a" opacity="0.45"/><rect x="184.9" y="382.8" width="3.9" height="0.9" fill="#3a7ab0" opacity="0.45"/><rect x="191.3" y="382.8" width="3.5" height="0.9" fill="#e8f4f8" opacity="0.45"/><rect x="196.5" y="382.8" width="3.8" height="0.9" fill="#3a7ab0" opacity="0.45"/><rect x="202.4" y="382.8" width="2.5" height="0.9" fill="#1a3a60" opacity="0.45"/><rect x="207.7" y="382.8" width="4.8" height="0.9" fill="#3a7ab0" opacity="0.45"/><rect x="214.0" y="382.8" width="2.1" height="0.9" fill="#1e4f7a" opacity="0.45"/><rect x="218.3" y="382.8" width="1.7" height="0.9" fill="#2a6a9a" opacity="0.45"/><rect x="221.9" y="382.8" width="2.9" height="0.9" fill="#c84a4a" opacity="0.45"/><rect x="226.3" y="382.8" width="3.4" height="0.9" fill="#e8f4f8" opacity="0.45"/><rect x="230.8" y="382.8" width="2.7" height="0.9" fill="#e8f4f8" opacity="0.45"/><rect x="135.7" y="384.7" width="3.5" height="0.9" fill="#1e4f7a" opacity="0.45"/><rect x="140.1" y="384.7" width="1.8" height="0.9" fill="#3a7ab0" opacity="0.45"/><rect x="144.7" y="384.7" width="2.8" height="0.9" fill="#3a7ab0" opacity="0.45"/><rect x="148.9" y="384.7" width="2.5" height="0.9" fill="#1e4f7a" opacity="0.45"/><rect x="153.7" y="384.7" width="2.4" height="0.9" fill="#1e4f7a" opacity="0.45"/><rect x="158.3" y="384.7" width="2.9" height="0.9" fill="#2a6a9a" opacity="0.45"/><rect x="163.5" y="384.7" width="3.6" height="0.9" fill="#e8f4f8" opacity="0.45"/><rect x="169.9" y="384.7" width="4.4" height="0.9" fill="#1a3a60" opacity="0.45"/><rect x="175.5" y="384.7" width="1.7" height="0.9" fill="#3a7ab0" opacity="0.45"/><rect x="179.2" y="384.7" width="1.5" height="0.9" fill="#1e4f7a" opacity="0.45"/><rect x="183.0" y="384.7" width="3.6" height="0.9" fill="#1e4f7a" opacity="0.45"/><rect x="187.5" y="384.7" width="2.9" height="0.9" fill="#e8f4f8" opacity="0.45"/><rect x="192.9" y="384.7" width="3.6" height="0.9" fill="#1a3a60" opacity="0.45"/><rect x="198.6" y="384.7" width="3.4" height="0.9" fill="#1e4f7a" opacity="0.45"/><rect x="204.3" y="384.7" width="4.0" height="0.9" fill="#1a3a60" opacity="0.45"/><rect x="209.3" y="384.7" width="1.7" height="0.9" fill="#e8f4f8" opacity="0.45"/><rect x="212.5" y="384.7" width="3.3" height="0.9" fill="#1a3a60" opacity="0.45"/><rect x="218.2" y="384.7" width="1.7" height="0.9" fill="#2a6a9a" opacity="0.45"/><rect x="221.1" y="384.7" width="4.1" height="0.9" fill="#2a6a9a" opacity="0.45"/><rect x="227.0" y="384.7" width="2.5" height="0.9" fill="#3a7ab0" opacity="0.45"/><rect x="136.7" y="386.6" width="3.1" height="0.9" fill="#1e4f7a" opacity="0.45"/><rect x="142.1" y="386.6" width="4.8" height="0.9" fill="#3a7ab0" opacity="0.45"/><rect x="149.8" y="386.6" width="2.2" height="0.9" fill="#1e4f7a" opacity="0.45"/><rect x="153.1" y="386.6" width="5.0" height="0.9" fill="#e8f4f8" opacity="0.45"/><rect x="159.9" y="386.6" width="3.3" height="0.9" fill="#3a7ab0" opacity="0.45"/><rect x="164.4" y="386.6" width="2.0" height="0.9" fill="#e8f4f8" opacity="0.45"/><rect x="167.5" y="386.6" width="3.3" height="0.9" fill="#1a3a60" opacity="0.45"/><rect x="172.3" y="386.6" width="1.6" height="0.9" fill="#e8f4f8" opacity="0.45"/><rect x="175.3" y="386.6" width="3.2" height="0.9" fill="#1a3a60" opacity="0.45"/><rect x="181.4" y="386.6" width="2.3" height="0.9" fill="#2a6a9a" opacity="0.45"/><rect x="185.9" y="386.6" width="3.0" height="0.9" fill="#2a6a9a" opacity="0.45"/><rect x="191.5" y="386.6" width="2.5" height="0.9" fill="#1e4f7a" opacity="0.45"/><rect x="195.3" y="386.6" width="3.0" height="0.9" fill="#c84a4a" opacity="0.45"/><rect x="199.6" y="386.6" width="3.7" height="0.9" fill="#1e4f7a" opacity="0.45"/><rect x="206.3" y="386.6" width="1.9" height="0.9" fill="#1e4f7a" opacity="0.45"/><rect x="209.7" y="386.6" width="1.9" height="0.9" fill="#2a6a9a" opacity="0.45"/><rect x="214.2" y="386.6" width="3.5" height="0.9" fill="#1e4f7a" opacity="0.45"/><rect x="220.3" y="386.6" width="3.4" height="0.9" fill="#2a6a9a" opacity="0.45"/><rect x="225.9" y="386.6" width="4.0" height="0.9" fill="#2a6a9a" opacity="0.45"/><rect x="230.9" y="386.6" width="4.5" height="0.9" fill="#1e4f7a" opacity="0.45"/><rect x="134.9" y="388.5" width="2.7" height="0.9" fill="#e8f4f8" opacity="0.45"/><rect x="138.5" y="388.5" width="2.6" height="0.9" fill="#2a6a9a" opacity="0.45"/><rect x="141.9" y="388.5" width="1.8" height="0.9" fill="#c84a4a" opacity="0.45"/><rect x="145.5" y="388.5" width="3.1" height="0.9" fill="#1e4f7a" opacity="0.45"/><rect x="149.9" y="388.5" width="1.6" height="0.9" fill="#1a3a60" opacity="0.45"/><rect x="153.5" y="388.5" width="3.8" height="0.9" fill="#c84a4a" opacity="0.45"/><rect x="158.8" y="388.5" width="2.8" height="0.9" fill="#1e4f7a" opacity="0.45"/><rect x="163.3" y="388.5" width="1.9" height="0.9" fill="#2a6a9a" opacity="0.45"/><rect x="166.3" y="388.5" width="3.4" height="0.9" fill="#1e4f7a" opacity="0.45"/><rect x="171.9" y="388.5" width="3.8" height="0.9" fill="#3a7ab0" opacity="0.45"/><rect x="177.5" y="388.5" width="2.5" height="0.9" fill="#1a3a60" opacity="0.45"/><rect x="181.7" y="388.5" width="4.4" height="0.9" fill="#1e4f7a" opacity="0.45"/><rect x="187.3" y="388.5" width="3.3" height="0.9" fill="#1e4f7a" opacity="0.45"/><rect x="192.3" y="388.5" width="3.7" height="0.9" fill="#2a6a9a" opacity="0.45"/><rect x="197.5" y="388.5" width="4.3" height="0.9" fill="#c84a4a" opacity="0.45"/><rect x="202.8" y="388.5" width="2.6" height="0.9" fill="#e8f4f8" opacity="0.45"/><rect x="206.9" y="388.5" width="3.4" height="0.9" fill="#1a3a60" opacity="0.45"/><rect x="212.5" y="388.5" width="2.4" height="0.9" fill="#2a6a9a" opacity="0.45"/><rect x="217.3" y="388.5" width="2.4" height="0.9" fill="#e8f4f8" opacity="0.45"/><rect x="221.4" y="388.5" width="4.0" height="0.9" fill="#1e4f7a" opacity="0.45"/><rect x="226.5" y="388.5" width="2.2" height="0.9" fill="#1e4f7a" opacity="0.45"/><rect x="230.5" y="388.5" width="2.3" height="0.9" fill="#2a6a9a" opacity="0.45"/><rect x="134.3" y="390.4" width="3.1" height="0.9" fill="#1a3a60" opacity="0.45"/><rect x="139.2" y="390.4" width="3.9" height="0.9" fill="#e8f4f8" opacity="0.45"/><rect x="144.1" y="390.4" width="3.5" height="0.9" fill="#2a6a9a" opacity="0.45"/><rect x="149.8" y="390.4" width="3.9" height="0.9" fill="#1a3a60" opacity="0.45"/><rect x="156.1" y="390.4" width="1.9" height="0.9" fill="#1e4f7a" opacity="0.45"/><rect x="159.6" y="390.4" width="3.6" height="0.9" fill="#e8f4f8" opacity="0.45"/><rect x="165.9" y="390.4" width="3.3" height="0.9" fill="#1a3a60" opacity="0.45"/><rect x="170.6" y="390.4" width="2.7" height="0.9" fill="#2a6a9a" opacity="0.45"/><rect x="174.4" y="390.4" width="3.0" height="0.9" fill="#e8f4f8" opacity="0.45"/><rect x="178.9" y="390.4" width="4.2" height="0.9" fill="#2a6a9a" opacity="0.45"/><rect x="185.4" y="390.4" width="4.1" height="0.9" fill="#1e4f7a" opacity="0.45"/><rect x="190.3" y="390.4" width="4.8" height="0.9" fill="#2a6a9a" opacity="0.45"/><rect x="198.1" y="390.4" width="3.0" height="0.9" fill="#2a6a9a" opacity="0.45"/><rect x="202.8" y="390.4" width="4.4" height="0.9" fill="#e8f4f8" opacity="0.45"/><rect x="208.7" y="390.4" width="4.1" height="0.9" fill="#c84a4a" opacity="0.45"/><rect x="214.3" y="390.4" width="3.9" height="0.9" fill="#1e4f7a" opacity="0.45"/><rect x="219.4" y="390.4" width="3.2" height="0.9" fill="#1e4f7a" opacity="0.45"/><rect x="224.6" y="390.4" width="3.2" height="0.9" fill="#e8f4f8" opacity="0.45"/><rect x="230.4" y="390.4" width="1.7" height="0.9" fill="#1a3a60" opacity="0.45"/><rect x="136.9" y="392.3" width="4.1" height="0.9" fill="#2a6a9a" opacity="0.45"/><rect x="143.9" y="392.3" width="4.5" height="0.9" fill="#2a6a9a" opacity="0.45"/><rect x="150.7" y="392.3" width="2.9" height="0.9" fill="#1e4f7a" opacity="0.45"/><rect x="155.2" y="392.3" width="3.8" height="0.9" fill="#2a6a9a" opacity="0.45"/><rect x="161.2" y="392.3" width="4.7" height="0.9" fill="#2a6a9a" opacity="0.45"/><rect x="168.2" y="392.3" width="3.5" height="0.9" fill="#c84a4a" opacity="0.45"/><rect x="173.3" y="392.3" width="3.5" height="0.9" fill="#2a6a9a" opacity="0.45"/><rect x="179.3" y="392.3" width="2.8" height="0.9" fill="#1a3a60" opacity="0.45"/><rect x="184.1" y="392.3" width="4.3" height="0.9" fill="#1e4f7a" opacity="0.45"/><rect x="191.2" y="392.3" width="3.4" height="0.9" fill="#1e4f7a" opacity="0.45"/><rect x="195.7" y="392.3" width="1.7" height="0.9" fill="#1e4f7a" opacity="0.45"/><rect x="198.6" y="392.3" width="2.2" height="0.9" fill="#2a6a9a" opacity="0.45"/><rect x="202.5" y="392.3" width="3.0" height="0.9" fill="#e8f4f8" opacity="0.45"/><rect x="207.4" y="392.3" width="3.3" height="0.9" fill="#1e4f7a" opacity="0.45"/><rect x="213.3" y="392.3" width="3.9" height="0.9" fill="#1a3a60" opacity="0.45"/><rect x="219.4" y="392.3" width="4.4" height="0.9" fill="#1a3a60" opacity="0.45"/><rect x="225.9" y="392.3" width="4.7" height="0.9" fill="#1a3a60" opacity="0.45"/><rect x="136.0" y="394.2" width="3.1" height="0.9" fill="#c84a4a" opacity="0.45"/><rect x="140.3" y="394.2" width="1.7" height="0.9" fill="#3a7ab0" opacity="0.45"/><rect x="143.2" y="394.2" width="3.4" height="0.9" fill="#1e4f7a" opacity="0.45"/><rect x="147.8" y="394.2" width="2.9" height="0.9" fill="#1e4f7a" opacity="0.45"/><rect x="152.4" y="394.2" width="2.6" height="0.9" fill="#3a7ab0" opacity="0.45"/><rect x="156.6" y="394.2" width="4.2" height="0.9" fill="#1e4f7a" opacity="0.45"/><rect x="163.6" y="394.2" width="3.9" height="0.9" fill="#2a6a9a" opacity="0.45"/><rect x="168.6" y="394.2" width="4.7" height="0.9" fill="#1e4f7a" opacity="0.45"/><rect x="174.9" y="394.2" width="1.6" height="0.9" fill="#e8f4f8" opacity="0.45"/><rect x="178.5" y="394.2" width="2.2" height="0.9" fill="#2a6a9a" opacity="0.45"/><rect x="183.2" y="394.2" width="4.5" height="0.9" fill="#e8f4f8" opacity="0.45"/><rect x="190.3" y="394.2" width="3.0" height="0.9" fill="#1a3a60" opacity="0.45"/><rect x="196.0" y="394.2" width="4.0" height="0.9" fill="#e8f4f8" opacity="0.45"/><rect x="202.4" y="394.2" width="2.2" height="0.9" fill="#1a3a60" opacity="0.45"/><rect x="205.9" y="394.2" width="3.9" height="0.9" fill="#1e4f7a" opacity="0.45"/><rect x="211.0" y="394.2" width="3.4" height="0.9" fill="#2a6a9a" opacity="0.45"/><rect x="216.0" y="394.2" width="1.8" height="0.9" fill="#1a3a60" opacity="0.45"/><rect x="219.6" y="394.2" width="4.4" height="0.9" fill="#2a6a9a" opacity="0.45"/><rect x="225.1" y="394.2" width="3.4" height="0.9" fill="#e8f4f8" opacity="0.45"/><rect x="136.2" y="396.1" width="4.0" height="0.9" fill="#e8f4f8" opacity="0.45"/><rect x="143.1" y="396.1" width="4.4" height="0.9" fill="#3a7ab0" opacity="0.45"/><rect x="149.9" y="396.1" width="4.6" height="0.9" fill="#e8f4f8" opacity="0.45"/><rect x="155.6" y="396.1" width="1.5" height="0.9" fill="#1e4f7a" opacity="0.45"/><rect x="159.6" y="396.1" width="2.8" height="0.9" fill="#e8f4f8" opacity="0.45"/><rect x="163.7" y="396.1" width="3.5" height="0.9" fill="#3a7ab0" opacity="0.45"/><rect x="169.4" y="396.1" width="3.4" height="0.9" fill="#2a6a9a" opacity="0.45"/><rect x="174.4" y="396.1" width="3.5" height="0.9" fill="#1e4f7a" opacity="0.45"/><rect x="179.2" y="396.1" width="2.5" height="0.9" fill="#c84a4a" opacity="0.45"/><rect x="182.7" y="396.1" width="3.4" height="0.9" fill="#2a6a9a" opacity="0.45"/><rect x="187.0" y="396.1" width="3.8" height="0.9" fill="#3a7ab0" opacity="0.45"/><rect x="191.8" y="396.1" width="4.1" height="0.9" fill="#e8f4f8" opacity="0.45"/><rect x="197.1" y="396.1" width="2.7" height="0.9" fill="#1e4f7a" opacity="0.45"/><rect x="201.3" y="396.1" width="3.9" height="0.9" fill="#1e4f7a" opacity="0.45"/><rect x="208.0" y="396.1" width="4.6" height="0.9" fill="#1e4f7a" opacity="0.45"/><rect x="213.5" y="396.1" width="3.3" height="0.9" fill="#e8f4f8" opacity="0.45"/><rect x="218.1" y="396.1" width="2.6" height="0.9" fill="#e8f4f8" opacity="0.45"/><rect x="222.0" y="396.1" width="3.1" height="0.9" fill="#1e4f7a" opacity="0.45"/><rect x="228.0" y="396.1" width="3.3" height="0.9" fill="#2a6a9a" opacity="0.45"/><rect x="135.8" y="398.0" width="1.8" height="0.9" fill="#3a7ab0" opacity="0.45"/><rect x="139.0" y="398.0" width="1.8" height="0.9" fill="#3a7ab0" opacity="0.45"/><rect x="143.0" y="398.0" width="3.0" height="0.9" fill="#3a7ab0" opacity="0.45"/><rect x="148.7" y="398.0" width="2.7" height="0.9" fill="#1e4f7a" opacity="0.45"/><rect x="153.2" y="398.0" width="1.8" height="0.9" fill="#e8f4f8" opacity="0.45"/><rect x="156.6" y="398.0" width="3.9" height="0.9" fill="#e8f4f8" opacity="0.45"/><rect x="162.8" y="398.0" width="4.8" height="0.9" fill="#1a3a60" opacity="0.45"/><rect x="168.9" y="398.0" width="2.5" height="0.9" fill="#2a6a9a" opacity="0.45"/><rect x="173.2" y="398.0" width="4.6" height="0.9" fill="#c84a4a" opacity="0.45"/><rect x="179.4" y="398.0" width="3.3" height="0.9" fill="#c84a4a" opacity="0.45"/><rect x="184.7" y="398.0" width="3.1" height="0.9" fill="#2a6a9a" opacity="0.45"/><rect x="190.0" y="398.0" width="2.9" height="0.9" fill="#e8f4f8" opacity="0.45"/><rect x="193.9" y="398.0" width="1.7" height="0.9" fill="#3a7ab0" opacity="0.45"/><rect x="198.4" y="398.0" width="2.6" height="0.9" fill="#3a7ab0" opacity="0.45"/><rect x="202.7" y="398.0" width="4.8" height="0.9" fill="#1e4f7a" opacity="0.45"/><rect x="208.7" y="398.0" width="3.1" height="0.9" fill="#2a6a9a" opacity="0.45"/><rect x="212.6" y="398.0" width="1.9" height="0.9" fill="#1e4f7a" opacity="0.45"/><rect x="215.5" y="398.0" width="1.8" height="0.9" fill="#2a6a9a" opacity="0.45"/><rect x="218.7" y="398.0" width="3.8" height="0.9" fill="#1e4f7a" opacity="0.45"/><rect x="224.2" y="398.0" width="2.5" height="0.9" fill="#3a7ab0" opacity="0.45"/><rect x="228.7" y="398.0" width="5.0" height="0.9" fill="#1a3a60" opacity="0.45"/><rect x="136.5" y="399.9" width="3.7" height="0.9" fill="#1e4f7a" opacity="0.45"/><rect x="141.4" y="399.9" width="3.2" height="0.9" fill="#3a7ab0" opacity="0.45"/><rect x="147.2" y="399.9" width="1.8" height="0.9" fill="#e8f4f8" opacity="0.45"/><rect x="151.8" y="399.9" width="2.8" height="0.9" fill="#3a7ab0" opacity="0.45"/><rect x="157.4" y="399.9" width="4.8" height="0.9" fill="#3a7ab0" opacity="0.45"/><rect x="163.9" y="399.9" width="3.1" height="0.9" fill="#2a6a9a" opacity="0.45"/><rect x="168.1" y="399.9" width="4.1" height="0.9" fill="#1a3a60" opacity="0.45"/><rect x="174.0" y="399.9" width="2.5" height="0.9" fill="#2a6a9a" opacity="0.45"/><rect x="179.4" y="399.9" width="1.5" height="0.9" fill="#3a7ab0" opacity="0.45"/><rect x="182.5" y="399.9" width="2.2" height="0.9" fill="#1e4f7a" opacity="0.45"/><rect x="186.4" y="399.9" width="3.6" height="0.9" fill="#e8f4f8" opacity="0.45"/><rect x="191.1" y="399.9" width="2.8" height="0.9" fill="#2a6a9a" opacity="0.45"/><rect x="196.5" y="399.9" width="3.8" height="0.9" fill="#2a6a9a" opacity="0.45"/><rect x="202.7" y="399.9" width="4.6" height="0.9" fill="#c84a4a" opacity="0.45"/><rect x="208.1" y="399.9" width="1.9" height="0.9" fill="#1a3a60" opacity="0.45"/><rect x="211.5" y="399.9" width="2.7" height="0.9" fill="#1a3a60" opacity="0.45"/><rect x="215.7" y="399.9" width="4.5" height="0.9" fill="#1e4f7a" opacity="0.45"/><rect x="221.1" y="399.9" width="3.2" height="0.9" fill="#2a6a9a" opacity="0.45"/><rect x="226.2" y="399.9" width="2.2" height="0.9" fill="#2a6a9a" opacity="0.45"/><rect x="135.0" y="401.8" width="2.6" height="0.9" fill="#3a7ab0" opacity="0.45"/><rect x="139.4" y="401.8" width="1.6" height="0.9" fill="#1e4f7a" opacity="0.45"/><rect x="143.5" y="401.8" width="1.9" height="0.9" fill="#2a6a9a" opacity="0.45"/><rect x="146.4" y="401.8" width="4.6" height="0.9" fill="#1e4f7a" opacity="0.45"/><rect x="153.6" y="401.8" width="4.6" height="0.9" fill="#1a3a60" opacity="0.45"/><rect x="161.0" y="401.8" width="4.4" height="0.9" fill="#3a7ab0" opacity="0.45"/><rect x="166.8" y="401.8" width="2.1" height="0.9" fill="#2a6a9a" opacity="0.45"/><rect x="170.4" y="401.8" width="2.9" height="0.9" fill="#2a6a9a" opacity="0.45"/><rect x="175.6" y="401.8" width="3.2" height="0.9" fill="#1e4f7a" opacity="0.45"/><rect x="181.3" y="401.8" width="3.1" height="0.9" fill="#2a6a9a" opacity="0.45"/><rect x="187.2" y="401.8" width="4.1" height="0.9" fill="#1a3a60" opacity="0.45"/><rect x="192.5" y="401.8" width="3.8" height="0.9" fill="#1e4f7a" opacity="0.45"/><rect x="197.7" y="401.8" width="1.6" height="0.9" fill="#2a6a9a" opacity="0.45"/><rect x="200.2" y="401.8" width="2.0" height="0.9" fill="#1e4f7a" opacity="0.45"/><rect x="205.0" y="401.8" width="2.6" height="0.9" fill="#2a6a9a" opacity="0.45"/><rect x="210.5" y="401.8" width="3.2" height="0.9" fill="#1e4f7a" opacity="0.45"/><rect x="215.9" y="401.8" width="2.6" height="0.9" fill="#3a7ab0" opacity="0.45"/><rect x="220.1" y="401.8" width="2.4" height="0.9" fill="#2a6a9a" opacity="0.45"/><rect x="225.2" y="401.8" width="4.3" height="0.9" fill="#2a6a9a" opacity="0.45"/><rect x="136.1" y="403.7" width="3.6" height="0.9" fill="#2a6a9a" opacity="0.45"/><rect x="140.9" y="403.7" width="1.5" height="0.9" fill="#2a6a9a" opacity="0.45"/><rect x="143.4" y="403.7" width="2.3" height="0.9" fill="#3a7ab0" opacity="0.45"/><rect x="148.0" y="403.7" width="3.5" height="0.9" fill="#2a6a9a" opacity="0.45"/><rect x="154.2" y="403.7" width="2.0" height="0.9" fill="#2a6a9a" opacity="0.45"/><rect x="157.3" y="403.7" width="3.6" height="0.9" fill="#1a3a60" opacity="0.45"/><rect x="162.7" y="403.7" width="4.6" height="0.9" fill="#2a6a9a" opacity="0.45"/><rect x="169.6" y="403.7" width="1.8" height="0.9" fill="#2a6a9a" opacity="0.45"/><rect x="173.5" y="403.7" width="4.3" height="0.9" fill="#1e4f7a" opacity="0.45"/><rect x="180.1" y="403.7" width="3.7" height="0.9" fill="#1a3a60" opacity="0.45"/><rect x="185.6" y="403.7" width="3.3" height="0.9" fill="#1e4f7a" opacity="0.45"/><rect x="190.4" y="403.7" width="3.5" height="0.9" fill="#1a3a60" opacity="0.45"/><rect x="195.0" y="403.7" width="4.3" height="0.9" fill="#3a7ab0" opacity="0.45"/><rect x="200.7" y="403.7" width="3.1" height="0.9" fill="#1a3a60" opacity="0.45"/><rect x="206.0" y="403.7" width="2.7" height="0.9" fill="#2a6a9a" opacity="0.45"/><rect x="210.5" y="403.7" width="3.5" height="0.9" fill="#2a6a9a" opacity="0.45"/><rect x="216.3" y="403.7" width="3.6" height="0.9" fill="#1e4f7a" opacity="0.45"/><rect x="222.8" y="403.7" width="2.1" height="0.9" fill="#1a3a60" opacity="0.45"/><rect x="225.8" y="403.7" width="2.4" height="0.9" fill="#2a6a9a" opacity="0.45"/><rect x="229.6" y="403.7" width="4.4" height="0.9" fill="#2a6a9a" opacity="0.45"/><rect x="135.1" y="405.6" width="3.9" height="0.9" fill="#1a3a60" opacity="0.45"/><rect x="140.3" y="405.6" width="3.6" height="0.9" fill="#2a6a9a" opacity="0.45"/><rect x="146.5" y="405.6" width="2.8" height="0.9" fill="#2a6a9a" opacity="0.45"/><rect x="150.3" y="405.6" width="2.9" height="0.9" fill="#1e4f7a" opacity="0.45"/><rect x="154.9" y="405.6" width="4.6" height="0.9" fill="#e8f4f8" opacity="0.45"/><rect x="162.3" y="405.6" width="1.7" height="0.9" fill="#3a7ab0" opacity="0.45"/><rect x="166.2" y="405.6" width="1.7" height="0.9" fill="#c84a4a" opacity="0.45"/><rect x="170.4" y="405.6" width="2.4" height="0.9" fill="#c84a4a" opacity="0.45"/><rect x="175.1" y="405.6" width="2.8" height="0.9" fill="#1a3a60" opacity="0.45"/><rect x="180.4" y="405.6" width="3.9" height="0.9" fill="#2a6a9a" opacity="0.45"/><rect x="187.1" y="405.6" width="4.0" height="0.9" fill="#2a6a9a" opacity="0.45"/><rect x="193.2" y="405.6" width="4.2" height="0.9" fill="#1e4f7a" opacity="0.45"/><rect x="198.8" y="405.6" width="4.9" height="0.9" fill="#e8f4f8" opacity="0.45"/><rect x="205.6" y="405.6" width="3.3" height="0.9" fill="#2a6a9a" opacity="0.45"/><rect x="211.5" y="405.6" width="3.1" height="0.9" fill="#e8f4f8" opacity="0.45"/><rect x="216.4" y="405.6" width="3.5" height="0.9" fill="#2a6a9a" opacity="0.45"/><rect x="221.4" y="405.6" width="4.0" height="0.9" fill="#1e4f7a" opacity="0.45"/><rect x="226.4" y="405.6" width="4.2" height="0.9" fill="#e8f4f8" opacity="0.45"/><rect x="136.4" y="407.5" width="4.5" height="0.9" fill="#1e4f7a" opacity="0.45"/><rect x="141.7" y="407.5" width="3.9" height="0.9" fill="#1e4f7a" opacity="0.45"/><rect x="148.6" y="407.5" width="4.3" height="0.9" fill="#1e4f7a" opacity="0.45"/><rect x="155.5" y="407.5" width="3.0" height="0.9" fill="#2a6a9a" opacity="0.45"/><rect x="161.4" y="407.5" width="4.1" height="0.9" fill="#3a7ab0" opacity="0.45"/><rect x="168.1" y="407.5" width="3.0" height="0.9" fill="#c84a4a" opacity="0.45"/><rect x="173.4" y="407.5" width="4.5" height="0.9" fill="#2a6a9a" opacity="0.45"/><rect x="180.8" y="407.5" width="3.2" height="0.9" fill="#e8f4f8" opacity="0.45"/><rect x="186.7" y="407.5" width="4.6" height="0.9" fill="#3a7ab0" opacity="0.45"/><rect x="192.2" y="407.5" width="4.9" height="0.9" fill="#3a7ab0" opacity="0.45"/><rect x="197.9" y="407.5" width="5.0" height="0.9" fill="#2a6a9a" opacity="0.45"/><rect x="204.1" y="407.5" width="4.8" height="0.9" fill="#2a6a9a" opacity="0.45"/><rect x="211.8" y="407.5" width="2.3" height="0.9" fill="#2a6a9a" opacity="0.45"/><rect x="215.9" y="407.5" width="1.7" height="0.9" fill="#e8f4f8" opacity="0.45"/><rect x="220.4" y="407.5" width="3.2" height="0.9" fill="#3a7ab0" opacity="0.45"/><rect x="225.3" y="407.5" width="2.3" height="0.9" fill="#e8f4f8" opacity="0.45"/><rect x="228.3" y="407.5" width="1.9" height="0.9" fill="#1e4f7a" opacity="0.45"/><rect x="134.9" y="409.4" width="2.3" height="0.9" fill="#3a7ab0" opacity="0.45"/><rect x="139.7" y="409.4" width="5.0" height="0.9" fill="#1e4f7a" opacity="0.45"/><rect x="146.8" y="409.4" width="3.2" height="0.9" fill="#1e4f7a" opacity="0.45"/><rect x="152.0" y="409.4" width="3.7" height="0.9" fill="#1e4f7a" opacity="0.45"/><rect x="156.8" y="409.4" width="4.2" height="0.9" fill="#1e4f7a" opacity="0.45"/><rect x="162.1" y="409.4" width="2.6" height="0.9" fill="#1e4f7a" opacity="0.45"/><rect x="166.6" y="409.4" width="4.6" height="0.9" fill="#3a7ab0" opacity="0.45"/><rect x="172.7" y="409.4" width="2.1" height="0.9" fill="#e8f4f8" opacity="0.45"/><rect x="177.6" y="409.4" width="3.0" height="0.9" fill="#1e4f7a" opacity="0.45"/><rect x="181.6" y="409.4" width="4.4" height="0.9" fill="#c84a4a" opacity="0.45"/><rect x="188.4" y="409.4" width="4.1" height="0.9" fill="#1e4f7a" opacity="0.45"/><rect x="193.3" y="409.4" width="2.6" height="0.9" fill="#e8f4f8" opacity="0.45"/><rect x="197.0" y="409.4" width="4.0" height="0.9" fill="#1e4f7a" opacity="0.45"/><rect x="202.6" y="409.4" width="4.9" height="0.9" fill="#2a6a9a" opacity="0.45"/><rect x="208.9" y="409.4" width="3.0" height="0.9" fill="#c84a4a" opacity="0.45"/><rect x="212.8" y="409.4" width="3.2" height="0.9" fill="#e8f4f8" opacity="0.45"/><rect x="217.0" y="409.4" width="3.3" height="0.9" fill="#1e4f7a" opacity="0.45"/><rect x="221.6" y="409.4" width="3.0" height="0.9" fill="#1e4f7a" opacity="0.45"/><rect x="226.7" y="409.4" width="3.7" height="0.9" fill="#c84a4a" opacity="0.45"/><rect x="135.6" y="411.3" width="3.9" height="0.9" fill="#e8f4f8" opacity="0.45"/><rect x="141.4" y="411.3" width="2.8" height="0.9" fill="#1e4f7a" opacity="0.45"/><rect x="146.5" y="411.3" width="1.6" height="0.9" fill="#1a3a60" opacity="0.45"/><rect x="149.8" y="411.3" width="1.5" height="0.9" fill="#e8f4f8" opacity="0.45"/><rect x="152.9" y="411.3" width="2.3" height="0.9" fill="#3a7ab0" opacity="0.45"/><rect x="158.0" y="411.3" width="2.4" height="0.9" fill="#2a6a9a" opacity="0.45"/><rect x="163.1" y="411.3" width="3.2" height="0.9" fill="#1e4f7a" opacity="0.45"/><rect x="167.6" y="411.3" width="3.7" height="0.9" fill="#1a3a60" opacity="0.45"/><rect x="173.3" y="411.3" width="5.0" height="0.9" fill="#e8f4f8" opacity="0.45"/><rect x="179.2" y="411.3" width="4.6" height="0.9" fill="#1e4f7a" opacity="0.45"/><rect x="186.0" y="411.3" width="1.7" height="0.9" fill="#e8f4f8" opacity="0.45"/><rect x="189.6" y="411.3" width="4.5" height="0.9" fill="#1e4f7a" opacity="0.45"/><rect x="195.5" y="411.3" width="2.3" height="0.9" fill="#1e4f7a" opacity="0.45"/><rect x="200.3" y="411.3" width="3.0" height="0.9" fill="#2a6a9a" opacity="0.45"/><rect x="205.1" y="411.3" width="4.6" height="0.9" fill="#e8f4f8" opacity="0.45"/><rect x="211.8" y="411.3" width="4.5" height="0.9" fill="#e8f4f8" opacity="0.45"/><rect x="219.2" y="411.3" width="4.5" height="0.9" fill="#e8f4f8" opacity="0.45"/><rect x="224.7" y="411.3" width="3.1" height="0.9" fill="#1e4f7a" opacity="0.45"/><rect x="230.8" y="411.3" width="2.6" height="0.9" fill="#3a7ab0" opacity="0.45"/><rect x="136.8" y="413.2" width="4.0" height="0.9" fill="#1e4f7a" opacity="0.45"/><rect x="142.8" y="413.2" width="3.8" height="0.9" fill="#3a7ab0" opacity="0.45"/><rect x="149.4" y="413.2" width="3.9" height="0.9" fill="#1e4f7a" opacity="0.45"/><rect x="155.7" y="413.2" width="2.8" height="0.9" fill="#2a6a9a" opacity="0.45"/><rect x="161.2" y="413.2" width="2.8" height="0.9" fill="#e8f4f8" opacity="0.45"/><rect x="165.6" y="413.2" width="2.4" height="0.9" fill="#e8f4f8" opacity="0.45"/><rect x="170.7" y="413.2" width="2.3" height="0.9" fill="#2a6a9a" opacity="0.45"/><rect x="175.4" y="413.2" width="4.8" height="0.9" fill="#1e4f7a" opacity="0.45"/><rect x="181.7" y="413.2" width="1.7" height="0.9" fill="#2a6a9a" opacity="0.45"/><rect x="186.2" y="413.2" width="3.0" height="0.9" fill="#c84a4a" opacity="0.45"/><rect x="191.4" y="413.2" width="3.2" height="0.9" fill="#1e4f7a" opacity="0.45"/><rect x="196.3" y="413.2" width="2.2" height="0.9" fill="#2a6a9a" opacity="0.45"/><rect x="200.1" y="413.2" width="3.5" height="0.9" fill="#3a7ab0" opacity="0.45"/><rect x="206.5" y="413.2" width="4.8" height="0.9" fill="#3a7ab0" opacity="0.45"/><rect x="212.4" y="413.2" width="2.7" height="0.9" fill="#2a6a9a" opacity="0.45"/><rect x="217.0" y="413.2" width="2.1" height="0.9" fill="#1e4f7a" opacity="0.45"/><rect x="221.6" y="413.2" width="2.6" height="0.9" fill="#1e4f7a" opacity="0.45"/><rect x="226.4" y="413.2" width="2.8" height="0.9" fill="#2a6a9a" opacity="0.45"/><rect x="230.2" y="413.2" width="2.0" height="0.9" fill="#3a7ab0" opacity="0.45"/><rect x="135.5" y="415.1" width="3.9" height="0.9" fill="#e8f4f8" opacity="0.45"/><rect x="140.6" y="415.1" width="2.9" height="0.9" fill="#2a6a9a" opacity="0.45"/><rect x="146.3" y="415.1" width="3.7" height="0.9" fill="#1a3a60" opacity="0.45"/><rect x="150.8" y="415.1" width="4.3" height="0.9" fill="#1a3a60" opacity="0.45"/><rect x="156.4" y="415.1" width="3.0" height="0.9" fill="#2a6a9a" opacity="0.45"/><rect x="161.2" y="415.1" width="4.0" height="0.9" fill="#1a3a60" opacity="0.45"/><rect x="166.7" y="415.1" width="2.4" height="0.9" fill="#1e4f7a" opacity="0.45"/><rect x="171.8" y="415.1" width="4.5" height="0.9" fill="#1a3a60" opacity="0.45"/><rect x="177.9" y="415.1" width="3.0" height="0.9" fill="#1e4f7a" opacity="0.45"/><rect x="183.3" y="415.1" width="2.3" height="0.9" fill="#2a6a9a" opacity="0.45"/><rect x="187.9" y="415.1" width="4.9" height="0.9" fill="#3a7ab0" opacity="0.45"/><rect x="194.2" y="415.1" width="4.6" height="0.9" fill="#1a3a60" opacity="0.45"/><rect x="200.5" y="415.1" width="2.1" height="0.9" fill="#1a3a60" opacity="0.45"/><rect x="205.2" y="415.1" width="2.5" height="0.9" fill="#1a3a60" opacity="0.45"/><rect x="209.4" y="415.1" width="3.1" height="0.9" fill="#2a6a9a" opacity="0.45"/><rect x="214.0" y="415.1" width="1.6" height="0.9" fill="#2a6a9a" opacity="0.45"/><rect x="217.9" y="415.1" width="3.1" height="0.9" fill="#1a3a60" opacity="0.45"/><rect x="223.5" y="415.1" width="2.3" height="0.9" fill="#1e4f7a" opacity="0.45"/><rect x="228.4" y="415.1" width="1.8" height="0.9" fill="#1e4f7a" opacity="0.45"/><rect x="136.9" y="417.0" width="3.7" height="0.9" fill="#3a7ab0" opacity="0.45"/><rect x="143.6" y="417.0" width="3.2" height="0.9" fill="#e8f4f8" opacity="0.45"/><rect x="147.7" y="417.0" width="3.6" height="0.9" fill="#3a7ab0" opacity="0.45"/><rect x="153.8" y="417.0" width="3.5" height="0.9" fill="#1e4f7a" opacity="0.45"/><rect x="160.0" y="417.0" width="5.0" height="0.9" fill="#1a3a60" opacity="0.45"/><rect x="166.1" y="417.0" width="4.8" height="0.9" fill="#1e4f7a" opacity="0.45"/><rect x="172.9" y="417.0" width="4.7" height="0.9" fill="#1e4f7a" opacity="0.45"/><rect x="179.1" y="417.0" width="2.0" height="0.9" fill="#1a3a60" opacity="0.45"/><rect x="183.5" y="417.0" width="4.2" height="0.9" fill="#3a7ab0" opacity="0.45"/><rect x="188.7" y="417.0" width="3.1" height="0.9" fill="#1e4f7a" opacity="0.45"/><rect x="193.0" y="417.0" width="3.8" height="0.9" fill="#1e4f7a" opacity="0.45"/><rect x="198.3" y="417.0" width="1.5" height="0.9" fill="#1a3a60" opacity="0.45"/><rect x="201.7" y="417.0" width="2.2" height="0.9" fill="#1a3a60" opacity="0.45"/><rect x="206.9" y="417.0" width="2.3" height="0.9" fill="#e8f4f8" opacity="0.45"/><rect x="211.1" y="417.0" width="3.2" height="0.9" fill="#1e4f7a" opacity="0.45"/><rect x="215.7" y="417.0" width="3.4" height="0.9" fill="#1a3a60" opacity="0.45"/><rect x="220.7" y="417.0" width="3.8" height="0.9" fill="#e8f4f8" opacity="0.45"/><rect x="225.3" y="417.0" width="2.0" height="0.9" fill="#e8f4f8" opacity="0.45"/><rect x="229.5" y="417.0" width="2.0" height="0.9" fill="#1e4f7a" opacity="0.45"/><rect x="134.1" y="418.9" width="2.1" height="0.9" fill="#3a7ab0" opacity="0.45"/><rect x="138.3" y="418.9" width="3.1" height="0.9" fill="#e8f4f8" opacity="0.45"/><rect x="143.3" y="418.9" width="4.4" height="0.9" fill="#3a7ab0" opacity="0.45"/><rect x="150.2" y="418.9" width="3.2" height="0.9" fill="#e8f4f8" opacity="0.45"/><rect x="154.5" y="418.9" width="4.0" height="0.9" fill="#1a3a60" opacity="0.45"/><rect x="160.9" y="418.9" width="3.9" height="0.9" fill="#1e4f7a" opacity="0.45"/><rect x="166.1" y="418.9" width="4.3" height="0.9" fill="#1a3a60" opacity="0.45"/><rect x="172.2" y="418.9" width="2.0" height="0.9" fill="#3a7ab0" opacity="0.45"/><rect x="176.4" y="418.9" width="3.7" height="0.9" fill="#1e4f7a" opacity="0.45"/><rect x="181.7" y="418.9" width="2.9" height="0.9" fill="#1e4f7a" opacity="0.45"/><rect x="185.6" y="418.9" width="1.8" height="0.9" fill="#c84a4a" opacity="0.45"/><rect x="188.4" y="418.9" width="2.2" height="0.9" fill="#e8f4f8" opacity="0.45"/><rect x="192.4" y="418.9" width="4.4" height="0.9" fill="#3a7ab0" opacity="0.45"/><rect x="198.1" y="418.9" width="2.8" height="0.9" fill="#2a6a9a" opacity="0.45"/><rect x="201.9" y="418.9" width="3.8" height="0.9" fill="#2a6a9a" opacity="0.45"/><rect x="207.1" y="418.9" width="4.1" height="0.9" fill="#1a3a60" opacity="0.45"/><rect x="212.8" y="418.9" width="4.6" height="0.9" fill="#3a7ab0" opacity="0.45"/><rect x="220.3" y="418.9" width="3.6" height="0.9" fill="#1e4f7a" opacity="0.45"/><rect x="224.7" y="418.9" width="3.0" height="0.9" fill="#2a6a9a" opacity="0.45"/><rect x="228.6" y="418.9" width="1.5" height="0.9" fill="#3a7ab0" opacity="0.45"/><rect x="135.5" y="420.8" width="3.2" height="0.9" fill="#e8f4f8" opacity="0.45"/><rect x="140.7" y="420.8" width="3.9" height="0.9" fill="#3a7ab0" opacity="0.45"/><rect x="145.8" y="420.8" width="4.3" height="0.9" fill="#1e4f7a" opacity="0.45"/><rect x="152.6" y="420.8" width="3.5" height="0.9" fill="#1e4f7a" opacity="0.45"/><rect x="158.2" y="420.8" width="4.4" height="0.9" fill="#1e4f7a" opacity="0.45"/><rect x="165.2" y="420.8" width="3.2" height="0.9" fill="#1e4f7a" opacity="0.45"/><rect x="170.3" y="420.8" width="2.3" height="0.9" fill="#e8f4f8" opacity="0.45"/><rect x="175.4" y="420.8" width="4.0" height="0.9" fill="#3a7ab0" opacity="0.45"/><rect x="180.9" y="420.8" width="1.6" height="0.9" fill="#1e4f7a" opacity="0.45"/><rect x="184.9" y="420.8" width="3.1" height="0.9" fill="#2a6a9a" opacity="0.45"/><rect x="189.3" y="420.8" width="4.9" height="0.9" fill="#1a3a60" opacity="0.45"/><rect x="196.0" y="420.8" width="2.2" height="0.9" fill="#2a6a9a" opacity="0.45"/><rect x="201.2" y="420.8" width="2.1" height="0.9" fill="#2a6a9a" opacity="0.45"/><rect x="204.4" y="420.8" width="3.6" height="0.9" fill="#e8f4f8" opacity="0.45"/><rect x="208.8" y="420.8" width="4.6" height="0.9" fill="#1a3a60" opacity="0.45"/><rect x="215.2" y="420.8" width="1.6" height="0.9" fill="#1e4f7a" opacity="0.45"/><rect x="218.8" y="420.8" width="3.0" height="0.9" fill="#1e4f7a" opacity="0.45"/><rect x="222.9" y="420.8" width="4.7" height="0.9" fill="#2a6a9a" opacity="0.45"/><rect x="228.8" y="420.8" width="3.4" height="0.9" fill="#3a7ab0" opacity="0.45"/><rect x="134.6" y="422.7" width="3.8" height="0.9" fill="#1a3a60" opacity="0.45"/><rect x="141.3" y="422.7" width="3.9" height="0.9" fill="#2a6a9a" opacity="0.45"/><rect x="147.7" y="422.7" width="4.0" height="0.9" fill="#e8f4f8" opacity="0.45"/><rect x="153.1" y="422.7" width="2.7" height="0.9" fill="#2a6a9a" opacity="0.45"/><rect x="158.7" y="422.7" width="4.8" height="0.9" fill="#1a3a60" opacity="0.45"/><rect x="165.0" y="422.7" width="2.4" height="0.9" fill="#1e4f7a" opacity="0.45"/><rect x="170.3" y="422.7" width="4.7" height="0.9" fill="#1e4f7a" opacity="0.45"/><rect x="176.1" y="422.7" width="1.9" height="0.9" fill="#3a7ab0" opacity="0.45"/><rect x="179.4" y="422.7" width="4.5" height="0.9" fill="#2a6a9a" opacity="0.45"/><rect x="186.1" y="422.7" width="4.5" height="0.9" fill="#2a6a9a" opacity="0.45"/><rect x="192.5" y="422.7" width="3.4" height="0.9" fill="#2a6a9a" opacity="0.45"/><rect x="198.5" y="422.7" width="3.8" height="0.9" fill="#2a6a9a" opacity="0.45"/><rect x="204.7" y="422.7" width="3.0" height="0.9" fill="#1e4f7a" opacity="0.45"/><rect x="208.6" y="422.7" width="2.7" height="0.9" fill="#2a6a9a" opacity="0.45"/><rect x="212.9" y="422.7" width="3.5" height="0.9" fill="#1e4f7a" opacity="0.45"/><rect x="218.8" y="422.7" width="4.1" height="0.9" fill="#1a3a60" opacity="0.45"/><rect x="225.8" y="422.7" width="3.9" height="0.9" fill="#1a3a60" opacity="0.45"/><rect x="230.8" y="422.7" width="2.7" height="0.9" fill="#e8f4f8" opacity="0.45"/><rect x="135.2" y="424.6" width="4.2" height="0.9" fill="#1e4f7a" opacity="0.45"/><rect x="141.5" y="424.6" width="2.6" height="0.9" fill="#1a3a60" opacity="0.45"/><rect x="145.9" y="424.6" width="4.8" height="0.9" fill="#e8f4f8" opacity="0.45"/><rect x="153.7" y="424.6" width="4.8" height="0.9" fill="#1e4f7a" opacity="0.45"/><rect x="161.3" y="424.6" width="2.8" height="0.9" fill="#e8f4f8" opacity="0.45"/><rect x="166.7" y="424.6" width="3.5" height="0.9" fill="#2a6a9a" opacity="0.45"/><rect x="171.4" y="424.6" width="4.9" height="0.9" fill="#1e4f7a" opacity="0.45"/><rect x="177.7" y="424.6" width="4.9" height="0.9" fill="#1e4f7a" opacity="0.45"/><rect x="183.8" y="424.6" width="2.1" height="0.9" fill="#1a3a60" opacity="0.45"/><rect x="186.8" y="424.6" width="4.7" height="0.9" fill="#1a3a60" opacity="0.45"/><rect x="193.8" y="424.6" width="4.6" height="0.9" fill="#1a3a60" opacity="0.45"/><rect x="200.8" y="424.6" width="2.4" height="0.9" fill="#e8f4f8" opacity="0.45"/><rect x="204.3" y="424.6" width="2.5" height="0.9" fill="#e8f4f8" opacity="0.45"/><rect x="208.5" y="424.6" width="4.3" height="0.9" fill="#1e4f7a" opacity="0.45"/><rect x="213.9" y="424.6" width="4.9" height="0.9" fill="#3a7ab0" opacity="0.45"/><rect x="221.3" y="424.6" width="2.3" height="0.9" fill="#2a6a9a" opacity="0.45"/><rect x="225.0" y="424.6" width="2.1" height="0.9" fill="#3a7ab0" opacity="0.45"/><rect x="228.8" y="424.6" width="4.7" height="0.9" fill="#1a3a60" opacity="0.45"/><rect x="136.1" y="426.5" width="1.8" height="0.9" fill="#3a7ab0" opacity="0.45"/><rect x="139.0" y="426.5" width="2.9" height="0.9" fill="#1e4f7a" opacity="0.45"/><rect x="144.2" y="426.5" width="3.7" height="0.9" fill="#1a3a60" opacity="0.45"/><rect x="150.7" y="426.5" width="3.6" height="0.9" fill="#3a7ab0" opacity="0.45"/><rect x="155.3" y="426.5" width="4.6" height="0.9" fill="#2a6a9a" opacity="0.45"/><rect x="161.1" y="426.5" width="3.4" height="0.9" fill="#e8f4f8" opacity="0.45"/><rect x="166.4" y="426.5" width="1.6" height="0.9" fill="#e8f4f8" opacity="0.45"/><rect x="170.6" y="426.5" width="3.7" height="0.9" fill="#3a7ab0" opacity="0.45"/><rect x="175.5" y="426.5" width="4.7" height="0.9" fill="#e8f4f8" opacity="0.45"/><rect x="182.2" y="426.5" width="2.5" height="0.9" fill="#e8f4f8" opacity="0.45"/><rect x="185.8" y="426.5" width="4.2" height="0.9" fill="#3a7ab0" opacity="0.45"/><rect x="192.8" y="426.5" width="2.8" height="0.9" fill="#1a3a60" opacity="0.45"/><rect x="196.7" y="426.5" width="4.6" height="0.9" fill="#2a6a9a" opacity="0.45"/><rect x="202.6" y="426.5" width="2.4" height="0.9" fill="#1e4f7a" opacity="0.45"/><rect x="207.3" y="426.5" width="2.1" height="0.9" fill="#e8f4f8" opacity="0.45"/><rect x="211.3" y="426.5" width="3.1" height="0.9" fill="#2a6a9a" opacity="0.45"/><rect x="217.4" y="426.5" width="2.9" height="0.9" fill="#c84a4a" opacity="0.45"/><rect x="221.2" y="426.5" width="2.0" height="0.9" fill="#3a7ab0" opacity="0.45"/><rect x="225.3" y="426.5" width="1.5" height="0.9" fill="#2a6a9a" opacity="0.45"/><rect x="229.8" y="426.5" width="2.2" height="0.9" fill="#3a7ab0" opacity="0.45"/><rect x="136.9" y="428.4" width="3.7" height="0.9" fill="#1e4f7a" opacity="0.45"/><rect x="141.7" y="428.4" width="3.0" height="0.9" fill="#1e4f7a" opacity="0.45"/><rect x="147.5" y="428.4" width="4.0" height="0.9" fill="#e8f4f8" opacity="0.45"/><rect x="154.3" y="428.4" width="3.8" height="0.9" fill="#1e4f7a" opacity="0.45"/><rect x="160.1" y="428.4" width="4.3" height="0.9" fill="#2a6a9a" opacity="0.45"/><rect x="166.9" y="428.4" width="4.0" height="0.9" fill="#e8f4f8" opacity="0.45"/><rect x="172.1" y="428.4" width="3.9" height="0.9" fill="#3a7ab0" opacity="0.45"/><rect x="177.9" y="428.4" width="1.8" height="0.9" fill="#1e4f7a" opacity="0.45"/><rect x="182.1" y="428.4" width="2.5" height="0.9" fill="#1e4f7a" opacity="0.45"/><rect x="187.4" y="428.4" width="2.0" height="0.9" fill="#1e4f7a" opacity="0.45"/><rect x="190.4" y="428.4" width="2.4" height="0.9" fill="#e8f4f8" opacity="0.45"/><rect x="194.1" y="428.4" width="4.8" height="0.9" fill="#e8f4f8" opacity="0.45"/><rect x="200.6" y="428.4" width="3.2" height="0.9" fill="#3a7ab0" opacity="0.45"/><rect x="206.5" y="428.4" width="2.6" height="0.9" fill="#2a6a9a" opacity="0.45"/><rect x="210.9" y="428.4" width="4.9" height="0.9" fill="#1e4f7a" opacity="0.45"/><rect x="216.6" y="428.4" width="4.5" height="0.9" fill="#2a6a9a" opacity="0.45"/><rect x="222.7" y="428.4" width="4.6" height="0.9" fill="#1a3a60" opacity="0.45"/><rect x="228.2" y="428.4" width="3.7" height="0.9" fill="#3a7ab0" opacity="0.45"/><rect x="134.3" y="430.3" width="3.4" height="0.9" fill="#1a3a60" opacity="0.45"/><rect x="139.9" y="430.3" width="4.6" height="0.9" fill="#2a6a9a" opacity="0.45"/><rect x="146.0" y="430.3" width="3.0" height="0.9" fill="#2a6a9a" opacity="0.45"/><rect x="150.3" y="430.3" width="4.3" height="0.9" fill="#1a3a60" opacity="0.45"/><rect x="157.2" y="430.3" width="4.7" height="0.9" fill="#2a6a9a" opacity="0.45"/><rect x="163.8" y="430.3" width="3.9" height="0.9" fill="#3a7ab0" opacity="0.45"/><rect x="169.9" y="430.3" width="3.0" height="0.9" fill="#2a6a9a" opacity="0.45"/><rect x="174.0" y="430.3" width="2.4" height="0.9" fill="#3a7ab0" opacity="0.45"/><rect x="177.8" y="430.3" width="3.9" height="0.9" fill="#1a3a60" opacity="0.45"/><rect x="183.8" y="430.3" width="2.2" height="0.9" fill="#1e4f7a" opacity="0.45"/><rect x="187.6" y="430.3" width="4.2" height="0.9" fill="#3a7ab0" opacity="0.45"/><rect x="193.9" y="430.3" width="4.6" height="0.9" fill="#2a6a9a" opacity="0.45"/><rect x="199.3" y="430.3" width="2.6" height="0.9" fill="#1e4f7a" opacity="0.45"/><rect x="204.6" y="430.3" width="5.0" height="0.9" fill="#e8f4f8" opacity="0.45"/><rect x="212.1" y="430.3" width="2.7" height="0.9" fill="#3a7ab0" opacity="0.45"/><rect x="217.4" y="430.3" width="2.4" height="0.9" fill="#2a6a9a" opacity="0.45"/><rect x="222.7" y="430.3" width="5.0" height="0.9" fill="#c84a4a" opacity="0.45"/><rect x="228.9" y="430.3" width="2.9" height="0.9" fill="#1e4f7a" opacity="0.45"/></g>
<ellipse cx="182.2" cy="390.5" rx="13" ry="10" fill="#1b8fd4"/>
<ellipse cx="182" cy="391" rx="10" ry="8" fill="#2a7fc0" opacity="0.5"/>
<ellipse cx="181.6" cy="392.2" rx="7.2" ry="6" fill="#e2620e"/>
<ellipse cx="181" cy="391.5" rx="4.5" ry="3.2" fill="#f08a30" opacity="0.5"/>
<!-- database -->
<path d="M222.3 448.2 V479.4 A27.1 13.4 0 0 0 276.5 479.4 V448.2 Z" fill="url(#dbside)"/>
<path d="M222.3 448.20000000000005 A27.1 13.4 0 0 0 276.5 448.20000000000005 L276.5 451.0 A27.1 13.4 0 0 1 222.3 451.0 Z" fill="url(#dbband)"/>
<path d="M222.3 454.1 A27.1 13.4 0 0 0 276.5 454.1 L276.5 457.5 A27.1 13.4 0 0 1 222.3 457.5 Z" fill="url(#dbband)"/>
<path d="M222.3 459.90000000000003 A27.1 13.4 0 0 0 276.5 459.90000000000003 L276.5 463.3 A27.1 13.4 0 0 1 222.3 463.3 Z" fill="url(#dbband)"/>
<path d="M222.3 465.8 A27.1 13.4 0 0 0 276.5 465.8 L276.5 469.20000000000005 A27.1 13.4 0 0 1 222.3 469.20000000000005 Z" fill="url(#dbband)"/>
<path d="M222.3 471.6 A27.1 13.4 0 0 0 276.5 471.6 L276.5 475.0 A27.1 13.4 0 0 1 222.3 475.0 Z" fill="url(#dbband)"/>
<ellipse cx="249.4" cy="448.2" rx="27.1" ry="13.4" fill="url(#dbtop)"/>
</svg>
<div id="title" class="a">大数据分析让农业信息化建设<span class="q"></span>创新<span class="q"></span>有所依</div>
<div class="a h" style="left:156.4px;top:115px">物的维度</div>
<div class="a h" style="left:496.2px;top:113.8px">人的维度</div>
<div class="a h" style="left:841.3px;top:115px">社会化维度</div>

<div class="a ct" style="left:337px;top:411px">精确生产</div>
<div class="a ct" style="left:497px;top:411.5px">质量追溯</div>
<div class="a ct" style="left:657px;top:408px">农村电商</div>
<div class="a" style="left:814px;top:411.5px;font-size:18.5px;font-weight:bold;color:#ff0000">农业物联网</div>
<div class="a ct" style="left:979.5px;top:410.3px">科学决策</div>
<div class="a" style="left:579px;top:308.3px;font-size:27px;font-weight:bold;-webkit-text-stroke:0.4px #000">智慧农业</div>
<div class="a m" style="left:250px;top:363px;font-size:19px">农业</div>
<div class="a m" style="left:238px;top:395.7px;font-size:19px">大数据</div>
<div class="a m" style="left:206.5px;top:500.3px;font-size:19px">分析系统</div>
<div class="a" style="left:1252px;top:678px;font-size:16px;color:#8a8a8a">54</div>

<div class="a lbl" style="left:559px;top:210px">行为轨迹</div>
<div class="a lbl" style="left:660.5px;top:208px">交易信息</div>
<div class="a lbl" style="left:559px;top:273px">交互信息</div>
<div class="a lbl" style="left:661.5px;top:275px">物流配送</div>
<div class="a lbl" style="left:901px;top:208.5px">地理特征</div>
<div class="a lbl" style="left:1004px;top:210px">社交关系</div>
<div class="a lbl" style="left:901px;top:271.5px">竞争分析</div>
<div class="a lbl" style="left:1003.5px;top:275px">舆情现状</div>
<div class="a sm" style="left:253px;top:167px">分类</div>
<div class="a sm" style="left:349px;top:166.8px">聚类</div>
<div class="a sm" style="left:251.5px;top:274.6px">预测</div>
<div class="a sm" style="left:356.3px;top:274.6px">关联</div>
</body></html>
